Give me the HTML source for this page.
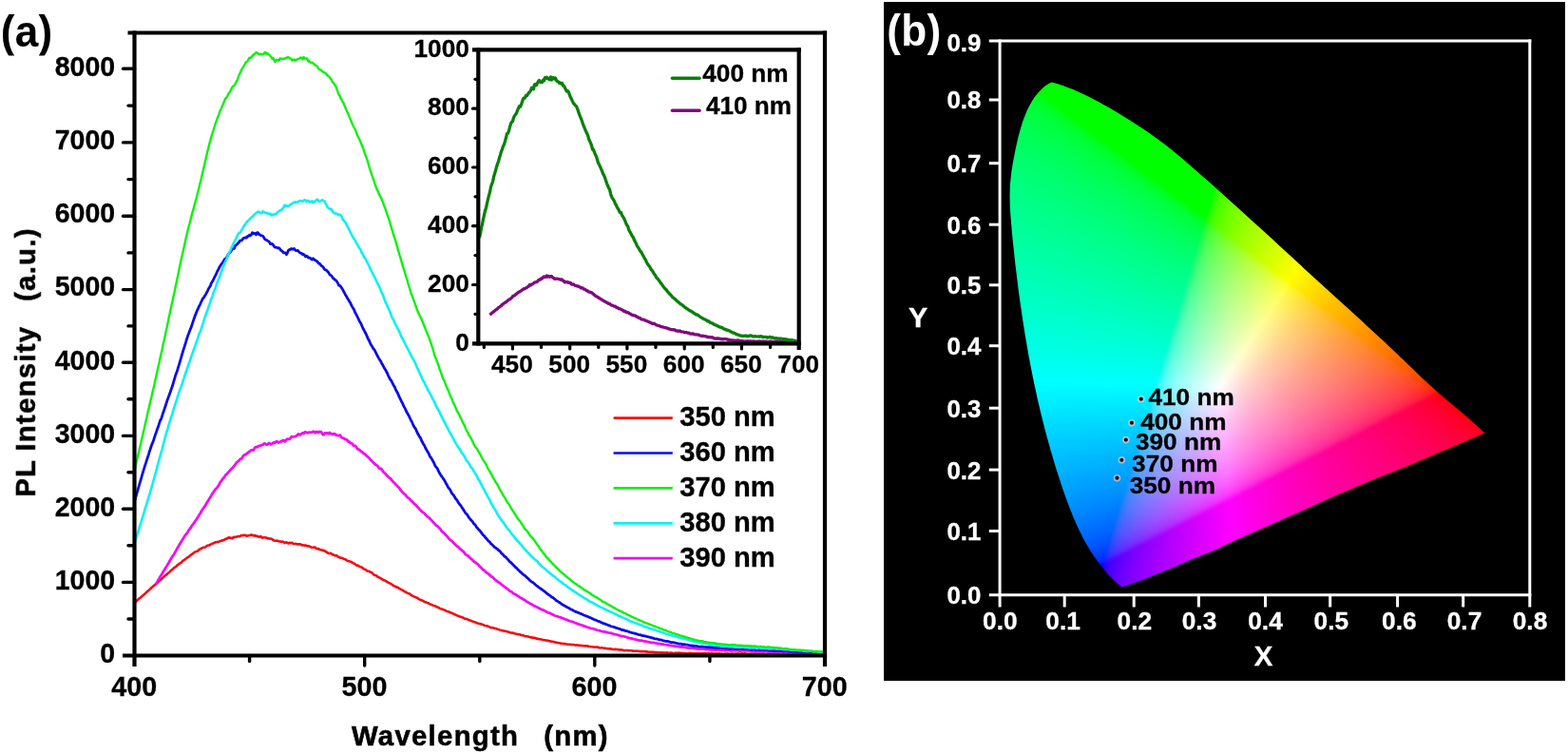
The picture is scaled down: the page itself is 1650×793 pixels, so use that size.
<!DOCTYPE html>
<html lang="en"><head><meta charset="utf-8"><title>PL spectra and CIE chromaticity</title>
<style>
html,body{margin:0;padding:0;background:#fff}
body{width:1650px;height:793px;position:relative;overflow:hidden;font-family:"Liberation Sans",Arial,Helvetica,sans-serif}
#panel{position:absolute;left:929.6px;top:1.5px;width:717.9px;height:714.7px;background:#000}
#gw{position:absolute;left:0;top:0;width:1650px;height:793px;filter:blur(0.6px)}
#gamut{position:absolute;left:1060px;top:84px;width:506px;height:536px;clip-path:polygon(120.8px 533.5px,117.5px 531px,114.4px 528.2px,111.4px 525.4px,108.5px 522.5px,105.7px 519.5px,103px 516.4px,100.4px 513.3px,97.9px 510.1px,95.4px 506.9px,93px 503.6px,90.7px 500.3px,88.5px 496.9px,86.4px 493.4px,84.3px 490px,82.3px 486.4px,80.3px 482.9px,78.4px 479.2px,76.6px 475.6px,74.8px 471.9px,73.1px 468.2px,71.5px 464.5px,69.8px 460.7px,68.3px 456.9px,66.7px 453.1px,65.2px 449.3px,63.8px 445.4px,62.3px 441.5px,60.9px 437.7px,59.6px 433.8px,58.2px 429.9px,56.9px 426px,55.6px 422.1px,54.3px 418.1px,53.1px 414.2px,51.8px 410.3px,50.6px 406.4px,49.4px 402.5px,48.2px 398.5px,47.1px 394.6px,45.9px 390.7px,44.8px 386.7px,43.7px 382.8px,42.6px 378.8px,41.5px 374.9px,40.5px 371px,39.4px 367px,38.4px 363px,37.4px 359.1px,36.4px 355.1px,35.4px 351.1px,34.5px 347.2px,33.6px 343.2px,32.6px 339.2px,31.7px 335.2px,30.8px 331.3px,30px 327.3px,29.1px 323.3px,28.2px 319.3px,27.4px 315.3px,26.6px 311.3px,25.8px 307.3px,25px 303.3px,24.2px 299.3px,23.5px 295.3px,22.7px 291.3px,22px 287.2px,21.3px 283.2px,20.6px 279.2px,19.9px 275.2px,19.2px 271.1px,18.5px 267.1px,17.9px 263.1px,17.2px 259px,16.6px 255px,16px 250.9px,15.4px 246.9px,14.8px 242.8px,14.2px 238.8px,13.6px 234.7px,13px 230.6px,12.5px 226.6px,11.9px 222.5px,11.4px 218.4px,10.9px 214.4px,10.4px 210.3px,9.9px 206.2px,9.4px 202.1px,8.9px 198.1px,8.4px 194px,8px 189.9px,7.5px 185.8px,7.1px 181.8px,6.7px 177.7px,6.2px 173.6px,5.8px 169.5px,5.4px 165.4px,5px 161.4px,4.6px 157.3px,4.3px 153.2px,3.9px 149.1px,3.6px 145.1px,3.3px 141px,3px 136.9px,2.8px 132.9px,2.7px 128.8px,2.6px 124.7px,2.6px 120.7px,2.7px 116.6px,2.8px 112.6px,3.1px 108.5px,3.5px 104.5px,3.9px 100.4px,4.4px 96.4px,5px 92.4px,5.7px 88.3px,6.4px 84.3px,7.2px 80.2px,8px 76.1px,8.8px 72.1px,9.7px 68px,10.6px 63.9px,11.5px 59.9px,12.6px 55.9px,13.7px 51.9px,14.9px 47.9px,16.1px 44px,17.5px 40.2px,19px 36.4px,20.6px 32.6px,22.3px 29px,24.2px 25.4px,26.2px 22px,28.4px 18.6px,30.8px 15.4px,33.4px 12.4px,36.3px 9.5px,39.3px 6.8px,42.7px 4.4px,46.5px 2.4px,52.3px 3.9px,58px 5.8px,63.6px 7.9px,69.1px 10.1px,74.6px 12.4px,80px 14.9px,85.3px 17.5px,90.6px 20.2px,95.9px 23px,101.1px 25.9px,106.2px 28.8px,111.4px 31.8px,116.5px 34.8px,121.6px 37.9px,126.6px 41.1px,131.7px 44.3px,136.7px 47.5px,141.7px 50.8px,146.6px 54.1px,151.5px 57.5px,156.4px 61px,161.2px 64.5px,166px 68.1px,170.6px 71.8px,175.3px 75.5px,179.9px 79.3px,184.4px 83.1px,189px 87px,193.5px 90.9px,197.9px 94.8px,202.4px 98.8px,206.9px 102.7px,211.4px 106.6px,215.8px 110.6px,220.3px 114.5px,224.7px 118.5px,229.2px 122.5px,233.6px 126.5px,238px 130.5px,242.5px 134.5px,246.9px 138.5px,251.3px 142.5px,255.7px 146.5px,260.1px 150.5px,264.6px 154.5px,269px 158.5px,273.4px 162.6px,277.8px 166.6px,282.2px 170.6px,286.6px 174.7px,291px 178.7px,295.4px 182.7px,299.8px 186.8px,304.1px 190.8px,308.5px 194.8px,312.9px 198.9px,317.3px 202.9px,321.7px 206.9px,326.1px 211px,330.5px 215px,334.9px 219px,339.3px 223px,343.7px 227.1px,348.1px 231.1px,352.5px 235.1px,357px 239.1px,361.4px 243.1px,365.8px 247.1px,370.2px 251.1px,374.6px 255.1px,379px 259.2px,383.4px 263.2px,387.7px 267.2px,392.1px 271.3px,396.5px 275.3px,400.8px 279.4px,405.2px 283.5px,409.5px 287.6px,413.8px 291.7px,418.1px 295.8px,422.4px 300px,426.7px 304.1px,431px 308.3px,435.3px 312.4px,439.7px 316.5px,444px 320.6px,448.5px 324.6px,452.9px 328.5px,457.5px 332.4px,462px 336.3px,466.6px 340.1px,471.2px 343.9px,475.7px 347.7px,480.3px 351.6px,484.8px 355.5px,489.3px 359.4px,493.8px 363.4px,498.1px 367.4px,502.4px 371.6px,462px 388.8px,421.7px 405.9px,381.4px 422.1px,341px 439.2px,310.8px 453px,240px 484.3px,217.3px 494.9px,193px 504.8px,171.8px 513.9px,141.5px 526.2px)}
#rows{position:absolute;left:0;top:0;width:100%;height:100%;filter:blur(1.8px)}
#gamut i{position:absolute;display:block;height:2.5px}
svg{position:absolute;left:0;top:0}
</style></head><body>
<div id="panel"></div>
<div id="gw"><div id="gamut"><div id="rows"><i style="left:35px;top:2px;width:27px;background:linear-gradient(90deg,#00ff00 0px,#00ff00 26px)"></i><i style="left:32px;top:4px;width:36px;background:linear-gradient(90deg,#00ff00 0px,#00ff00 35px)"></i><i style="left:29px;top:6px;width:44px;background:linear-gradient(90deg,#00ff00 0px,#00ff00 43px)"></i><i style="left:27px;top:8px;width:51px;background:linear-gradient(90deg,#00ff00 0px,#00ff00 50px)"></i><i style="left:25px;top:10px;width:58px;background:linear-gradient(90deg,#00ff16 0px,#00ff0d 2px,#00ff00 3px,#00ff00 57px)"></i><i style="left:24px;top:12px;width:63px;background:linear-gradient(90deg,#00ff20 0px,#00ff11 5px,#00ff00 7px,#00ff00 62px)"></i><i style="left:22px;top:14px;width:70px;background:linear-gradient(90deg,#00ff28 0px,#00ff14 9px,#00ff0f 10px,#00ff03 11px,#00ff00 17px,#00ff00 69px)"></i><i style="left:20px;top:16px;width:76px;background:linear-gradient(90deg,#00ff2e 0px,#00ff1c 11px,#00ff0d 15px,#00ff00 16px,#00ff00 75px)"></i><i style="left:19px;top:18px;width:81px;background:linear-gradient(90deg,#00ff33 0px,#00ff1e 14px,#00ff11 18px,#00ff00 20px,#00ff00 80px)"></i><i style="left:18px;top:20px;width:85px;background:linear-gradient(90deg,#00ff36 0px,#00ff21 16px,#00ff0f 22px,#00ff00 23px,#00ff00 83px,#00ff00 84px)"></i><i style="left:17px;top:22px;width:90px;background:linear-gradient(90deg,#00ff3a 0px,#00ff23 19px,#00ff12 25px,#00ff0c 26px,#00ff00 27px,#00ff00 87px,#00ff00 89px)"></i><i style="left:15px;top:24px;width:96px;background:linear-gradient(90deg,#00ff3e 0px,#00ff26 22px,#00ff11 30px,#00ff00 32px,#00ff00 92px,#00ff00 95px)"></i><i style="left:14px;top:26px;width:100px;background:linear-gradient(90deg,#00ff41 0px,#00ff2a 23px,#00ff14 33px,#00ff0f 34px,#00ff00 35px,#00ff00 95px,#00ff00 99px)"></i><i style="left:13px;top:28px;width:105px;background:linear-gradient(90deg,#00ff44 0px,#00ff2a 27px,#00ff16 36px,#00ff0c 38px,#00ff00 39px,#00ff00 99px,#00ff00 104px)"></i><i style="left:12px;top:30px;width:109px;background:linear-gradient(90deg,#00ff46 0px,#00ff2f 27px,#00ff19 39px,#00ff11 41px,#00ff00 43px,#00ff00 103px,#00ff00 108px)"></i><i style="left:12px;top:32px;width:113px;background:linear-gradient(90deg,#00ff48 0px,#00ff30 29px,#00ff1b 41px,#00ff0e 44px,#00ff00 45px,#00ff00 105px,#00ff00 112px)"></i><i style="left:11px;top:34px;width:117px;background:linear-gradient(90deg,#00ff4b 0px,#00ff32 31px,#00ff1f 43px,#00ff12 47px,#00ff0c 48px,#00ff00 49px,#00ff00 109px,#00ff00 116px)"></i><i style="left:10px;top:36px;width:121px;background:linear-gradient(90deg,#00ff4d 0px,#00ff33 34px,#00ff1c 48px,#00ff10 51px,#00ff00 53px,#00ff00 113px,#00ff00 120px)"></i><i style="left:9px;top:38px;width:125px;background:linear-gradient(90deg,#00ff50 0px,#00ff36 35px,#00ff20 50px,#00ff14 54px,#00ff0e 55px,#00ff00 56px,#00ff00 116px,#00ff00 124px)"></i><i style="left:8px;top:40px;width:130px;background:linear-gradient(90deg,#00ff52 0px,#00ff38 36px,#00ff23 52px,#00ff12 58px,#00ff0c 59px,#00ff00 60px,#00ff00 120px,#00ff00 129px)"></i><i style="left:8px;top:42px;width:133px;background:linear-gradient(90deg,#00ff53 0px,#00ff3b 36px,#00ff25 54px,#00ff15 60px,#00ff00 63px,#00ff00 123px,#00ff00 132px)"></i><i style="left:7px;top:44px;width:137px;background:linear-gradient(90deg,#00ff55 0px,#00ff3b 40px,#00ff24 58px,#00ff14 64px,#00ff0e 65px,#00ff00 66px,#00ff00 126px,#00ff00 136px)"></i><i style="left:6px;top:46px;width:141px;background:linear-gradient(90deg,#00ff58 0px,#00ff3a 45px,#00ff24 62px,#00ff12 68px,#00ff00 70px,#00ff00 130px,#00ff00 140px)"></i><i style="left:6px;top:48px;width:144px;background:linear-gradient(90deg,#00ff59 0px,#00ff3c 46px,#00ff23 65px,#00ff15 70px,#00ff00 73px,#00ff00 133px,#00ff00 143px)"></i><i style="left:5px;top:50px;width:148px;background:linear-gradient(90deg,#00ff5b 0px,#00ff3f 46px,#00ff28 66px,#00ff14 74px,#00ff0e 75px,#00ff00 76px,#00ff00 136px,#00ff00 147px)"></i><i style="left:5px;top:52px;width:151px;background:linear-gradient(90deg,#00ff5d 0px,#00ff3f 49px,#00ff26 70px,#00ff12 77px,#00ff00 79px,#00ff00 139px,#00ff00 150px)"></i><i style="left:4px;top:54px;width:155px;background:linear-gradient(90deg,#00ff5e 0px,#00ff43 48px,#00ff29 72px,#00ff15 80px,#00ff00 83px,#00ff00 143px,#00ff00 154px)"></i><i style="left:4px;top:56px;width:158px;background:linear-gradient(90deg,#00ff60 0px,#00ff43 51px,#00ff2a 74px,#00ff18 82px,#00ff0e 84px,#00ff00 85px,#00ff00 145px,#00ff00 157px)"></i><i style="left:3px;top:58px;width:161px;background:linear-gradient(90deg,#00ff62 0px,#00ff45 52px,#00ff2d 76px,#00ff17 86px,#00ff0b 88px,#00ff00 89px,#00ff00 149px,#00ff00 160px)"></i><i style="left:3px;top:60px;width:164px;background:linear-gradient(90deg,#00ff63 0px,#00ff46 54px,#00ff2e 78px,#00ff19 88px,#00ff10 90px,#00ff05 91px,#00ff00 93px,#00ff00 153px,#00ff00 163px)"></i><i style="left:2px;top:62px;width:168px;background:linear-gradient(90deg,#00ff65 0px,#00ff48 55px,#00ff2c 83px,#00ff18 92px,#00ff0e 94px,#00ff00 95px,#00ff00 155px,#00ff00 167px)"></i><i style="left:2px;top:64px;width:171px;background:linear-gradient(90deg,#00ff66 0px,#00ff49 57px,#00ff2d 85px,#00ff17 95px,#00ff0a 97px,#00ff00 98px,#00ff00 158px,#00ff00 170px)"></i><i style="left:1px;top:66px;width:174px;background:linear-gradient(90deg,#00ff68 0px,#00ff4a 59px,#00ff31 86px,#00ff1c 97px,#00ff10 100px,#00ff03 101px,#00ff00 107px,#00ff00 167px,#00ff00 173px)"></i><i style="left:1px;top:68px;width:177px;background:linear-gradient(90deg,#00ff69 0px,#00ff4b 60px,#00ff32 88px,#00ff1e 99px,#00ff0e 103px,#00ff00 104px,#00ff00 164px,#00ff00 176px)"></i><i style="left:0px;top:70px;width:180px;background:linear-gradient(90deg,#00ff6b 0px,#00ff4e 60px,#00ff34 90px,#00ff20 102px,#00ff12 106px,#00ff00 108px,#00ff00 168px,#00ff00 179px)"></i><i style="left:0px;top:72px;width:183px;background:linear-gradient(90deg,#00ff6c 0px,#00ff50 60px,#00ff35 92px,#00ff22 104px,#00ff10 109px,#00ff00 110px,#00ff00 170px,#00ff00 182px)"></i><i style="left:-1px;top:74px;width:186px;background:linear-gradient(90deg,#00ff6e 0px,#00ff52 60px,#00ff3a 91px,#00ff25 106px,#00ff14 112px,#00ff0d 113px,#00ff00 114px,#00ff00 174px,#00ff00 185px)"></i><i style="left:-1px;top:76px;width:189px;background:linear-gradient(90deg,#00ff6f 0px,#00ff54 60px,#00ff3b 93px,#00ff25 109px,#00ff12 115px,#00ff00 117px,#00ff00 177px,#00ff00 188px)"></i><i style="left:-1px;top:78px;width:191px;background:linear-gradient(90deg,#00ff70 0px,#00ff56 60px,#00ff3b 96px,#00ff24 112px,#00ff15 117px,#00ff10 118px,#00ff00 119px,#00ff00 179px,#00ff00 190px)"></i><i style="left:-2px;top:80px;width:195px;background:linear-gradient(90deg,#00ff72 0px,#00ff58 60px,#00ff3e 97px,#00ff26 115px,#00ff14 121px,#00ff0d 122px,#00ff00 123px,#00ff00 183px,#00ff00 194px)"></i><i style="left:-2px;top:82px;width:197px;background:linear-gradient(90deg,#00ff73 0px,#00ff5a 60px,#00ff3e 100px,#00ff27 117px,#00ff17 123px,#00ff09 125px,#00ff00 126px,#00ff00 186px,#00ff00 196px)"></i><i style="left:-2px;top:84px;width:199px;background:linear-gradient(90deg,#00ff74 0px,#00ff5c 60px,#00ff3f 102px,#00ff27 120px,#00ff15 126px,#00ff10 127px,#00ff00 128px,#00ff00 188px,#00ff00 198px)"></i><i style="left:-3px;top:86px;width:203px;background:linear-gradient(90deg,#00ff76 0px,#00ff5e 60px,#00ff40 105px,#00ff26 124px,#00ff14 130px,#00ff0d 131px,#00ff00 132px,#00ff00 192px,#00ff00 202px)"></i><i style="left:-3px;top:88px;width:205px;background:linear-gradient(90deg,#00ff77 0px,#00ff60 60px,#00ff42 105px,#00ff2b 124px,#00ff17 132px,#00ff09 134px,#00ff00 135px,#00ff00 195px,#00ff00 204px)"></i><i style="left:-3px;top:90px;width:207px;background:linear-gradient(90deg,#00ff78 0px,#00ff61 60px,#00ff45 105px,#00ff2b 127px,#00ff1a 134px,#00ff10 136px,#00ff00 137px,#00ff00 197px,#00ff00 206px)"></i><i style="left:-4px;top:92px;width:210px;background:linear-gradient(90deg,#00ff7a 0px,#00ff63 60px,#00ff46 108px,#00ff2c 130px,#00ff18 138px,#00ff0d 140px,#00ff00 141px,#00ff00 201px,#00ff00 209px)"></i><i style="left:-4px;top:94px;width:213px;background:linear-gradient(90deg,#00ff7b 0px,#00ff65 60px,#00ff46 111px,#00ff2c 133px,#00ff17 141px,#00ff08 143px,#00ff00 144px,#00ff00 204px,#00ff00 212px)"></i><i style="left:-4px;top:96px;width:215px;background:linear-gradient(90deg,#00ff7c 0px,#00ff66 60px,#00ff4a 109px,#00ff30 133px,#00ff1a 143px,#00ff0f 145px,#00ff00 146px,#00ff00 206px,#00ff00 214px)"></i><i style="left:-5px;top:98px;width:218px;background:linear-gradient(90deg,#00ff7d 0px,#00ff68 60px,#00ff4c 110px,#00ff33 135px,#00ff1f 145px,#00ff14 148px,#00ff00 150px,#00ff00 210px,#00ff00 217px)"></i><i style="left:-5px;top:100px;width:221px;background:linear-gradient(90deg,#00ff7f 0px,#00ff6a 60px,#00ff4c 113px,#00ff34 137px,#00ff1e 148px,#00ff12 151px,#00ff00 153px,#00ff00 213px,#00ff00 220px)"></i><i style="left:-5px;top:102px;width:223px;background:linear-gradient(90deg,#00ff80 0px,#00ff6b 60px,#00ff4f 112px,#00ff35 139px,#00ff20 150px,#00ff16 153px,#00ff0f 154px,#00ff00 155px,#00ff00 215px,#00ff00 222px)"></i><i style="left:-5px;top:104px;width:225px;background:linear-gradient(90deg,#00ff81 0px,#00ff6d 60px,#00ff4f 115px,#00ff32 144px,#00ff1c 154px,#00ff14 156px,#00ff00 158px,#00ff00 218px,#00ff00 224px)"></i><i style="left:-5px;top:106px;width:227px;background:linear-gradient(90deg,#00ff82 0px,#00ff6e 60px,#00ff50 117px,#00ff33 146px,#00ff1b 157px,#00ff12 159px,#00ff06 160px,#00ff00 161px,#00ff00 221px,#00ff00 226px)"></i><i style="left:-6px;top:108px;width:231px;background:linear-gradient(90deg,#00ff83 0px,#00ff70 60px,#00ff52 118px,#00ff37 147px,#00ff21 159px,#00ff0f 163px,#00ff00 164px,#00ff00 224px,#00ff00 227px,#1bff00 228px,#2dff00 230px)"></i><i style="left:-6px;top:110px;width:233px;background:linear-gradient(90deg,#00ff84 0px,#00ff71 60px,#00ff53 120px,#00ff37 150px,#00ff1d 163px,#00ff0c 166px,#00ff00 167px,#00ff00 226px,#14ff00 227px,#22ff00 228px,#3bff00 232px)"></i><i style="left:-6px;top:112px;width:235px;background:linear-gradient(90deg,#00ff86 0px,#00ff73 60px,#00ff55 120px,#00ff38 152px,#00ff22 164px,#00ff12 168px,#00ff05 169px,#00ff00 171px,#00ff00 225px,#04ff00 226px,#1dff00 227px,#35ff00 230px,#46ff00 234px)"></i><i style="left:-6px;top:114px;width:237px;background:linear-gradient(90deg,#00ff87 0px,#00ff74 60px,#00ff57 120px,#00ff3e 150px,#00ff24 166px,#00ff16 170px,#00ff0f 171px,#00ff00 172px,#00ff00 225px,#18ff00 226px,#2cff00 228px,#49ff00 234px,#4fff00 236px)"></i><i style="left:-6px;top:116px;width:240px;background:linear-gradient(90deg,#00ff88 0px,#00ff75 60px,#00ff59 120px,#00ff3f 152px,#00ff28 167px,#00ff14 173px,#00ff00 175px,#00ff00 224px,#20ff00 226px,#3bff00 230px,#5aff00 239px)"></i><i style="left:-6px;top:118px;width:242px;background:linear-gradient(90deg,#00ff89 0px,#00ff77 60px,#00ff5b 120px,#00ff41 153px,#00ff27 170px,#00ff17 175px,#00ff12 176px,#00ff03 177px,#00ff00 183px,#00ff00 224px,#1bff00 225px,#2eff00 227px,#4aff00 233px,#61ff00 241px)"></i><i style="left:-6px;top:120px;width:244px;background:linear-gradient(90deg,#00ff8a 0px,#00ff78 60px,#00ff5d 120px,#00ff42 155px,#00ff29 172px,#00ff16 178px,#00ff0f 179px,#00ff00 180px,#00ff00 223px,#14ff00 224px,#2bff00 226px,#48ff00 232px,#67ff00 243px)"></i><i style="left:-6px;top:122px;width:246px;background:linear-gradient(90deg,#00ff8b 0px,#00ff79 60px,#00ff5f 120px,#00ff44 156px,#00ff2a 174px,#00ff19 180px,#00ff0b 182px,#00ff00 183px,#00ff00 222px,#03ff00 223px,#1eff00 224px,#35ff00 227px,#51ff00 234px,#6dff00 245px)"></i><i style="left:-6px;top:124px;width:249px;background:linear-gradient(90deg,#00ff8c 0px,#00ff7b 60px,#00ff61 120px,#00ff45 157px,#00ff2e 175px,#00ff17 183px,#00ff11 184px,#00ff00 185px,#00ff00 222px,#18ff00 223px,#2cff00 225px,#46ff00 230px,#6dff00 244px,#75ff00 248px)"></i><i style="left:-6px;top:126px;width:251px;background:linear-gradient(90deg,#00ff8d 0px,#00ff7c 60px,#00ff62 120px,#00ff48 157px,#00ff2f 177px,#00ff1a 185px,#00ff0f 187px,#00ff00 188px,#00ff00 221px,#20ff00 223px,#31ff00 225px,#4fff00 232px,#72ff00 246px,#7aff00 250px)"></i><i style="left:-6px;top:128px;width:253px;background:linear-gradient(90deg,#00ff8e 0px,#00ff7d 60px,#00ff64 120px,#00ff4a 158px,#00ff32 178px,#00ff1d 187px,#00ff14 189px,#00ff00 191px,#00ff00 221px,#1bff00 222px,#2eff00 224px,#47ff00 229px,#6eff00 243px,#7fff00 252px)"></i><i style="left:-6px;top:130px;width:255px;background:linear-gradient(90deg,#00ff90 0px,#00ff7f 60px,#00ff66 120px,#00ff4a 161px,#00ff32 181px,#00ff1c 190px,#00ff11 192px,#00ff00 193px,#00ff00 220px,#15ff00 221px,#23ff00 222px,#3dff00 226px,#5fff00 236px,#84ff00 254px)"></i><i style="left:-6px;top:132px;width:257px;background:linear-gradient(90deg,#00ff91 0px,#00ff80 60px,#00ff68 120px,#00ff4a 164px,#00ff30 185px,#00ff1b 193px,#00ff0e 195px,#00ff00 196px,#00ff00 219px,#03ff00 220px,#1eff00 221px,#36ff00 224px,#55ff00 232px,#7bff00 248px,#89ff00 256px)"></i><i style="left:-6px;top:134px;width:260px;background:linear-gradient(90deg,#00ff92 0px,#00ff81 60px,#00ff6a 120px,#00ff4c 165px,#00ff31 187px,#00ff1d 195px,#00ff14 197px,#00ff00 199px,#00ff00 219px,#18ff00 220px,#2dff00 222px,#4aff00 228px,#6cff00 240px,#8fff00 259px)"></i><i style="left:-6px;top:136px;width:262px;background:linear-gradient(90deg,#00ff93 0px,#00ff83 60px,#00ff6b 120px,#00ff4e 166px,#00ff31 190px,#00ff1c 198px,#00ff11 200px,#00ff00 201px,#00ff00 218px,#21ff00 220px,#3cff00 224px,#5fff00 234px,#87ff00 253px,#94ff00 261px)"></i><i style="left:-5px;top:138px;width:263px;background:linear-gradient(90deg,#00ff94 0px,#00ff84 60px,#00ff6c 120px,#00ff51 164px,#00ff37 188px,#00ff1f 199px,#00ff0e 202px,#00ff00 203px,#00ff00 217px,#1cff00 218px,#2fff00 220px,#4fff00 227px,#73ff00 241px,#98ff00 262px)"></i><i style="left:-5px;top:140px;width:265px;background:linear-gradient(90deg,#00ff95 0px,#00ff85 60px,#00ff6e 120px,#00ff52 166px,#00ff37 191px,#00ff21 201px,#00ff14 204px,#00ff00 206px,#00ff00 216px,#15ff00 217px,#2cff00 219px,#4aff00 225px,#6cff00 237px,#98ff00 261px,#9cff00 264px)"></i><i style="left:-5px;top:142px;width:268px;background:linear-gradient(90deg,#00ff96 0px,#00ff86 60px,#00ff70 120px,#00ff53 168px,#00ff38 193px,#00ff20 204px,#00ff11 207px,#00ff00 208px,#02ff00 216px,#1eff00 217px,#30ff00 219px,#49ff00 224px,#70ff00 238px,#a1ff00 266px,#a2ff00 267px)"></i><i style="left:-5px;top:144px;width:270px;background:linear-gradient(90deg,#00ff97 0px,#00ff88 60px,#00ff71 120px,#00ff55 169px,#00ff38 196px,#00ff22 206px,#00ff16 209px,#00ff0e 210px,#00ff00 211px,#00ff00 215px,#19ff00 216px,#2dff00 218px,#43ff00 222px,#66ff00 233px,#93ff00 256px,#a6ff00 269px)"></i><i style="left:-5px;top:146px;width:272px;background:linear-gradient(90deg,#00ff98 0px,#00ff89 60px,#00ff73 120px,#00ff57 169px,#00ff3c 196px,#00ff25 208px,#00ff14 212px,#00ff00 214px,#21ff00 216px,#38ff00 219px,#57ff00 227px,#7dff00 243px,#aaff00 271px)"></i><i style="left:-5px;top:148px;width:274px;background:linear-gradient(90deg,#00ff99 0px,#00ff8a 60px,#00ff75 120px,#00ff56 174px,#00ff39 201px,#00ff24 211px,#00ff18 214px,#1cff11 215px,#27ff00 216px,#40ff00 220px,#62ff00 230px,#8aff00 249px,#aeff00 273px)"></i><i style="left:-5px;top:150px;width:276px;background:linear-gradient(90deg,#00ff9a 0px,#00ff8b 60px,#00ff76 120px,#00ff5b 170px,#00ff41 198px,#00ff28 212px,#00ff26 213px,#15ff23 214px,#2cff1b 216px,#39ff0e 218px,#3eff00 219px,#61ff00 229px,#8dff00 250px,#b2ff00 275px)"></i><i style="left:-4px;top:152px;width:277px;background:linear-gradient(90deg,#00ff9b 0px,#00ff8c 60px,#00ff78 120px,#00ff57 178px,#00ff3a 205px,#00ff2d 212px,#1fff2a 213px,#37ff22 216px,#45ff14 219px,#4dff00 221px,#6fff00 233px,#9dff00 258px,#b6ff00 276px)"></i><i style="left:-4px;top:154px;width:280px;background:linear-gradient(90deg,#00ff9c 0px,#00ff8e 60px,#00ff79 120px,#00ff5c 174px,#00ff42 202px,#00ff34 211px,#19ff32 212px,#2eff2e 214px,#4cff1d 220px,#53ff11 222px,#56ff00 223px,#7dff00 239px,#aeff00 269px,#bbff00 279px)"></i><i style="left:-4px;top:156px;width:282px;background:linear-gradient(90deg,#00ff9d 0px,#00ff8f 60px,#00ff7b 120px,#00ff5d 176px,#00ff42 205px,#00ff3b 210px,#21ff37 212px,#38ff32 215px,#52ff23 221px,#5bff16 224px,#61ff00 226px,#8cff00 246px,#bfff00 281px)"></i><i style="left:-4px;top:158px;width:284px;background:linear-gradient(90deg,#00ff9e 0px,#00ff90 60px,#00ff7c 120px,#00ff60 175px,#00ff43 207px,#00ff3f 210px,#1cff3d 211px,#30ff3a 213px,#4dff2f 219px,#63ff1a 226px,#65ff14 227px,#68ff07 228px,#6aff00 229px,#94ff00 250px,#c3ff00 283px)"></i><i style="left:-4px;top:160px;width:286px;background:linear-gradient(90deg,#00ffa0 0px,#00ff91 60px,#00ff7e 120px,#00ff5f 180px,#00ff44 209px,#15ff43 210px,#24ff41 211px,#3fff3c 215px,#62ff27 225px,#6cff18 229px,#6fff11 230px,#71ff00 231px,#9fff00 256px,#c7ff00 285px)"></i><i style="left:-3px;top:162px;width:287px;background:linear-gradient(90deg,#00ffa0 0px,#00ff92 60px,#00ff7f 120px,#00ff61 179px,#00ff47 208px,#1fff46 209px,#31ff44 211px,#4eff3b 217px,#6bff27 227px,#75ff16 231px,#79ff00 233px,#a8ff00 260px,#cbff00 286px)"></i><i style="left:-3px;top:164px;width:290px;background:linear-gradient(90deg,#00ffa2 0px,#00ff94 60px,#00ff81 120px,#00ff63 179px,#00ff4c 207px,#19ff4b 208px,#2eff48 210px,#49ff42 215px,#70ff2b 228px,#7bff1a 233px,#7dff14 234px,#7fff06 235px,#81ff00 236px,#b3ff00 267px,#d0ff00 289px)"></i><i style="left:-3px;top:166px;width:292px;background:linear-gradient(90deg,#00ffa3 0px,#00ff95 60px,#00ff82 120px,#00ff65 180px,#00ff50 206px,#22ff4e 208px,#39ff4b 211px,#59ff41 219px,#7aff28 232px,#82ff18 236px,#84ff11 237px,#86ff00 238px,#b9ff00 270px,#d4ff00 291px)"></i><i style="left:-3px;top:168px;width:294px;background:linear-gradient(90deg,#00ffa4 0px,#00ff96 60px,#00ff84 120px,#00ff67 180px,#00ff53 206px,#1cff52 207px,#30ff50 209px,#4eff4a 215px,#73ff37 228px,#84ff24 236px,#89ff16 239px,#8dff00 241px,#c6ff00 279px,#d8ff00 293px)"></i><i style="left:-3px;top:170px;width:296px;background:linear-gradient(90deg,#00ffa5 0px,#00ff98 60px,#00ff85 120px,#00ff69 180px,#00ff57 205px,#15ff56 206px,#24ff55 207px,#40ff51 211px,#63ff46 221px,#83ff2e 235px,#8eff1a 241px,#90ff14 242px,#92ff04 243px,#95ff00 245px,#caff00 281px,#dbff00 295px)"></i><i style="left:-2px;top:172px;width:297px;background:linear-gradient(90deg,#00ffa6 0px,#00ff99 60px,#00ff86 120px,#00ff6b 180px,#00ff59 204px,#1fff59 205px,#32ff57 207px,#4fff51 213px,#74ff42 226px,#8eff28 239px,#95ff18 243px,#97ff11 244px,#99ff00 245px,#d8ff00 290px,#dfff00 296px)"></i><i style="left:-2px;top:174px;width:300px;background:linear-gradient(90deg,#00ffa7 0px,#00ff9a 60px,#00ff88 120px,#00ff6d 180px,#00ff5d 203px,#19ff5c 204px,#2fff5a 206px,#4aff56 211px,#6fff49 223px,#90ff30 239px,#9aff1c 245px,#9dff0c 247px,#9fff00 248px,#e1ff00 296px,#e4ff00 299px)"></i><i style="left:-2px;top:176px;width:302px;background:linear-gradient(90deg,#00ffa8 0px,#00ff9b 60px,#00ff8a 120px,#00ff6f 180px,#00ff60 202px,#22ff5f 204px,#3aff5c 207px,#5eff54 216px,#8aff3d 235px,#9bff27 245px,#a2ff14 249px,#a4ff00 250px,#e8ff00 301px)"></i><i style="left:-2px;top:178px;width:304px;background:linear-gradient(90deg,#00ffa9 0px,#00ff9c 60px,#00ff8b 120px,#00ff71 180px,#00ff63 202px,#1dff62 203px,#31ff60 205px,#4fff5c 211px,#72ff50 223px,#96ff37 241px,#a3ff22 249px,#a8ff11 252px,#aaff00 253px,#ecff00 303px)"></i><i style="left:-2px;top:180px;width:306px;background:linear-gradient(90deg,#00ffaa 0px,#00ff9e 60px,#00ff8d 120px,#00ff73 180px,#00ff66 201px,#16ff65 202px,#25ff64 203px,#40ff61 207px,#5fff5b 215px,#89ff48 233px,#a2ff30 247px,#abff1c 253px,#aeff0c 255px,#afff00 256px,#f0ff00 305px)"></i><i style="left:-1px;top:182px;width:307px;background:linear-gradient(90deg,#00ffab 0px,#00ff9f 60px,#00ff8e 120px,#00ff74 180px,#00ff68 200px,#20ff67 201px,#32ff66 203px,#50ff62 209px,#73ff57 221px,#9cff3e 242px,#acff27 252px,#b2ff14 256px,#b4ff00 257px,#f4ff00 306px)"></i><i style="left:-1px;top:184px;width:309px;background:linear-gradient(90deg,#00ffac 0px,#00ffa0 60px,#00ff8f 120px,#00ff76 180px,#00ff6b 199px,#1aff6a 200px,#30ff69 202px,#4fff65 208px,#70ff5c 219px,#9eff42 242px,#b1ff2a 254px,#b7ff19 258px,#b8ff10 259px,#baff00 260px,#f7ff00 308px)"></i><i style="left:-1px;top:186px;width:312px;background:linear-gradient(90deg,#00ffad 0px,#00ffa1 60px,#00ff91 120px,#00ff78 180px,#00ff6e 198px,#22ff6d 200px,#3aff6b 203px,#5cff65 211px,#86ff57 228px,#acff3a 250px,#b8ff25 258px,#bcff16 261px,#bfff00 263px,#fdff00 311px)"></i><i style="left:-1px;top:188px;width:314px;background:linear-gradient(90deg,#00ffae 0px,#00ffa2 60px,#00ff92 120px,#00ff7a 180px,#00ff70 198px,#1dff70 199px,#31ff6e 201px,#4cff6b 206px,#6fff63 217px,#a1ff4a 242px,#b7ff33 256px,#bfff20 262px,#c2ff14 264px,#c4ff00 265px,#fffe00 313px)"></i><i style="left:-1px;top:190px;width:316px;background:linear-gradient(90deg,#00ffb0 0px,#00ffa4 60px,#00ff94 120px,#00ff7c 180px,#00ff73 197px,#16ff72 198px,#25ff72 199px,#3cff70 202px,#5dff6b 210px,#87ff5e 227px,#b1ff42 251px,#c1ff2a 262px,#c6ff19 266px,#c8ff10 267px,#c9ff00 268px,#fffd00 312px,#fffa00 315px)"></i><i style="left:0px;top:192px;width:317px;background:linear-gradient(90deg,#00ffb1 0px,#00ffa5 60px,#00ff95 120px,#00ff7e 180px,#00ff75 196px,#20ff75 197px,#3aff73 200px,#5cff6e 208px,#84ff62 224px,#b2ff46 250px,#c5ff2c 263px,#cbff1d 267px,#ccff17 268px,#cfff00 270px,#fffe00 309px,#fff600 316px)"></i><i style="left:0px;top:194px;width:319px;background:linear-gradient(90deg,#00ffb2 0px,#00ffa6 60px,#00ff96 120px,#00ff80 180px,#00ff78 195px,#1aff77 196px,#30ff76 198px,#4cff73 203px,#72ff6b 215px,#a2ff57 239px,#bfff3e 258px,#cdff25 268px,#d1ff14 271px,#d3ff00 272px,#fffe00 308px,#fff200 318px)"></i><i style="left:0px;top:196px;width:321px;background:linear-gradient(90deg,#00ffb3 0px,#00ffa7 60px,#00ff98 120px,#00ff81 180px,#00ff7a 194px,#23ff79 196px,#3bff78 199px,#5dff73 207px,#8aff67 225px,#bbff49 254px,#cfff2e 268px,#d4ff1f 272px,#d7ff10 274px,#d8ff00 275px,#fffd00 307px,#ffef00 320px)"></i><i style="left:0px;top:198px;width:324px;background:linear-gradient(90deg,#00ffb4 0px,#00ffa9 60px,#00ff99 120px,#00ff83 180px,#00ff7d 194px,#1dff7c 195px,#32ff7b 197px,#4dff78 202px,#73ff71 214px,#a5ff5e 239px,#c8ff41 262px,#d6ff2a 272px,#dbff17 276px,#deff00 278px,#fffd00 306px,#ffea00 323px)"></i><i style="left:1px;top:200px;width:325px;background:linear-gradient(90deg,#00ffb5 0px,#00ffaa 60px,#00ff9b 120px,#00ff85 180px,#00ff7f 192px,#16ff7f 193px,#2fff7e 195px,#4cff7b 200px,#75ff73 213px,#a5ff61 237px,#c9ff46 261px,#daff2c 273px,#dfff1b 277px,#e1ff14 278px,#e2ff00 279px,#fffe00 303px,#ffe700 324px)"></i><i style="left:1px;top:202px;width:327px;background:linear-gradient(90deg,#00ffb6 0px,#00ffab 60px,#00ff9c 120px,#00ff87 180px,#00ff81 192px,#21ff81 193px,#34ff80 195px,#52ff7c 201px,#79ff75 214px,#adff61 241px,#d0ff44 265px,#deff2f 275px,#e5ff19 280px,#e6ff10 281px,#e7ff00 282px,#fffd00 302px,#ffe300 326px)"></i><i style="left:1px;top:204px;width:329px;background:linear-gradient(90deg,#00ffb7 0px,#00ffac 60px,#00ff9e 120px,#00ff89 180px,#00ff84 191px,#1aff83 192px,#31ff82 194px,#51ff7f 200px,#7bff77 214px,#b0ff63 242px,#d5ff46 267px,#e5ff2b 279px,#eaff17 283px,#edff00 285px,#fffd00 301px,#ffe000 328px)"></i><i style="left:1px;top:206px;width:331px;background:linear-gradient(90deg,#00ffb8 0px,#00ffae 60px,#00ff9f 120px,#00ff8a 180px,#00ff86 190px,#23ff85 192px,#35ff84 194px,#50ff82 199px,#7aff7a 213px,#abff69 238px,#d8ff49 268px,#e9ff2d 281px,#eeff1c 285px,#f0ff14 286px,#f1ff00 287px,#fffd00 300px,#ffdd00 330px)"></i><i style="left:2px;top:208px;width:333px;background:linear-gradient(90deg,#00ffb9 0px,#00ffaf 60px,#00ffa0 120px,#00ff8c 180px,#00ff88 189px,#1eff88 190px,#33ff87 192px,#4eff84 197px,#72ff7f 208px,#a4ff70 232px,#d5ff51 264px,#e8ff3a 278px,#f3ff20 286px,#f5ff10 288px,#f6ff00 289px,#fffc00 298px,#ffd900 332px)"></i><i style="left:2px;top:210px;width:335px;background:linear-gradient(90deg,#00ffba 0px,#00ffb0 60px,#00ffa2 120px,#00ff8e 180px,#00ff8a 188px,#16ff8a 189px,#26ff8a 190px,#3dff88 193px,#58ff85 199px,#7bff7f 211px,#a9ff71 234px,#d9ff53 266px,#efff37 282px,#f7ff23 288px,#f9ff17 290px,#fbff08 291px,#fcff00 292px,#fff300 304px,#ffd600 334px)"></i><i style="left:2px;top:212px;width:337px;background:linear-gradient(90deg,#00ffbc 0px,#00ffb1 60px,#00ffa3 120px,#00ff90 180px,#00ff8c 188px,#21ff8c 189px,#3bff8b 192px,#5bff87 199px,#82ff80 213px,#b6ff6e 241px,#e3ff4f 272px,#f7ff31 287px,#feff1c 292px,#ffff14 293px,#fffe00 294px,#ffd200 336px)"></i><i style="left:2px;top:214px;width:339px;background:linear-gradient(90deg,#00ffbd 0px,#00ffb3 60px,#00ffa5 120px,#00ff92 180px,#00ff8f 187px,#1bff8e 188px,#32ff8d 190px,#52ff8b 196px,#75ff85 207px,#a7ff78 231px,#deff59 267px,#f5ff3f 284px,#ffff29 292px,#fffb19 295px,#fff800 297px,#ffcf00 338px)"></i><i style="left:3px;top:216px;width:340px;background:linear-gradient(90deg,#00ffbe 0px,#00ffb4 60px,#00ffa6 120px,#00ff93 180px,#00ff91 185px,#24ff90 187px,#43ff8e 191px,#66ff8a 200px,#92ff81 218px,#cdff69 253px,#f1ff4c 279px,#fffd32 291px,#fff71d 296px,#fff616 297px,#fff407 298px,#fff300 299px,#ffcc00 339px)"></i><i style="left:3px;top:218px;width:343px;background:linear-gradient(90deg,#00ffbf 0px,#00ffb5 60px,#00ffa8 120px,#00ff95 180px,#00ff93 185px,#1eff93 186px,#33ff92 188px,#4fff90 193px,#71ff8b 203px,#9fff80 224px,#daff65 261px,#f8ff4a 283px,#fffd3c 290px,#fff321 298px,#fff013 300px,#ffef00 301px,#ffc900 342px)"></i><i style="left:3px;top:220px;width:345px;background:linear-gradient(90deg,#00ffc0 0px,#00ffb6 60px,#00ffa9 120px,#00ff97 180px,#00ff95 184px,#17ff95 185px,#30ff94 187px,#4eff92 192px,#73ff8d 203px,#a3ff82 225px,#dfff66 263px,#fdff4c 285px,#fff22f 297px,#ffed18 302px,#ffea00 304px,#ffc600 344px)"></i><i style="left:3px;top:222px;width:347px;background:linear-gradient(90deg,#00ffc1 0px,#00ffb8 60px,#00ffab 120px,#00ff99 180px,#00ff97 184px,#21ff97 185px,#35ff96 187px,#55ff94 193px,#7fff8d 207px,#afff81 231px,#ebff62 271px,#fffd4d 287px,#ffec2a 301px,#ffe815 305px,#ffe704 306px,#ffe500 308px,#ffc300 346px)"></i><i style="left:4px;top:224px;width:348px;background:linear-gradient(90deg,#00ffc2 0px,#00ffb9 60px,#00ffac 120px,#00ff9a 180px,#00ff99 182px,#1bff99 183px,#32ff98 185px,#4fff96 190px,#71ff92 200px,#9aff8a 218px,#d5ff74 253px,#ffff56 283px,#ffeb32 300px,#ffe41a 306px,#ffe312 307px,#ffe200 308px,#ffc000 347px)"></i><i style="left:4px;top:226px;width:350px;background:linear-gradient(90deg,#00ffc4 0px,#00ffba 60px,#00ffae 120px,#00ff9c 180px,#00ff9c 181px,#24ff9b 183px,#3eff9a 186px,#61ff97 194px,#8cff90 210px,#c6ff7e 242px,#f6ff64 275px,#fffc58 284px,#ffe630 303px,#ffe11d 308px,#ffde0d 310px,#ffde00 311px,#ffbd00 349px)"></i><i style="left:4px;top:228px;width:352px;background:linear-gradient(90deg,#00ffc5 0px,#00ffbc 60px,#00ffaf 120px,#00ff9e 180px,#00ff9d 181px,#1fff9d 182px,#34ff9c 184px,#55ff9a 190px,#78ff96 201px,#a3ff8d 221px,#deff77 257px,#fffd5f 282px,#ffe334 304px,#ffdc1b 311px,#ffdb14 312px,#ffda00 313px,#ffbb00 351px)"></i><i style="left:4px;top:230px;width:355px;background:linear-gradient(90deg,#00ffc6 0px,#00ffbd 60px,#00ffb1 120px,#00ffa0 180px,#17ff9f 181px,#27ff9f 182px,#3fff9e 185px,#5fff9b 192px,#8bff95 208px,#c6ff85 240px,#fcff68 277px,#fff256 289px,#ffdd30 308px,#ffd819 314px,#ffd711 315px,#ffd600 316px,#ffb700 354px)"></i><i style="left:5px;top:232px;width:356px;background:linear-gradient(90deg,#00ffc7 0px,#00ffbe 60px,#00ffb2 120px,#00ffa2 179px,#22ffa1 180px,#3dffa0 183px,#5eff9e 190px,#88ff98 205px,#beff8b 233px,#ffff6b 277px,#ffde3b 305px,#ffd521 314px,#ffd316 316px,#ffd200 318px,#ffb400 355px)"></i><i style="left:5px;top:234px;width:358px;background:linear-gradient(90deg,#00ffc8 0px,#00ffbf 60px,#00ffb4 120px,#00ffa4 178px,#1bffa3 179px,#2affa3 180px,#46ffa2 184px,#64ff9f 191px,#93ff98 209px,#ceff88 242px,#ffff6f 276px,#ffdb3e 306px,#ffd223 316px,#ffcf13 319px,#ffce00 320px,#ffb200 357px)"></i><i style="left:5px;top:236px;width:360px;background:linear-gradient(90deg,#00ffc9 0px,#00ffc1 60px,#00ffb5 120px,#00ffa6 177px,#25ffa5 179px,#3fffa4 182px,#5fffa2 189px,#8cff9c 205px,#c3ff8f 234px,#fffe73 275px,#ffd83e 308px,#ffce22 319px,#ffcb10 322px,#ffca00 323px,#ffaf00 359px)"></i><i style="left:6px;top:238px;width:361px;background:linear-gradient(90deg,#00ffca 0px,#00ffc2 60px,#00ffb7 120px,#00ffa8 176px,#1fffa8 177px,#35ffa7 179px,#56ffa5 185px,#82ffa0 199px,#beff93 229px,#ffff78 272px,#ffd541 308px,#ffcb24 320px,#ffc815 323px,#ffc600 325px,#ffac00 360px)"></i><i style="left:6px;top:240px;width:364px;background:linear-gradient(90deg,#00ffcc 0px,#00ffc3 60px,#00ffb8 120px,#00ffaa 175px,#17ffaa 176px,#28ffa9 177px,#40ffa8 180px,#64ffa6 188px,#8fffa0 204px,#c8ff93 234px,#fffd7a 272px,#ffd241 310px,#ffc726 322px,#ffc412 326px,#ffc300 327px,#ffa900 363px)"></i><i style="left:6px;top:242px;width:366px;background:linear-gradient(90deg,#00ffcd 0px,#00ffc5 60px,#00ffba 120px,#00ffac 175px,#22ffac 176px,#37ffab 178px,#57ffa9 184px,#7effa5 196px,#adff9d 218px,#edff89 257px,#fffd7e 271px,#ffd147 309px,#ffc427 324px,#ffc117 328px,#ffc00f 329px,#ffbf00 330px,#ffa700 365px)"></i><i style="left:6px;top:244px;width:368px;background:linear-gradient(90deg,#00ffce 0px,#00ffc6 60px,#00ffbb 120px,#00ffae 174px,#1cffae 175px,#34ffad 177px,#4dffac 181px,#72ffa9 191px,#a2ffa2 211px,#e6ff8f 251px,#fffe83 269px,#ffd755 302px,#ffc431 323px,#ffbe1a 330px,#ffbc0a 332px,#ffbc00 333px,#ffa400 367px)"></i><i style="left:7px;top:246px;width:369px;background:linear-gradient(90deg,#00ffcf 0px,#00ffc7 60px,#00ffbd 120px,#00ffb0 172px,#25ffb0 174px,#40ffaf 177px,#64ffac 185px,#8effa7 200px,#c8ff9b 230px,#fffd86 267px,#ffcf4f 307px,#ffc132 324px,#ffbb1d 331px,#ffb912 333px,#ffb900 334px,#ffa100 368px)"></i><i style="left:7px;top:248px;width:371px;background:linear-gradient(90deg,#00ffd1 0px,#00ffc9 60px,#00ffbe 120px,#00ffb2 172px,#20ffb2 173px,#36ffb1 175px,#57ffaf 181px,#7cffac 192px,#adffa4 214px,#f4ff90 257px,#fffd89 266px,#ffd75f 298px,#ffbe33 326px,#ffb71b 334px,#ffb60e 336px,#ffb500 337px,#ff9f00 370px)"></i><i style="left:7px;top:250px;width:374px;background:linear-gradient(90deg,#00ffd2 0px,#00ffca 60px,#00ffc0 120px,#00ffb4 171px,#17ffb4 172px,#28ffb4 173px,#41ffb3 176px,#62ffb1 183px,#8dffac 198px,#c3ffa2 225px,#fffe8e 264px,#ffd561 298px,#ffbb34 328px,#ffb41e 336px,#ffb314 338px,#ffb200 340px,#ff9c00 373px)"></i><i style="left:8px;top:252px;width:375px;background:linear-gradient(90deg,#00ffd3 0px,#00ffcb 60px,#00ffc1 120px,#00ffb6 170px,#23ffb6 171px,#38ffb5 173px,#59ffb4 179px,#83ffb0 192px,#b6ffa8 216px,#feff93 260px,#ffd060 300px,#ffb836 328px,#ffb220 337px,#ffaf11 340px,#ffaf00 341px,#ff9900 374px)"></i><i style="left:8px;top:254px;width:377px;background:linear-gradient(90deg,#00ffd4 0px,#00ffcd 60px,#00ffc3 120px,#00ffb8 169px,#1cffb8 170px,#35ffb7 172px,#53ffb6 177px,#7dffb3 189px,#aeffac 211px,#efff9c 249px,#fffd94 261px,#ffd468 295px,#ffb639 329px,#ffae1f 340px,#ffac0d 343px,#ffab00 344px,#ff9700 376px)"></i><i style="left:8px;top:256px;width:379px;background:linear-gradient(90deg,#00ffd5 0px,#00ffce 60px,#00ffc5 120px,#00ffba 168px,#26ffba 170px,#41ffb9 173px,#66ffb7 181px,#93ffb2 197px,#d1ffa7 229px,#fffe99 259px,#ffd46d 293px,#ffb33a 331px,#ffab21 342px,#ffa913 345px,#ffa800 347px,#ff9400 378px)"></i><i style="left:9px;top:258px;width:380px;background:linear-gradient(90deg,#00ffd7 0px,#00ffd0 60px,#00ffc6 120px,#00ffbc 167px,#20ffbc 168px,#37ffbb 170px,#54ffba 175px,#75ffb8 184px,#a2ffb3 202px,#e5ffa5 239px,#fffd9b 257px,#ffd470 291px,#ffb039 333px,#ffa822 343px,#ffa610 347px,#ffa500 348px,#ff9200 379px)"></i><i style="left:9px;top:260px;width:383px;background:linear-gradient(90deg,#00ffd8 0px,#00ffd1 60px,#00ffc8 120px,#00ffbe 166px,#18ffbe 167px,#29ffbe 168px,#48ffbd 172px,#6bffbb 180px,#99ffb6 197px,#d3ffac 227px,#fffea0 255px,#ffd272 291px,#ffad3b 334px,#ffa521 346px,#ffa315 349px,#ffa200 351px,#ff8e00 382px)"></i><i style="left:9px;top:262px;width:385px;background:linear-gradient(90deg,#00ffd9 0px,#00ffd3 60px,#00ffca 120px,#00ffc0 166px,#23ffc0 167px,#39ffc0 169px,#5affbe 175px,#7dffbc 185px,#b0ffb5 207px,#faffa5 250px,#fffba0 256px,#ffcf72 292px,#ffac3f 334px,#ffa223 348px,#ffa012 352px,#ff9e00 354px,#ff8c00 384px)"></i><i style="left:10px;top:264px;width:386px;background:linear-gradient(90deg,#00ffda 0px,#00ffd4 60px,#00ffcb 120px,#00ffc2 164px,#1dffc2 165px,#35ffc2 167px,#4fffc1 171px,#73ffbf 180px,#9fffba 197px,#daffb0 228px,#fffda5 252px,#ffd279 287px,#ffa83e 336px,#ff9f22 350px,#ff9c0f 354px,#ff9c00 355px,#ff8900 385px)"></i><i style="left:10px;top:266px;width:388px;background:linear-gradient(90deg,#00ffdc 0px,#00ffd5 60px,#00ffcd 120px,#00ffc5 163px,#27ffc4 165px,#42ffc3 168px,#64ffc2 175px,#91ffbe 190px,#c7ffb7 216px,#ffffaa 250px,#ffd580 282px,#ffa844 334px,#ff9d26 351px,#ff9a14 356px,#ff9800 358px,#ff8700 387px)"></i><i style="left:10px;top:268px;width:390px;background:linear-gradient(90deg,#00ffdd 0px,#00ffd7 60px,#00ffce 120px,#00ffc6 163px,#21ffc6 164px,#38ffc6 166px,#56ffc5 171px,#7affc2 181px,#a7ffbe 199px,#e8ffb3 234px,#fffeac 249px,#ffd583 281px,#ffab4e 328px,#ff9c2e 350px,#ff9717 358px,#ff9612 359px,#ff9605 360px,#ff9400 362px,#ff8400 389px)"></i><i style="left:11px;top:270px;width:391px;background:linear-gradient(90deg,#00ffde 0px,#00ffd8 60px,#00ffd0 120px,#00ffc9 161px,#18ffc8 162px,#2affc8 163px,#4affc7 167px,#70ffc5 176px,#9cffc2 192px,#e0ffb7 227px,#fffeaf 247px,#ffd587 278px,#ffa84e 329px,#ff992f 351px,#ff941a 359px,#ff930f 361px,#ff9200 362px,#ff8200 390px)"></i><i style="left:11px;top:272px;width:394px;background:linear-gradient(90deg,#00ffe0 0px,#00ffda 60px,#00ffd2 120px,#00ffcb 161px,#24ffca 162px,#3affca 164px,#5cffc9 170px,#85ffc6 182px,#bbffc0 206px,#ffffb3 245px,#ffd98e 273px,#ffae5c 319px,#ff9835 350px,#ff9220 360px,#ff9013 363px,#ff8f00 365px,#ff7f00 393px)"></i><i style="left:11px;top:274px;width:396px;background:linear-gradient(90deg,#00ffe1 0px,#00ffdb 60px,#00ffd3 120px,#00ffcd 160px,#1dffcd 161px,#36ffcc 163px,#56ffcb 168px,#7effc9 179px,#afffc4 199px,#f8ffb8 239px,#fffbb3 246px,#ffd28a 278px,#ffa553 329px,#ff932f 356px,#ff8e17 365px,#ff8d11 366px,#ff8c03 367px,#ff8900 373px,#ff7c00 395px)"></i><i style="left:12px;top:276px;width:397px;background:linear-gradient(90deg,#00ffe2 0px,#00ffdd 60px,#00ffd5 120px,#00ffcf 158px,#27ffce 160px,#3cffce 162px,#5dffcd 168px,#80ffcb 178px,#b1ffc6 198px,#faffbb 238px,#fffab5 244px,#ffcd88 280px,#ffa050 333px,#ff902e 358px,#ff8b19 366px,#ff8a0e 368px,#ff8900 369px,#ff7a00 396px)"></i><i style="left:12px;top:278px;width:399px;background:linear-gradient(90deg,#00ffe4 0px,#00ffde 60px,#00ffd7 120px,#00ffd1 158px,#21ffd1 159px,#39ffd0 161px,#5cffcf 167px,#83ffcd 178px,#b7ffc8 200px,#feffbd 239px,#ffce8d 277px,#ffa054 331px,#ff8e32 358px,#ff881c 368px,#ff8713 370px,#ff8600 372px,#ff7700 398px)"></i><i style="left:12px;top:280px;width:401px;background:linear-gradient(90deg,#00ffe5 0px,#00ffe0 60px,#00ffd9 120px,#00ffd3 157px,#18ffd3 158px,#2affd3 159px,#45ffd2 162px,#67ffd1 169px,#90ffce 182px,#c9ffc8 208px,#fffebf 239px,#ffd395 271px,#ffa864 318px,#ff8e39 356px,#ff861e 370px,#ff8410 373px,#ff8300 374px,#ff7400 400px)"></i><i style="left:13px;top:282px;width:402px;background:linear-gradient(90deg,#00ffe6 0px,#00ffe1 60px,#00ffda 120px,#00ffd5 156px,#25ffd5 157px,#3bffd4 159px,#5effd3 165px,#87ffd1 177px,#bbffcd 199px,#ffffc3 236px,#ffd196 270px,#ffa260 323px,#ff8934 361px,#ff821c 372px,#ff810e 375px,#ff8000 376px,#ff7200 401px)"></i><i style="left:13px;top:284px;width:404px;background:linear-gradient(90deg,#00ffe8 0px,#00ffe3 60px,#00ffdc 120px,#00ffd7 155px,#1dffd7 156px,#2dffd7 157px,#47ffd6 160px,#69ffd5 167px,#94ffd3 181px,#cdffcd 207px,#fffdc4 236px,#ffd39b 267px,#ffa86b 313px,#ff8839 360px,#ff801e 374px,#ff7e12 377px,#ff7d00 379px,#ff6f00 403px)"></i><i style="left:13px;top:286px;width:406px;background:linear-gradient(90deg,#00ffe9 0px,#00ffe4 60px,#00ffde 120px,#00ffd9 154px,#28ffd9 156px,#3dffd9 158px,#5bffd8 163px,#86ffd6 175px,#bbffd2 197px,#fffec8 234px,#ffd29d 266px,#ffa46a 316px,#ff873c 360px,#ff7d20 376px,#ff7b10 380px,#ff7a00 381px,#ff6c00 405px)"></i><i style="left:14px;top:288px;width:408px;background:linear-gradient(90deg,#00ffea 0px,#00ffe6 60px,#00ffe0 120px,#00ffdb 153px,#22ffdb 154px,#3affdb 156px,#5effda 162px,#88ffd8 174px,#bdffd4 196px,#ffffcc 231px,#ffd09e 265px,#ffa16a 317px,#ff833a 363px,#ff7a1f 378px,#ff770d 382px,#ff7700 383px,#ff6900 407px)"></i><i style="left:14px;top:290px;width:410px;background:linear-gradient(90deg,#00ffec 0px,#00ffe7 60px,#00ffe2 120px,#00ffde 152px,#19ffdd 153px,#2bffdd 154px,#46ffdd 157px,#69ffdc 164px,#93ffda 177px,#cbffd5 202px,#ffffcf 230px,#ffd4a5 260px,#ffa876 306px,#ff813d 363px,#ff7723 379px,#ff7412 384px,#ff7300 386px,#ff6600 409px)"></i><i style="left:14px;top:292px;width:412px;background:linear-gradient(90deg,#00ffed 0px,#00ffe9 60px,#00ffe3 120px,#00ffe0 152px,#25ffdf 153px,#3cffdf 155px,#5bffde 160px,#84ffdd 171px,#bbffd9 193px,#fffed1 229px,#ffd1a5 261px,#ffa474 309px,#ff7d3b 367px,#ff7422 382px,#ff710f 387px,#ff7100 388px,#ff6300 411px)"></i><i style="left:15px;top:294px;width:413px;background:linear-gradient(90deg,#00ffef 0px,#00ffeb 60px,#00ffe5 120px,#00ffe2 150px,#1effe2 151px,#2effe2 152px,#48ffe1 155px,#6fffe0 163px,#9fffde 179px,#dbffd9 207px,#fffed4 227px,#ffd4ab 256px,#ffa77b 302px,#ff7e42 362px,#ff7225 382px,#ff6e13 388px,#ff6d00 390px,#ff6000 412px)"></i><i style="left:15px;top:296px;width:415px;background:linear-gradient(90deg,#00fff0 0px,#00ffec 60px,#00ffe7 120px,#00ffe4 149px,#29ffe4 151px,#3effe4 153px,#61ffe3 159px,#8cffe1 171px,#c6ffdd 195px,#fffdd6 226px,#ffd2ac 256px,#ffa67c 302px,#ff7c45 362px,#ff7028 383px,#ff6b16 390px,#ff6a00 393px,#ff5d00 414px)"></i><i style="left:15px;top:298px;width:417px;background:linear-gradient(90deg,#00fff2 0px,#00ffee 60px,#00ffe9 120px,#00ffe6 149px,#22ffe6 150px,#3bffe6 152px,#5bffe5 157px,#85ffe4 168px,#bbffe1 189px,#ffffda 224px,#ffd5b2 252px,#ffa781 298px,#ff7d4b 358px,#ff6d2b 384px,#ff6918 392px,#ff670f 394px,#ff6700 395px,#ff5a00 416px)"></i><i style="left:16px;top:300px;width:418px;background:linear-gradient(90deg,#00fff3 0px,#00fff0 60px,#00ffeb 120px,#00ffe8 147px,#19ffe8 148px,#2cffe8 149px,#47ffe8 152px,#67ffe7 158px,#90ffe6 170px,#c6ffe3 192px,#fffedd 222px,#ffd3b2 251px,#ffa784 295px,#ff7d4f 355px,#ff6c2f 383px,#ff6517 394px,#ff640c 396px,#ff6300 397px,#ff5700 417px)"></i><i style="left:16px;top:302px;width:420px;background:linear-gradient(90deg,#00fff5 0px,#00fff1 60px,#00ffed 120px,#00ffea 147px,#26ffea 148px,#3dffea 150px,#57ffea 154px,#7dffe9 163px,#adffe7 180px,#ffffe1 220px,#ffd5b7 248px,#ffad8e 286px,#ff8159 346px,#ff6c37 380px,#ff631f 394px,#ff6111 398px,#ff6000 400px,#ff5400 419px)"></i><i style="left:17px;top:304px;width:421px;background:linear-gradient(90deg,#00fff6 0px,#00fff3 60px,#00ffef 120px,#00ffed 145px,#1fffed 146px,#3affec 148px,#5bffec 153px,#83ffeb 163px,#bbffe9 184px,#ffffe3 218px,#ffd5bb 245px,#ffa88b 289px,#ff7d58 349px,#ff6632 385px,#ff5f1b 397px,#ff5d0e 400px,#ff5c00 401px,#ff5000 420px)"></i><i style="left:17px;top:306px;width:423px;background:linear-gradient(90deg,#00fff7 0px,#00fff5 60px,#00fff1 120px,#00ffef 144px,#12ffef 145px,#2affef 146px,#47ffef 149px,#6cffee 156px,#97ffed 169px,#d1ffea 193px,#fffee6 217px,#ffceb6 249px,#ff9e84 299px,#ff7550 359px,#ff6230 389px,#ff5b1a 400px,#ff590b 403px,#ff5900 404px,#ff4d00 422px)"></i><i style="left:17px;top:308px;width:425px;background:linear-gradient(90deg,#00fff9 0px,#00fff6 60px,#00fff3 120px,#00fff1 144px,#23fff1 145px,#3cfff1 147px,#5dfff1 152px,#85fff0 162px,#bdffee 183px,#fffde8 216px,#ffd0bb 246px,#ffa18a 293px,#ff7758 353px,#ff5f32 390px,#ff581c 402px,#ff5610 405px,#ff5500 407px,#ff4900 424px)"></i><i style="left:18px;top:310px;width:426px;background:linear-gradient(90deg,#00fffb 0px,#00fff8 60px,#00fff5 120px,#00fff3 142px,#1afff3 143px,#2dfff3 144px,#50fff3 148px,#76fff2 156px,#acfff1 174px,#f4ffed 207px,#fffdeb 214px,#ffd3c1 241px,#ffa692 284px,#ff7a60 344px,#ff5d34 390px,#ff541b 404px,#ff520e 407px,#ff5100 408px,#ff4500 425px)"></i><i style="left:18px;top:312px;width:429px;background:linear-gradient(90deg,#00fffc 0px,#00fffa 60px,#00fff7 120px,#00fff6 142px,#27fff6 143px,#3efff6 145px,#59fff5 149px,#80fff5 158px,#b6fff3 177px,#fefff0 211px,#ffd0c0 242px,#ffa695 282px,#ff7a63 342px,#ff5b37 390px,#ff511f 405px,#ff4e12 409px,#ff4d00 411px,#ff4000 428px)"></i><i style="left:19px;top:314px;width:430px;background:linear-gradient(90deg,#00fffe 0px,#00fffc 60px,#00fff9 120px,#00fff8 140px,#1ffff8 141px,#30fff8 142px,#4bfff8 145px,#6bfff7 151px,#95fff7 163px,#cbfff5 184px,#fffef1 210px,#ffd7ca 234px,#ffaea0 271px,#ff7f6d 330px,#ff593a 389px,#ff4d20 406px,#ff4a10 411px,#ff4800 413px,#ff3c00 429px)"></i><i style="left:19px;top:316px;width:432px;background:linear-gradient(90deg,#00ffff 0px,#00fffe 60px,#00fffb 120px,#00fffa 139px,#2afffa 141px,#40fffa 143px,#60fffa 148px,#8cfff9 159px,#c4fff8 180px,#fffff6 208px,#ffd6cc 233px,#ffaa9f 273px,#ff7c6c 333px,#ff553a 391px,#ff491f 409px,#ff4613 413px,#ff450d 414px,#ff4400 415px,#ff3700 431px)"></i><i style="left:19px;top:318px;width:434px;background:linear-gradient(90deg,#00fdff 0px,#00ffff 60px,#00fffd 120px,#00fffd 139px,#24fffd 140px,#3dfffd 142px,#5ffffc 147px,#8bfffc 158px,#bffffb 177px,#fffef8 207px,#ffd1ca 235px,#ff9f96 283px,#ff7366 343px,#ff5037 396px,#ff4520 411px,#ff4111 416px,#ff3f00 418px,#ff3100 433px)"></i><i style="left:20px;top:320px;width:435px;background:linear-gradient(90deg,#00fcff 0px,#00fdff 60px,#00feff 120px,#00ffff 137px,#1affff 138px,#2effff 139px,#43ffff 141px,#67ffff 147px,#94fffe 159px,#cdfffd 181px,#fffefb 205px,#ffd6d2 229px,#ffada8 265px,#ff7d74 325px,#ff5444 385px,#ff4327 409px,#ff3c14 417px,#ff3b0f 418px,#ff3a04 419px,#ff3800 421px,#ff2a00 434px)"></i><i style="left:20px;top:322px;width:437px;background:linear-gradient(90deg,#00faff 0px,#00fbff 60px,#00fcff 120px,#00fdff 137px,#27fdff 138px,#3ffdff 140px,#60fdff 145px,#8cfdff 156px,#c3feff 176px,#ffffff 203px,#ffd5d4 228px,#ffa8a5 268px,#ff7973 328px,#ff5043 388px,#ff3e28 411px,#ff3716 419px,#ff350d 421px,#ff3400 422px,#ff2200 436px)"></i><i style="left:21px;top:324px;width:439px;background:linear-gradient(90deg,#00f9ff 0px,#00f9ff 60px,#00faff 120px,#00faff 135px,#1ffaff 136px,#30faff 137px,#4bfaff 140px,#70fbff 147px,#9ffbff 161px,#dffcff 187px,#fffafd 203px,#ffcfd0 230px,#ffa4a4 269px,#ff7673 329px,#ff4c43 389px,#ff3929 412px,#ff3015 421px,#ff2d0a 423px,#ff2c00 424px,#ff1800 436px,#ff1100 438px)"></i><i style="left:21px;top:326px;width:441px;background:linear-gradient(90deg,#00f7ff 0px,#00f7ff 60px,#00f8ff 120px,#00f8ff 134px,#12f8ff 135px,#2af8ff 136px,#40f8ff 138px,#60f8ff 143px,#88f8ff 153px,#bff9ff 173px,#fff8fe 203px,#ffd1d5 227px,#ffa4a7 267px,#ff7575 327px,#ff4b47 387px,#ff332a 414px,#ff2714 424px,#ff260f 425px,#ff2403 426px,#ff1800 432px,#ff0d00 435px,#ff0000 436px,#ff0000 440px)"></i><i style="left:22px;top:328px;width:442px;background:linear-gradient(90deg,#00f5ff 0px,#00f6ff 60px,#00f6ff 120px,#00f6ff 133px,#23f6ff 134px,#3cf6ff 136px,#58f6ff 140px,#7ff6ff 149px,#b1f6ff 166px,#fef6ff 201px,#ffc9d0 230px,#ff9ca1 273px,#ff6e71 333px,#ff4343 393px,#ff2926 418px,#ff1b12 426px,#ff190c 427px,#ff1600 428px,#ff0e00 430px,#ff0000 431px,#ff0000 441px)"></i><i style="left:22px;top:330px;width:444px;background:linear-gradient(90deg,#00f4ff 0px,#00f4ff 60px,#00f4ff 120px,#00f3ff 132px,#1af3ff 133px,#2df3ff 134px,#49f3ff 137px,#6ef3ff 144px,#9cf3ff 158px,#dbf3ff 184px,#fff2fe 202px,#ffc7d1 230px,#ff9ba3 272px,#ff6d73 332px,#ff4046 392px,#ff252b 417px,#ff131d 425px,#ff0015 428px,#ff0000 431px,#ff0000 443px)"></i><i style="left:22px;top:332px;width:447px;background:linear-gradient(90deg,#00f2ff 0px,#00f2ff 60px,#00f1ff 120px,#00f1ff 132px,#26f1ff 133px,#3df1ff 135px,#5ef1ff 140px,#8cf1ff 152px,#c7f1ff 175px,#ffeefd 203px,#ffc8d4 228px,#ffa0ac 264px,#ff717a 324px,#ff444e 384px,#ff2a37 410px,#ff172b 420px,#ff0f28 422px,#ff0024 424px,#ff0013 431px,#ff000e 432px,#ff0000 433px,#ff0000 446px)"></i><i style="left:23px;top:334px;width:448px;background:linear-gradient(90deg,#00f1ff 0px,#00f0ff 60px,#00efff 120px,#00efff 130px,#1eefff 131px,#2fefff 132px,#49efff 135px,#69efff 141px,#96efff 154px,#d0eeff 178px,#ffebfd 202px,#ffc3d2 229px,#ff97a5 271px,#ff6976 331px,#ff3a49 391px,#ff2238 410px,#ff1432 416px,#ff002e 419px,#ff0019 431px,#ff000c 434px,#ff0000 435px,#ff0000 447px)"></i><i style="left:23px;top:336px;width:451px;background:linear-gradient(90deg,#00efff 0px,#00eeff 60px,#00edff 120px,#00edff 129px,#29edff 131px,#3fedff 133px,#5eedff 138px,#8becff 150px,#c1ecff 171px,#ffe9fd 202px,#ffbed0 231px,#ff8f9f 278px,#ff6272 338px,#ff354a 392px,#ff1f3d 408px,#ff1038 413px,#ff0036 415px,#ff001d 432px,#ff0010 436px,#ff0000 438px,#ff0000 450px)"></i><i style="left:24px;top:338px;width:452px;background:linear-gradient(90deg,#00eeff 0px,#00ecff 60px,#00ebff 120px,#00ebff 128px,#22ebff 129px,#3bebff 131px,#5beaff 136px,#83eaff 146px,#bbe9ff 167px,#ffe6fe 201px,#ffbed3 228px,#ff8da0 277px,#ff5f73 337px,#ff364f 387px,#ff1d41 404px,#ff103e 408px,#ff003c 410px,#ff0022 431px,#ff0013 437px,#ff000e 438px,#ff0000 439px,#ff0000 451px)"></i><i style="left:24px;top:340px;width:454px;background:linear-gradient(90deg,#00ecff 0px,#00ebff 60px,#00e9ff 120px,#00e8ff 127px,#19e8ff 128px,#2ce8ff 129px,#47e8ff 132px,#67e8ff 138px,#96e7ff 152px,#d5e6ff 179px,#ffe4fe 201px,#ffbcd4 228px,#ff90a5 272px,#ff6177 332px,#ff3452 385px,#ff1b46 401px,#ff1143 404px,#ff0042 406px,#ff0025 432px,#ff0011 440px,#ff0000 442px,#ff0000 453px)"></i><i style="left:25px;top:342px;width:456px;background:linear-gradient(90deg,#00eaff 0px,#00e9ff 60px,#00e7ff 120px,#00e6ff 126px,#25e6ff 127px,#3ce6ff 129px,#56e6ff 133px,#7ce6ff 142px,#b0e4ff 161px,#fee2ff 199px,#ffb4ce 232px,#ff879f 279px,#ff5873 339px,#ff3356 381px,#ff1b4b 396px,#ff0b48 400px,#ff0047 401px,#ff0029 431px,#ff0014 441px,#ff0000 444px,#ff0000 455px)"></i><i style="left:25px;top:344px;width:458px;background:linear-gradient(90deg,#00e9ff 0px,#00e7ff 60px,#00e4ff 120px,#00e4ff 125px,#1ee4ff 126px,#2ee4ff 127px,#48e4ff 130px,#6fe3ff 138px,#9ae3ff 152px,#d3e1ff 177px,#ffdefe 200px,#ffb3d0 231px,#ff849f 280px,#ff5573 340px,#ff3058 380px,#ff194f 393px,#ff0c4d 396px,#ff004c 397px,#ff002b 432px,#ff0016 443px,#ff000d 445px,#ff0000 446px,#ff0000 457px)"></i><i style="left:26px;top:346px;width:460px;background:linear-gradient(90deg,#00e7ff 0px,#00e5ff 60px,#00e2ff 120px,#00e2ff 123px,#11e2ff 124px,#28e2ff 125px,#45e2ff 128px,#65e1ff 134px,#8ee1ff 146px,#c9dfff 171px,#ffdcff 199px,#ffb2d2 229px,#ff819f 280px,#ff5274 340px,#ff2b59 379px,#ff1652 389px,#ff0d51 391px,#ff0050 392px,#ff002f 430px,#ff0018 444px,#ff000b 447px,#ff0000 448px,#ff0000 459px)"></i><i style="left:26px;top:348px;width:462px;background:linear-gradient(90deg,#00e6ff 0px,#00e3ff 60px,#00e0ff 120px,#00e0ff 123px,#22e0ff 124px,#3ae0ff 126px,#54dfff 130px,#76dfff 138px,#a6deff 155px,#f0daff 191px,#ffd8fd 200px,#ffb0d2 229px,#ff82a3 276px,#ff5277 336px,#ff3261 370px,#ff1a57 384px,#ff0d55 387px,#ff0055 388px,#ff0030 432px,#ff0019 446px,#ff000f 449px,#ff0000 451px,#ff0000 461px)"></i><i style="left:27px;top:350px;width:463px;background:linear-gradient(90deg,#00e4ff 0px,#00e2ff 60px,#00deff 120px,#00deff 121px,#2bdeff 123px,#46deff 126px,#6dddff 134px,#9ddcff 150px,#dbd9ff 179px,#ffd5fd 199px,#ffa9ce 232px,#ff7b9f 281px,#ff4a74 341px,#ff2a61 371px,#ff175b 380px,#ff0e59 382px,#ff0059 383px,#ff0033 430px,#ff001d 446px,#ff000d 451px,#ff0000 452px,#ff0000 462px)"></i><i style="left:27px;top:352px;width:466px;background:linear-gradient(90deg,#00e3ff 0px,#00e0ff 60px,#00dcff 120px,#00dcff 121px,#25dcff 122px,#43dbff 125px,#63dbff 131px,#91daff 145px,#d0d7ff 173px,#ffd2fe 199px,#ffaad2 229px,#ff779e 283px,#ff4674 343px,#ff2763 369px,#ff145e 377px,#ff0f5d 378px,#ff005d 379px,#ff0034 432px,#ff001e 448px,#ff0010 453px,#ff0000 455px,#ff0000 465px)"></i><i style="left:28px;top:354px;width:467px;background:linear-gradient(90deg,#00e1ff 0px,#00deff 60px,#00daff 119px,#1ddaff 120px,#2ddaff 121px,#4dd9ff 125px,#74d8ff 134px,#a6d7ff 152px,#f2d2ff 190px,#ffcefc 199px,#ffa4ce 232px,#ff749e 283px,#ff4175 343px,#ff2666 365px,#ff1462 372px,#ff0060 375px,#ff0036 431px,#ff001f 449px,#ff000f 455px,#ff0000 457px,#ff0000 466px)"></i><i style="left:28px;top:356px;width:469px;background:linear-gradient(90deg,#00e0ff 0px,#00dcff 60px,#00d8ff 118px,#27d8ff 120px,#3cd7ff 122px,#5ad7ff 127px,#85d6ff 139px,#bad3ff 161px,#ffcdfe 198px,#ffa3d1 230px,#ff75a2 279px,#ff4278 339px,#ff266a 361px,#ff1466 368px,#ff0764 370px,#ff0064 371px,#ff0039 431px,#ff001f 452px,#ff000d 458px,#ff0000 459px,#ff0000 468px)"></i><i style="left:29px;top:358px;width:471px;background:linear-gradient(90deg,#00deff 0px,#00daff 60px,#00d6ff 117px,#21d6ff 118px,#38d5ff 120px,#52d5ff 124px,#73d4ff 132px,#a0d2ff 148px,#dcceff 177px,#ffc9fd 198px,#ffa0d0 230px,#ff6e9e 284px,#ff3976 343px,#ff1e6b 360px,#ff1069 364px,#ff0067 366px,#ff003e 426px,#ff0023 451px,#ff0014 458px,#ff000a 460px,#ff0000 461px,#ff0000 470px)"></i><i style="left:29px;top:360px;width:473px;background:linear-gradient(90deg,#00ddff 0px,#00d9ff 60px,#00d4ff 116px,#18d4ff 117px,#2ad3ff 118px,#44d3ff 121px,#67d2ff 128px,#97d0ff 144px,#d1cdff 171px,#ffc6fd 198px,#ff9ed1 230px,#ff6fa2 280px,#ff3879 340px,#ff216f 355px,#ff116c 360px,#ff006b 362px,#ff0043 422px,#ff0027 451px,#ff0013 461px,#ff0000 464px,#ff0000 472px)"></i><i style="left:30px;top:362px;width:474px;background:linear-gradient(90deg,#00dbff 0px,#00d7ff 60px,#00d2ff 115px,#24d1ff 116px,#3ad1ff 118px,#58d1ff 123px,#83cfff 135px,#b7ccff 157px,#ffc5ff 196px,#ff9fd5 226px,#ff6fa5 276px,#ff3b7d 333px,#ff2173 350px,#ff1170 355px,#ff006e 357px,#ff0048 417px,#ff0028 452px,#ff0015 462px,#ff000c 464px,#ff0000 465px,#ff0000 473px)"></i><i style="left:30px;top:364px;width:476px;background:linear-gradient(90deg,#00d9ff 0px,#00d5ff 60px,#00d0ff 114px,#1cd0ff 115px,#2ccfff 116px,#4bcfff 120px,#6eceff 128px,#9bccff 144px,#d5c7ff 172px,#ffc1fe 197px,#ff9bd4 227px,#ff6ca5 277px,#ff3980 331px,#ff1d75 348px,#ff0b73 352px,#ff0072 353px,#ff004c 413px,#ff002d 450px,#ff0019 463px,#ff000a 467px,#ff0000 468px,#ff0000 475px)"></i><i style="left:31px;top:366px;width:477px;background:linear-gradient(90deg,#00d8ff 0px,#00d3ff 60px,#00ceff 112px,#27cdff 114px,#42cdff 117px,#65ccff 124px,#95caff 140px,#d5c5ff 171px,#ffbffe 196px,#ff96d1 229px,#ff64a1 282px,#ff3380 331px,#ff1d78 343px,#ff0c76 347px,#ff0075 348px,#ff0050 408px,#ff002f 450px,#ff0018 465px,#ff000e 468px,#ff0000 470px,#ff0000 476px)"></i><i style="left:31px;top:368px;width:479px;background:linear-gradient(90deg,#00d6ff 0px,#00d1ff 60px,#00ccff 112px,#20cbff 113px,#37cbff 115px,#51cbff 119px,#74c9ff 128px,#a1c7ff 145px,#e5c0ff 180px,#ffbbfd 197px,#ff94d3 228px,#ff64a4 279px,#ff3584 326px,#ff1b7b 340px,#ff0d79 343px,#ff0079 344px,#ff0054 404px,#ff0032 449px,#ff001c 466px,#ff000c 471px,#ff0000 472px,#ff0000 478px)"></i><i style="left:32px;top:370px;width:479px;background:linear-gradient(90deg,#00d5ff 0px,#00d0ff 60px,#00caff 110px,#29c9ff 112px,#43c9ff 115px,#65c8ff 122px,#8fc6ff 136px,#c3c2ff 160px,#ffb9ff 195px,#ff95d7 224px,#ff69ab 270px,#ff3889 319px,#ff1e7f 334px,#ff0e7d 338px,#ff007c 339px,#ff0058 399px,#ff0032 451px,#ff001b 468px,#ff000f 472px,#ff0000 474px,#ff0000 478px)"></i><i style="left:32px;top:372px;width:479px;background:linear-gradient(90deg,#00d3ff 0px,#00ceff 60px,#00c8ff 110px,#23c7ff 111px,#39c7ff 113px,#5ac6ff 119px,#83c4ff 131px,#b9c0ff 155px,#ffb7ff 195px,#ff91d5 226px,#ff60a7 276px,#ff3389 319px,#ff1b82 331px,#ff0e80 334px,#ff007f 335px,#ff005c 395px,#ff0034 451px,#ff001e 469px,#ff000e 475px,#ff0004 476px,#ff0000 478px)"></i><i style="left:33px;top:374px;width:473px;background:linear-gradient(90deg,#00d2ff 0px,#00ccff 60px,#00c6ff 108px,#1cc6ff 109px,#35c5ff 111px,#4fc5ff 115px,#6fc3ff 123px,#9ac1ff 139px,#d9baff 171px,#ffb3fd 195px,#ff89d0 230px,#ff55a1 284px,#ff2f8b 317px,#ff1985 327px,#ff0f83 329px,#ff0083 330px,#ff005f 390px,#ff0037 449px,#ff0021 469px,#ff001b 472px)"></i><i style="left:33px;top:376px;width:469px;background:linear-gradient(90deg,#00d0ff 0px,#00caff 60px,#00c4ff 107px,#10c4ff 108px,#26c4ff 109px,#41c3ff 112px,#63c2ff 119px,#8dbfff 133px,#cbb9ff 163px,#ffb0fe 195px,#ff8ad5 226px,#ff58a6 278px,#ff318f 312px,#ff1988 323px,#ff1087 325px,#ff0086 326px,#ff0063 386px,#ff003c 446px,#ff0026 468px)"></i><i style="left:34px;top:378px;width:463px;background:linear-gradient(90deg,#00cfff 0px,#00c8ff 60px,#00c2ff 106px,#20c2ff 107px,#36c1ff 109px,#59c0ff 115px,#81beff 127px,#b7b9ff 151px,#feaeff 193px,#ff84d1 229px,#ff4fa3 282px,#ff2e91 309px,#ff198b 318px,#ff108a 320px,#ff0089 322px,#ff0065 382px,#ff0040 442px,#ff002f 462px)"></i><i style="left:34px;top:380px;width:458px;background:linear-gradient(90deg,#00cdff 0px,#00c6ff 60px,#00c0ff 105px,#17c0ff 106px,#28c0ff 107px,#42bfff 110px,#63beff 117px,#8fbbff 132px,#cfb4ff 164px,#ffaafe 194px,#ff82d3 228px,#ff52a8 276px,#ff2d94 306px,#ff168e 315px,#ff008c 318px,#ff0069 378px,#ff0044 438px,#ff0036 457px)"></i><i style="left:35px;top:382px;width:452px;background:linear-gradient(90deg,#00cbff 0px,#00c5ff 60px,#00beff 104px,#23beff 105px,#38bdff 107px,#59bcff 113px,#80baff 125px,#b4b5ff 148px,#ffa8fe 193px,#ff7dd1 229px,#ff45a2 284px,#ff2795 304px,#ff1791 310px,#ff0990 312px,#ff008f 313px,#ff006c 373px,#ff0049 433px,#ff003c 451px)"></i><i style="left:36px;top:384px;width:447px;background:linear-gradient(90deg,#00caff 0px,#00c3ff 60px,#00bcff 102px,#1bbcff 103px,#34bbff 105px,#57baff 111px,#7fb8ff 123px,#b4b3ff 147px,#ffa5ff 192px,#ff7fd6 224px,#ff4caa 273px,#ff2c9a 297px,#ff1794 305px,#ff0a93 307px,#ff0092 308px,#ff006f 368px,#ff004c 428px,#ff0040 446px)"></i><i style="left:36px;top:386px;width:442px;background:linear-gradient(90deg,#00c8ff 0px,#00c1ff 60px,#00baff 101px,#25baff 103px,#40b9ff 106px,#61b8ff 113px,#8ab5ff 127px,#beafff 152px,#ffa1fd 193px,#ff77d1 229px,#ff39a2 285px,#ff1f99 299px,#ff1397 302px,#ff0096 304px,#ff0072 364px,#ff0050 424px,#ff0045 441px)"></i><i style="left:37px;top:388px;width:436px;background:linear-gradient(90deg,#00c7ff 0px,#00bfff 60px,#00b8ff 100px,#1fb8ff 101px,#35b8ff 103px,#53b7ff 108px,#7cb4ff 120px,#adafff 142px,#f6a2ff 185px,#ff9dfc 193px,#ff71ce 231px,#ff3aa6 280px,#ff1f9c 294px,#ff149a 297px,#ff0099 299px,#ff0075 359px,#ff0054 419px,#ff004a 435px)"></i><i style="left:37px;top:390px;width:432px;background:linear-gradient(90deg,#00c5ff 0px,#00bdff 60px,#00b6ff 99px,#27b6ff 101px,#3ab6ff 103px,#59b4ff 109px,#85b1ff 123px,#bbabff 149px,#ff9bfe 192px,#ff73d4 226px,#ff3aa9 276px,#ff22a0 289px,#ff149e 293px,#ff0d9d 294px,#ff009c 295px,#ff0078 355px,#ff0057 415px,#ff004e 431px)"></i><i style="left:38px;top:392px;width:426px;background:linear-gradient(90deg,#00c3ff 0px,#00bbff 60px,#00b4ff 98px,#22b4ff 99px,#37b4ff 101px,#57b2ff 107px,#7eb0ff 119px,#b2aaff 143px,#fd9aff 189px,#ff6ace 231px,#ff38ab 273px,#ff20a3 285px,#ff0ea0 289px,#ff00a0 290px,#ff007b 350px,#ff005b 410px,#ff0052 425px)"></i><i style="left:38px;top:394px;width:421px;background:linear-gradient(90deg,#00c2ff 0px,#00b9ff 60px,#00b2ff 97px,#1bb2ff 98px,#33b2ff 100px,#51b1ff 105px,#7aaeff 117px,#afa8ff 141px,#fd97ff 189px,#ff62cb 235px,#ff34ad 272px,#ff1da6 282px,#ff0fa4 285px,#ff00a3 286px,#ff007f 346px,#ff005e 406px,#ff0056 420px)"></i><i style="left:39px;top:396px;width:416px;background:linear-gradient(90deg,#00c0ff 0px,#00b7ff 60px,#00b1ff 95px,#0fb0ff 96px,#24b0ff 97px,#3fb0ff 100px,#63aeff 108px,#8faaff 124px,#cda0ff 157px,#ff91fd 191px,#ff63cf 230px,#ff36b1 266px,#ff1ea9 277px,#ff10a7 280px,#ff00a6 281px,#ff0082 341px,#ff0061 401px,#ff005a 415px)"></i><i style="left:40px;top:398px;width:410px;background:linear-gradient(90deg,#00bfff 0px,#00b5ff 60px,#00afff 94px,#1eaeff 95px,#34aeff 97px,#4dadff 101px,#77aaff 113px,#a8a4ff 135px,#ec95ff 176px,#ff8efd 190px,#ff62d2 227px,#ff35b4 262px,#ff1eac 272px,#ff11aa 275px,#ff00aa 276px,#ff0085 336px,#ff0064 396px,#ff005d 409px)"></i><i style="left:40px;top:400px;width:405px;background:linear-gradient(90deg,#00bdff 0px,#00b4ff 60px,#00adff 93px,#27acff 95px,#3facff 98px,#5caaff 104px,#87a6ff 119px,#bb9eff 145px,#ff8bfe 190px,#ff60d3 226px,#ff32b6 260px,#ff1baf 269px,#ff11ae 271px,#ff03ad 272px,#ff00a9 278px,#ff0084 338px,#ff0064 398px,#ff0061 404px)"></i><i style="left:41px;top:402px;width:399px;background:linear-gradient(90deg,#00bbff 0px,#00b2ff 60px,#00abff 92px,#21abff 93px,#36aaff 95px,#56a9ff 101px,#7ca5ff 113px,#b69dff 141px,#ff89ff 188px,#ff5dd5 224px,#ff34ba 254px,#ff1cb3 264px,#ff12b1 266px,#ff00b0 268px,#ff008a 328px,#ff006a 388px,#ff0065 398px)"></i><i style="left:41px;top:404px;width:395px;background:linear-gradient(90deg,#00baff 0px,#00b0ff 60px,#00a9ff 91px,#1aa9ff 92px,#29a8ff 93px,#46a7ff 97px,#66a5ff 105px,#92a1ff 122px,#cf95ff 156px,#ff84fe 189px,#ff56d2 227px,#ff2fbc 253px,#ff18b5 261px,#ff09b4 263px,#ff00b3 264px,#ff008d 324px,#ff006d 384px,#ff0068 394px)"></i><i style="left:42px;top:406px;width:389px;background:linear-gradient(90deg,#00b8ff 0px,#00aeff 60px,#00a7ff 89px,#0fa7ff 90px,#24a7ff 91px,#37a6ff 93px,#56a5ff 99px,#79a2ff 110px,#a89bff 132px,#ef88ff 176px,#ff80fd 189px,#ff55d5 223px,#ff30bf 248px,#ff19b9 256px,#ff00b7 259px,#ff0090 319px,#ff0070 379px,#ff006b 388px)"></i><i style="left:43px;top:408px;width:383px;background:linear-gradient(90deg,#00b6ff 0px,#00acff 60px,#00a5ff 88px,#1ea5ff 89px,#34a4ff 91px,#54a3ff 97px,#7d9fff 110px,#b995ff 140px,#ff7efe 187px,#ff47cf 229px,#ff2cc1 245px,#ff19bd 251px,#ff0cbb 253px,#ff00ba 254px,#ff0093 314px,#ff0073 374px,#ff006e 382px)"></i><i style="left:43px;top:410px;width:378px;background:linear-gradient(90deg,#00b5ff 0px,#00aaff 60px,#00a3ff 87px,#16a3ff 88px,#26a3ff 89px,#3ea2ff 92px,#5ea0ff 99px,#879cff 114px,#bb92ff 141px,#ff7aff 187px,#ff48d3 225px,#ff2ac4 242px,#ff15c0 248px,#ff00be 250px,#ff0096 310px,#ff0075 370px,#ff0072 377px)"></i><i style="left:44px;top:412px;width:372px;background:linear-gradient(90deg,#00b3ff 0px,#00a8ff 60px,#00a1ff 86px,#21a1ff 87px,#3ca0ff 90px,#5c9eff 97px,#869aff 112px,#bd8fff 141px,#ff77ff 186px,#ff46d6 222px,#ff28c7 238px,#ff16c3 243px,#ff0ec2 244px,#ff00c2 245px,#ff0099 305px,#ff0078 365px,#ff0075 371px)"></i><i style="left:45px;top:414px;width:366px;background:linear-gradient(90deg,#00b1ff 0px,#00a5ff 60px,#009fff 84px,#1a9fff 85px,#319fff 87px,#4a9dff 91px,#6d9aff 101px,#9395ff 117px,#cd88ff 150px,#ff72fe 186px,#ff3ad2 225px,#ff23ca 235px,#ff0fc6 239px,#ff00c5 240px,#ff009c 300px,#ff007b 360px,#ff0078 365px)"></i><i style="left:45px;top:416px;width:361px;background:linear-gradient(90deg,#00b0ff 0px,#00a4ff 60px,#009eff 83px,#239dff 85px,#3d9cff 88px,#5c9aff 95px,#8396ff 109px,#b78bff 136px,#fd70ff 184px,#ff3bd7 221px,#ff20cd 232px,#ff10ca 235px,#ff00c9 236px,#ff009f 296px,#ff007e 356px,#ff007c 360px)"></i><i style="left:46px;top:418px;width:355px;background:linear-gradient(90deg,#00aeff 0px,#00a1ff 60px,#009cff 82px,#1d9bff 83px,#339bff 85px,#5399ff 91px,#7d94ff 105px,#af8bff 130px,#fc6dff 182px,#ff55ec 200px,#ff2fd5 222px,#ff18cf 229px,#ff11ce 230px,#ff00cd 231px,#ff00a2 291px,#ff0081 351px,#ff007f 354px)"></i><i style="left:46px;top:420px;width:350px;background:linear-gradient(90deg,#00acff 0px,#009fff 60px,#009aff 81px,#2599ff 83px,#3d98ff 86px,#5996ff 92px,#8391ff 107px,#bb85ff 137px,#fd68ff 183px,#ff3cdf 212px,#ff25d5 222px,#ff12d2 226px,#ff00d1 227px,#ff00a5 286px,#ff0084 346px,#ff0082 349px)"></i><i style="left:47px;top:422px;width:344px;background:linear-gradient(90deg,#00abff 0px,#009dff 60px,#0098ff 80px,#2097ff 81px,#3497ff 83px,#4f95ff 88px,#7891ff 101px,#ae86ff 128px,#f569ff 176px,#ff5ffc 186px,#ff33df 212px,#ff19d7 220px,#ff13d6 221px,#ff00d5 222px,#ff00a8 282px,#ff0086 342px,#ff0085 343px)"></i><i style="left:48px;top:424px;width:338px;background:linear-gradient(90deg,#00a9ff 0px,#009bff 60px,#0096ff 78px,#1995ff 79px,#3195ff 81px,#4d93ff 86px,#6e90ff 96px,#9b88ff 116px,#dc72ff 157px,#ff5bfe 184px,#ff36e4 206px,#ff1fdc 214px,#ff13da 216px,#ff05d9 217px,#ff00d7 219px,#ff00aa 279px,#ff0089 337px)"></i><i style="left:48px;top:426px;width:334px;background:linear-gradient(90deg,#00a7ff 0px,#0099ff 60px,#0094ff 77px,#0e94ff 78px,#2393ff 79px,#3c92ff 82px,#5e90ff 90px,#8a89ff 107px,#c579ff 141px,#f75eff 177px,#ff55fc 185px,#ff32e6 204px,#ff1fe0 210px,#ff14de 212px,#ff00dc 214px,#ff00ad 274px,#ff008b 333px)"></i><i style="left:49px;top:428px;width:328px;background:linear-gradient(90deg,#00a5ff 0px,#0097ff 60px,#0092ff 76px,#1d92ff 77px,#3291ff 79px,#4d8fff 84px,#6e8cff 94px,#9684ff 112px,#d171ff 148px,#fc55ff 180px,#ff41f3 192px,#ff24e6 204px,#ff15e3 207px,#ff00e1 209px,#ff00b7 259px,#ff0093 319px,#ff008f 327px)"></i><i style="left:50px;top:430px;width:322px;background:linear-gradient(90deg,#00a3ff 0px,#0094ff 60px,#0090ff 74px,#258fff 76px,#3c8eff 79px,#5b8cff 86px,#8386ff 101px,#b977ff 131px,#ec5dff 167px,#ff4afd 183px,#ff2bec 197px,#ff1ce8 201px,#ff0ce6 203px,#ff00e5 204px,#ff00b8 257px,#ff0094 317px,#ff0092 321px)"></i><i style="left:50px;top:432px;width:318px;background:linear-gradient(90deg,#00a2ff 0px,#0092ff 60px,#008eff 74px,#208dff 75px,#3a8cff 78px,#598aff 85px,#7f84ff 99px,#b078ff 125px,#ec59ff 167px,#ff43fd 183px,#ff29f0 194px,#ff17ec 198px,#ff00e9 200px,#ff00ba 255px,#ff0096 315px,#ff0095 317px)"></i><i style="left:51px;top:434px;width:312px;background:linear-gradient(90deg,#00a0ff 0px,#0090ff 60px,#008cff 72px,#198cff 73px,#308bff 75px,#4c89ff 80px,#7284ff 92px,#9e7bff 113px,#e05dff 157px,#fd42ff 179px,#ff26f4 190px,#ff18f0 193px,#ff0fef 194px,#ff00ee 195px,#ff00c1 245px,#ff009b 305px,#ff0098 311px)"></i><i style="left:52px;top:436px;width:306px;background:linear-gradient(90deg,#009eff 0px,#008eff 60px,#008aff 70px,#0e8aff 71px,#2289ff 72px,#3b88ff 75px,#5d85ff 83px,#8a7dff 101px,#c669ff 137px,#f248ff 170px,#ff30fc 182px,#ff19f5 188px,#ff10f4 189px,#ff00f3 190px,#ff00c9 234px,#ff00a1 294px,#ff009b 305px)"></i><i style="left:53px;top:438px;width:300px;background:linear-gradient(90deg,#009cff 0px,#008bff 60px,#0088ff 69px,#1c88ff 70px,#3187ff 72px,#4c85ff 77px,#7280ff 89px,#a673ff 115px,#df55ff 154px,#f938ff 174px,#ff24fc 181px,#ff11f9 184px,#ff00f8 185px,#ff00cf 226px,#ff00a6 286px,#ff009f 299px)"></i><i style="left:53px;top:440px;width:296px;background:linear-gradient(90deg,#009aff 0px,#0089ff 60px,#0086ff 68px,#2485ff 70px,#3c84ff 73px,#6080ff 82px,#8b78ff 100px,#c264ff 133px,#e946ff 162px,#f92eff 174px,#ff1aff 179px,#ff12fe 180px,#ff00fd 181px,#ff00d6 219px,#ff00ab 278px,#ff00a1 295px)"></i><i style="left:54px;top:442px;width:290px;background:linear-gradient(90deg,#0098ff 0px,#0086ff 60px,#0084ff 67px,#1f83ff 68px,#3982ff 71px,#587fff 78px,#7d79ff 92px,#af69ff 119px,#d851ff 148px,#ee37ff 165px,#f724ff 172px,#fb13ff 175px,#fc00ff 176px,#ff00f3 188px,#ff00c5 239px,#ff00a5 289px)"></i><i style="left:55px;top:444px;width:285px;background:linear-gradient(90deg,#0096ff 0px,#0084ff 60px,#0082ff 65px,#1982ff 66px,#2f81ff 68px,#4b7fff 73px,#6e7aff 84px,#986fff 104px,#cd54ff 139px,#e73bff 158px,#f224ff 167px,#f614ff 170px,#f700ff 171px,#ff00fb 181px,#ff00d1 223px,#ff00a8 283px,#ff00a8 284px)"></i><i style="left:55px;top:446px;width:281px;background:linear-gradient(90deg,#0095ff 0px,#0082ff 60px,#0080ff 64px,#0e80ff 65px,#227fff 66px,#3a7eff 69px,#587bff 76px,#7f73ff 91px,#b162ff 119px,#d846ff 147px,#e92eff 160px,#ef1bff 165px,#f114ff 166px,#f200ff 167px,#ff00fc 180px,#ff00cf 226px,#ff00aa 280px)"></i><i style="left:56px;top:448px;width:275px;background:linear-gradient(90deg,#0093ff 0px,#007fff 60px,#007eff 63px,#1c7dff 64px,#307cff 66px,#4b7aff 71px,#6e75ff 82px,#a066ff 107px,#ce4bff 138px,#e132ff 153px,#e920ff 159px,#ec15ff 161px,#ed06ff 162px,#ee00ff 163px,#ff00fd 178px,#ff00cd 228px,#ff00ae 274px)"></i><i style="left:57px;top:450px;width:270px;background:linear-gradient(90deg,#0091ff 0px,#007cff 60px,#007cff 61px,#247bff 63px,#3b7aff 66px,#5b76ff 74px,#836dff 90px,#b658ff 120px,#d63cff 143px,#e128ff 152px,#e715ff 156px,#e900ff 158px,#ff00fe 177px,#ff00d3 220px,#ff00b1 269px)"></i><i style="left:58px;top:452px;width:264px;background:linear-gradient(90deg,#008fff 0px,#0079ff 60px,#1f79ff 61px,#3278ff 63px,#4f75ff 69px,#706fff 80px,#9c62ff 102px,#c945ff 132px,#db2bff 146px,#e01cff 150px,#e30bff 152px,#e400ff 153px,#ff00fd 177px,#ff00d5 217px,#ff00b4 263px)"></i><i style="left:59px;top:454px;width:259px;background:linear-gradient(90deg,#008cff 0px,#0077ff 58px,#1877ff 59px,#2f76ff 61px,#4e73ff 67px,#716dff 79px,#a05dff 103px,#c93fff 131px,#d925ff 143px,#dc16ff 146px,#df00ff 148px,#ff00fd 176px,#ff00cf 224px,#ff00b7 258px)"></i><i style="left:59px;top:456px;width:255px;background:linear-gradient(90deg,#008bff 0px,#0075ff 57px,#2174ff 59px,#3973ff 62px,#576fff 69px,#7f66ff 85px,#b050ff 113px,#ca36ff 132px,#d521ff 140px,#d717ff 142px,#da00ff 144px,#ff00fd 176px,#ff00d0 223px,#ff00ba 254px)"></i><i style="left:60px;top:458px;width:249px;background:linear-gradient(90deg,#0088ff 0px,#0073ff 56px,#1c72ff 57px,#3071ff 59px,#4e6eff 65px,#7167ff 77px,#a155ff 102px,#c13bff 124px,#ce25ff 134px,#d217ff 137px,#d40fff 138px,#d500ff 139px,#ff00fd 175px,#ff00ce 225px,#ff00be 248px)"></i><i style="left:61px;top:460px;width:243px;background:linear-gradient(90deg,#0086ff 0px,#0071ff 54px,#2370ff 56px,#3a6eff 59px,#5a6aff 67px,#8160ff 83px,#b245ff 112px,#c72bff 127px,#cd18ff 132px,#cf10ff 133px,#d000ff 134px,#ff00fd 174px,#ff00d0 222px,#ff00c2 242px)"></i><i style="left:62px;top:462px;width:238px;background:linear-gradient(90deg,#0084ff 0px,#006eff 53px,#1e6eff 54px,#316dff 56px,#4e69ff 62px,#7162ff 74px,#a24dff 100px,#bd32ff 119px,#c71dff 126px,#c910ff 128px,#cb00ff 129px,#ff00fe 173px,#ff00d2 219px,#ff00c5 237px)"></i><i style="left:63px;top:464px;width:232px;background:linear-gradient(90deg,#0082ff 0px,#006cff 51px,#186cff 52px,#2e6aff 54px,#4968ff 59px,#705fff 72px,#9f4aff 97px,#b92fff 115px,#c21dff 121px,#c411ff 123px,#c600ff 124px,#ff00fe 172px,#ff00d3 217px,#ff00c9 231px)"></i><i style="left:64px;top:466px;width:227px;background:linear-gradient(90deg,#007fff 0px,#006aff 49px,#0d69ff 50px,#2169ff 51px,#3867ff 54px,#5663ff 61px,#8057ff 78px,#aa3cff 103px,#ba25ff 114px,#bf12ff 118px,#c100ff 119px,#ff00fe 171px,#ff00d1 219px,#ff00cc 226px)"></i><i style="left:65px;top:468px;width:221px;background:linear-gradient(90deg,#007dff 0px,#0067ff 48px,#1b67ff 49px,#2f65ff 51px,#4d62ff 57px,#7259ff 70px,#a040ff 95px,#b328ff 108px,#b919ff 112px,#ba12ff 113px,#bb00ff 114px,#ff00fe 170px,#ff00d3 216px,#ff00d0 220px)"></i><i style="left:65px;top:470px;width:217px;background:linear-gradient(90deg,#007bff 0px,#0065ff 47px,#2364ff 49px,#3e61ff 53px,#5f5bff 62px,#8b4aff 82px,#a831ff 100px,#b21eff 107px,#b513ff 109px,#b600ff 110px,#ff00ff 169px,#ff00d4 216px)"></i><i style="left:66px;top:472px;width:211px;background:linear-gradient(90deg,#0078ff 0px,#0062ff 46px,#1e62ff 47px,#3060ff 49px,#4d5cff 55px,#7252ff 68px,#9b3aff 90px,#ab22ff 101px,#b013ff 104px,#b200ff 106px,#fa00ff 164px,#ff00fb 172px,#ff00d8 210px)"></i><i style="left:67px;top:474px;width:206px;background:linear-gradient(90deg,#0076ff 0px,#0060ff 44px,#185fff 45px,#2d5eff 47px,#485aff 52px,#6c51ff 64px,#9638ff 86px,#a622ff 96px,#aa14ff 99px,#ad00ff 101px,#f400ff 158px,#ff00fc 170px,#ff00db 205px)"></i><i style="left:68px;top:476px;width:200px;background:linear-gradient(90deg,#0073ff 0px,#005dff 42px,#0d5dff 43px,#205cff 44px,#385aff 47px,#5854ff 55px,#8243ff 73px,#9c2aff 88px,#a31aff 93px,#a60bff 95px,#a800ff 96px,#f300ff 156px,#ff00fd 169px,#ff00e0 199px)"></i><i style="left:69px;top:478px;width:195px;background:linear-gradient(90deg,#0071ff 0px,#005aff 41px,#1b5aff 42px,#2f58ff 44px,#4c54ff 50px,#6e49ff 62px,#922fff 81px,#9e1aff 88px,#a10cff 90px,#a200ff 91px,#e300ff 141px,#ff00fd 168px,#ff00e4 194px)"></i><i style="left:70px;top:480px;width:189px;background:linear-gradient(90deg,#006eff 0px,#0058ff 39px,#2256ff 41px,#3d53ff 45px,#5e4cff 54px,#8932ff 74px,#961fff 82px,#9b0dff 85px,#9d00ff 86px,#e300ff 140px,#ff00fd 167px,#ff00e8 188px)"></i><i style="left:71px;top:482px;width:184px;background:linear-gradient(90deg,#006bff 0px,#0054ff 38px,#1d54ff 39px,#3052ff 41px,#4c4dff 47px,#6e41ff 59px,#8b28ff 74px,#9416ff 79px,#950eff 80px,#9700ff 81px,#d500ff 127px,#ff00fd 166px,#ff00ec 183px)"></i><i style="left:72px;top:484px;width:178px;background:linear-gradient(90deg,#0068ff 0px,#0052ff 36px,#1751ff 37px,#2d4fff 39px,#4b4aff 45px,#6f3bff 58px,#8725ff 70px,#8e16ff 74px,#8f0fff 75px,#9100ff 76px,#ce00ff 120px,#ff00fd 165px,#ff00f1 177px)"></i><i style="left:74px;top:486px;width:172px;background:linear-gradient(90deg,#0065ff 0px,#004fff 33px,#0d4eff 34px,#204dff 35px,#374bff 38px,#5344ff 45px,#7630ff 59px,#861bff 67px,#890fff 69px,#8b00ff 70px,#c400ff 110px,#ff00fe 163px,#ff00f5 171px)"></i><i style="left:75px;top:488px;width:167px;background:linear-gradient(90deg,#0062ff 0px,#004bff 32px,#1a4aff 33px,#2e48ff 35px,#4b42ff 41px,#6f30ff 54px,#7f1bff 62px,#8310ff 64px,#8500ff 65px,#be00ff 104px,#ff00fe 162px,#ff00fa 166px)"></i><i style="left:76px;top:490px;width:161px;background:linear-gradient(90deg,#005eff 0px,#0048ff 30px,#2246ff 32px,#3d42ff 36px,#5c37ff 45px,#761fff 56px,#7c11ff 59px,#7e00ff 60px,#b400ff 95px,#fa00ff 155px,#ff00ff 160px)"></i><i style="left:77px;top:492px;width:156px;background:linear-gradient(90deg,#005bff 0px,#0044ff 29px,#1d43ff 30px,#2f41ff 32px,#483bff 37px,#6a25ff 49px,#7317ff 53px,#7511ff 54px,#7700ff 55px,#a800ff 85px,#f000ff 145px,#fb00ff 155px)"></i><i style="left:78px;top:494px;width:151px;background:linear-gradient(90deg,#0057ff 0px,#0040ff 27px,#173fff 28px,#2c3dff 30px,#4a35ff 36px,#6720ff 46px,#6d12ff 49px,#7004ff 50px,#7400ff 52px,#a600ff 82px,#ee00ff 142px,#f600ff 150px)"></i><i style="left:79px;top:496px;width:145px;background:linear-gradient(90deg,#0054ff 0px,#003dff 25px,#0c3cff 26px,#1f3aff 27px,#3636ff 30px,#522aff 37px,#6318ff 43px,#6a00ff 46px,#9600ff 70px,#d300ff 117px,#f100ff 144px)"></i><i style="left:81px;top:498px;width:138px;background:linear-gradient(90deg,#004fff 0px,#0037ff 23px,#1a36ff 24px,#3431ff 27px,#5420ff 35px,#5d13ff 38px,#6200ff 40px,#8a00ff 60px,#c300ff 101px,#eb00ff 137px)"></i><i style="left:82px;top:500px;width:132px;background:linear-gradient(90deg,#004aff 0px,#0033ff 21px,#2130ff 23px,#3c28ff 27px,#4f19ff 32px,#5800ff 35px,#7c00ff 51px,#ab00ff 81px,#e600ff 131px)"></i><i style="left:83px;top:502px;width:126px;background:linear-gradient(90deg,#0046ff 0px,#002cff 20px,#1d2aff 21px,#3523ff 24px,#4714ff 28px,#4e00ff 30px,#7600ff 46px,#a700ff 77px,#e000ff 125px)"></i><i style="left:85px;top:504px;width:119px;background:linear-gradient(90deg,#003fff 0px,#0028ff 16px,#0025ff 17px,#1723ff 18px,#2c1dff 20px,#3d0cff 23px,#4100ff 24px,#6100ff 34px,#8f00ff 58px,#ce00ff 106px,#db00ff 118px)"></i><i style="left:86px;top:506px;width:114px;background:linear-gradient(90deg,#0039ff 0px,#0026ff 12px,#001dff 15px,#0c19ff 16px,#1f15ff 17px,#3000ff 19px,#4e00ff 26px,#7100ff 40px,#9d00ff 66px,#d700ff 113px)"></i><i style="left:88px;top:508px;width:107px;background:linear-gradient(90deg,#0031ff 0px,#001dff 9px,#000eff 12px,#0000ff 13px,#1a00ff 14px,#2d00ff 16px,#4900ff 22px,#6a00ff 34px,#9600ff 59px,#cf00ff 104px,#d100ff 106px)"></i><i style="left:89px;top:510px;width:101px;background:linear-gradient(90deg,#0028ff 0px,#0015ff 6px,#000fff 7px,#0000ff 8px,#0000ff 11px,#2100ff 13px,#3600ff 16px,#5500ff 24px,#7d00ff 42px,#b200ff 78px,#cc00ff 100px)"></i><i style="left:91px;top:512px;width:95px;background:linear-gradient(90deg,#0016ff 0px,#000fff 1px,#0000ff 2px,#0000ff 9px,#1c00ff 10px,#2e00ff 12px,#4a00ff 18px,#6c00ff 31px,#9700ff 56px,#c700ff 94px)"></i><i style="left:92px;top:514px;width:89px;background:linear-gradient(90deg,#0000ff 0px,#0000ff 7px,#1600ff 8px,#2b00ff 10px,#4800ff 16px,#6900ff 28px,#9800ff 55px,#c200ff 88px)"></i><i style="left:94px;top:516px;width:82px;background:linear-gradient(90deg,#0000ff 0px,#0000ff 4px,#0c00ff 5px,#1f00ff 6px,#3a00ff 10px,#5c00ff 20px,#8600ff 41px,#bc00ff 81px)"></i><i style="left:96px;top:518px;width:75px;background:linear-gradient(90deg,#0000ff 0px,#0000ff 2px,#1900ff 3px,#2c00ff 5px,#4500ff 10px,#6900ff 23px,#9600ff 49px,#b600ff 74px)"></i><i style="left:98px;top:520px;width:68px;background:linear-gradient(90deg,#1200ff 0px,#2100ff 1px,#3b00ff 5px,#5c00ff 15px,#8400ff 35px,#b100ff 67px)"></i><i style="left:100px;top:522px;width:61px;background:linear-gradient(90deg,#2d00ff 0px,#4500ff 5px,#6900ff 18px,#9700ff 45px,#ab00ff 60px)"></i><i style="left:102px;top:524px;width:54px;background:linear-gradient(90deg,#3b00ff 0px,#5700ff 8px,#7d00ff 26px,#a500ff 53px)"></i><i style="left:104px;top:526px;width:47px;background:linear-gradient(90deg,#4600ff 0px,#6b00ff 14px,#9c00ff 44px,#9e00ff 46px)"></i><i style="left:106px;top:528px;width:40px;background:linear-gradient(90deg,#4e00ff 0px,#7200ff 15px,#9800ff 39px)"></i><i style="left:108px;top:530px;width:32px;background:linear-gradient(90deg,#5500ff 0px,#7a00ff 17px,#9000ff 31px)"></i><i style="left:110px;top:532px;width:25px;background:linear-gradient(90deg,#5c00ff 0px,#8300ff 20px,#8900ff 24px)"></i><i style="left:35px;top:0px;width:27px;background:linear-gradient(90deg,#00ff00 0px,#00ff00 26px)"></i><i style="left:110px;top:534px;width:25px;background:linear-gradient(90deg,#5d00ff 0px,#8400ff 20px,#8a00ff 24px)"></i><i style="left:35px;top:-2px;width:27px;background:linear-gradient(90deg,#00ff00 0px,#00ff00 26px)"></i><i style="left:110px;top:536px;width:25px;background:linear-gradient(90deg,#5e00ff 0px,#8600ff 21px,#8a00ff 24px)"></i><i style="left:35px;top:-4px;width:27px;background:linear-gradient(90deg,#00ff00 0px,#00ff00 26px)"></i><i style="left:110px;top:538px;width:25px;background:linear-gradient(90deg,#6000ff 0px,#8b00ff 24px)"></i><i style="left:35px;top:-6px;width:27px;background:linear-gradient(90deg,#00ff00 0px,#00ff00 26px)"></i><i style="left:110px;top:540px;width:25px;background:linear-gradient(90deg,#6100ff 0px,#8a00ff 23px,#8b00ff 24px)"></i><i style="left:35px;top:-8px;width:27px;background:linear-gradient(90deg,#00ff00 0px,#00ff00 26px)"></i><i style="left:110px;top:542px;width:25px;background:linear-gradient(90deg,#6200ff 0px,#8c00ff 24px)"></i></div></div></div>
<svg width="1650" height="793" viewBox="0 0 1650 793">
<defs><filter id="soft" filterUnits="userSpaceOnUse" x="-10" y="-10" width="1670" height="813" color-interpolation-filters="sRGB"><feGaussianBlur stdDeviation="0.55"/></filter></defs>
<g filter="url(#soft)">
<path d="M141.5,634 142.5,633.2 143.5,632.2 144.5,631.3 145.5,630.4 146.5,629.5 147.5,628.8 148.5,628.1 149.5,627 150.5,626.1 151.5,625.4 152.5,624.5 153.5,623.6 154.5,622.6 155.5,621.8 156.5,621 157.5,619.9 158.5,619 159.5,618 160.5,617.1 161.5,616.2 162.5,615.6 163.5,614.6 164.5,614 165.5,613.1 166.5,612.1 167.5,610.8 168.5,610.2 169.5,609.5 170.5,608.5 171.5,607.4 172.5,606.6 173.5,605.6 174.5,604.8 175.5,604.2 176.5,603 177.5,602.2 178.5,601.5 179.5,600.4 180.5,599.6 181.5,598.8 182.5,597.9 183.5,596.8 184.5,596.3 185.5,595.7 186.5,594.4 187.5,594 188.5,593.1 189.5,592.2 190.5,591.9 191.5,590.9 192.5,589.6 193.5,589.1 194.5,588.5 195.5,587.6 196.5,587 197.5,586.1 198.5,585.6 199.5,585 200.5,583.8 201.5,583.2 202.5,582.4 203.5,581.8 204.5,580.9 205.5,580.4 206.5,580 207.5,579.8 208.5,579.2 209.5,578 210.5,577.5 211.5,577.3 212.5,576.2 213.5,576 214.5,575.8 215.5,575.8 216.5,575.1 217.5,574.3 218.5,573.7 219.5,573.5 220.5,573.5 221.5,572.6 222.5,572.1 223.5,571.9 224.5,571.4 225.5,570.9 226.5,570.3 227.5,570.2 228.5,569.9 229.5,570.1 230.5,569.7 231.5,569.1 232.5,568.9 233.5,568.4 234.5,568.4 235.5,567.9 236.5,567.5 237.5,566.7 238.5,566.7 239.5,565.8 240.5,565.3 241.5,565.7 242.5,565.5 243.5,565.9 244.5,566.3 245.5,565.1 246.5,564.7 247.5,564.9 248.5,564.8 249.5,564.3 250.5,564.1 251.5,564.3 252.5,564 253.5,563.2 254.5,563.3 255.5,563.2 256.5,562.8 257.5,563.1 258.5,562.9 259.5,563.6 260.5,563.5 261.5,563.3 262.5,563 263.5,563 264.5,562.4 265.5,562.8 266.5,563.4 267.5,562.9 268.5,563.8 269.5,563.4 270.5,564.2 271.5,564 272.5,564.7 273.5,564.5 274.5,564.1 275.5,565.3 276.5,565.7 277.5,565.2 278.5,565.2 279.5,565.4 280.5,565.5 281.5,566.4 282.5,566.2 283.5,566.5 284.5,566.5 285.5,566.8 286.5,567.1 287.5,568.2 288.5,568.3 289.5,568.8 290.5,568.7 291.5,568.6 292.5,568.9 293.5,569.2 294.5,569.5 295.5,569.6 296.5,569.7 297.5,569.5 298.5,570.1 299.5,571.1 300.5,570.5 301.5,570.4 302.5,571.1 303.5,571.6 304.5,570.8 305.5,571.1 306.5,571 307.5,570.9 308.5,571.9 309.5,572 310.5,572 311.5,571.9 312.5,572.4 313.5,572.3 314.5,572.4 315.5,572.2 316.5,572.4 317.5,573.5 318.5,573.2 319.5,573.5 320.5,573.6 321.5,573.6 322.5,573.8 323.5,574.4 324.5,574.3 325.5,574.6 326.5,575 327.5,575.6 328.5,575.7 329.5,575.7 330.5,575.5 331.5,575.6 332.5,576.7 333.5,577.1 334.5,577 335.5,577.5 336.5,578 337.5,578.3 338.5,578.6 339.5,578.6 340.5,579.3 341.5,579.1 342.5,580 343.5,580.5 344.5,581.1 345.5,581.9 346.5,582.1 347.5,581.7 348.5,582 349.5,583.1 350.5,583.2 351.5,583.9 352.5,584.4 353.5,584.1 354.5,584.4 355.5,585.5 356.5,586 357.5,586.3 358.5,586.7 359.5,586.8 360.5,587 361.5,587.7 362.5,588 363.5,588.3 364.5,589.2 365.5,589.7 366.5,590.1 367.5,590.2 368.5,590.6 369.5,591 370.5,591.5 371.5,592.2 372.5,592.6 373.5,593.3 374.5,594 375.5,594.7 376.5,594.6 377.5,595.4 378.5,595.8 379.5,596.3 380.5,596.5 381.5,597.3 382.5,598.2 383.5,598.6 384.5,599.1 385.5,599.7 386.5,600.6 387.5,600.8 388.5,600.9 389.5,601.6 390.5,601.9 391.5,602.3 392.5,603.5 393.5,604.6 394.5,604.9 395.5,605.1 396.5,605.8 397.5,606.8 398.5,607.2 399.5,607.7 400.5,608.2 401.5,608.8 402.5,609.5 403.5,610 404.5,610.4 405.5,610.8 406.5,611.5 407.5,612 408.5,612.8 409.5,613 410.5,613.6 411.5,614.2 412.5,614.7 413.5,615.7 414.5,616.3 415.5,616.5 416.5,617.2 417.5,617.6 418.5,617.6 419.5,618.6 420.5,619.2 421.5,619.7 422.5,620 423.5,620.7 424.5,621.3 425.5,622.1 426.5,622.5 427.5,623 428.5,623.7 429.5,624 430.5,624.4 431.5,624.8 432.5,625.8 433.5,626.4 434.5,626.9 435.5,627.3 436.5,627.8 437.5,628.2 438.5,628.7 439.5,629.2 440.5,629.8 441.5,630.5 442.5,630.9 443.5,631.2 444.5,631.5 445.5,632.1 446.5,632.9 447.5,633.2 448.5,633.5 449.5,633.9 450.5,634.2 451.5,634.8 452.5,635.4 453.5,635.7 454.5,636.1 455.5,636.6 456.5,637 457.5,637.2 458.5,637.7 459.5,638.2 460.5,638.8 461.5,639.1 462.5,639.7 463.5,640.2 464.5,640.4 465.5,640.7 466.5,641.2 467.5,641.6 468.5,641.9 469.5,642.5 470.5,643.1 471.5,643.3 472.5,643.6 473.5,644 474.5,644.5 475.5,644.7 476.5,645.2 477.5,645.9 478.5,646.1 479.5,646.7 480.5,647.2 481.5,647.5 482.5,647.9 483.5,648.5 484.5,648.6 485.5,648.9 486.5,649.2 487.5,649.8 488.5,650.4 489.5,650.7 490.5,650.8 491.5,651.2 492.5,651.6 493.5,652.1 494.5,652.4 495.5,652.8 496.5,653.2 497.5,653.5 498.5,653.9 499.5,654.2 500.5,654.6 501.5,655 502.5,655.5 503.5,655.7 504.5,655.9 505.5,656.1 506.5,656.6 507.5,656.7 508.5,657.1 509.5,657.7 510.5,658 511.5,658.2 512.5,658.3 513.5,658.7 514.5,659.1 515.5,659.6 516.5,660.1 517.5,660.1 518.5,660.2 519.5,660.5 520.5,660.9 521.5,661.1 522.5,661.3 523.5,661.7 524.5,661.9 525.5,662.4 526.5,662.8 527.5,663 528.5,663.1 529.5,663.4 530.5,663.6 531.5,663.8 532.5,664 533.5,664.2 534.5,664.4 535.5,664.9 536.5,665.1 537.5,665.4 538.5,665.7 539.5,665.6 540.5,665.9 541.5,666.3 542.5,666.6 543.5,666.8 544.5,667.1 545.5,667.2 546.5,667.3 547.5,667.5 548.5,668 549.5,668.2 550.5,668.2 551.5,668.7 552.5,669 553.5,669.2 554.5,669.3 555.5,669.4 556.5,669.7 557.5,670.2 558.5,670.3 559.5,670.6 560.5,670.6 561.5,670.8 562.5,670.8 563.5,671.2 564.5,671.6 565.5,671.6 566.5,672 567.5,672.2 568.5,672.2 569.5,672.4 570.5,672.7 571.5,672.9 572.5,673.1 573.5,673.2 574.5,673.5 575.5,673.6 576.5,673.8 577.5,674.1 578.5,674.4 579.5,674.4 580.5,674.7 581.5,674.8 582.5,675 583.5,675.4 584.5,675.6 585.5,675.9 586.5,675.9 587.5,676.1 588.5,676.2 589.5,676.4 590.5,676.7 591.5,676.8 592.5,677 593.5,677.1 594.5,677.1 595.5,677.4 596.5,677.6 597.5,677.8 598.5,677.7 599.5,677.8 600.5,677.8 601.5,678.1 602.5,678 603.5,678 604.5,678.4 605.5,678.6 606.5,678.4 607.5,678.5 608.5,678.6 609.5,678.7 610.5,679 611.5,678.9 612.5,679.1 613.5,679.3 614.5,679.3 615.5,679.4 616.5,679.4 617.5,679.4 618.5,679.5 619.5,680 620.5,680 621.5,680.1 622.5,680.2 623.5,680.3 624.5,680.5 625.5,680.7 626.5,680.5 627.5,680.5 628.5,680.6 629.5,680.8 630.5,681.2 631.5,681.4 632.5,681.2 633.5,681.3 634.5,681.6 635.5,681.8 636.5,681.6 637.5,682 638.5,682 639.5,682.3 640.5,682.2 641.5,682.4 642.5,682.3 643.5,682.6 644.5,683 645.5,683 646.5,682.9 647.5,682.9 648.5,682.9 649.5,683.1 650.5,683.3 651.5,683.4 652.5,683.5 653.5,683.4 654.5,683.6 655.5,683.8 656.5,684.1 657.5,684.2 658.5,684 659.5,684 660.5,684.1 661.5,684.1 662.5,684.2 663.5,684.3 664.5,684.3 665.5,684.6 666.5,684.6 667.5,684.7 668.5,684.7 669.5,684.6 670.5,684.7 671.5,684.8 672.5,684.9 673.5,685.1 674.5,685.1 675.5,685 676.5,685.2 677.5,685.1 678.5,685.3 679.5,685.4 680.5,685.3 681.5,685.6 682.5,685.7 683.5,685.7 684.5,685.8 685.5,685.8 686.5,685.8 687.5,685.9 688.5,686 689.5,686.1 690.5,686 691.5,686.2 692.5,686.3 693.5,686.3 694.5,686.3 695.5,686.4 696.5,686.2 697.5,686.4 698.5,686.5 699.5,686.5 700.5,686.5 701.5,686.4 702.5,686.5 703.5,686.7 704.5,686.7 705.5,686.6 706.5,686.5 707.5,686.8 708.5,687 709.5,687 710.5,686.8 711.5,686.6 712.5,686.9 713.5,686.8 714.5,686.5 715.5,686.8 716.5,686.7 717.5,686.7 718.5,686.9 719.5,687.1 720.5,687 721.5,687.1 722.5,687.4 723.5,687.4 724.5,687.1 725.5,687 726.5,686.9 727.5,687 728.5,687.2 729.5,687.2 730.5,687.2 731.5,687.3 732.5,687.1 733.5,687.2 734.5,687.4 735.5,687.4 736.5,687.4 737.5,687.3 738.5,687.2 739.5,687.3 740.5,687.1 741.5,687 742.5,687.3 743.5,687.3 744.5,687.3 745.5,687.1 746.5,687.2 747.5,687.2 748.5,687.1 749.5,687 750.5,687.3 751.5,687.5 752.5,687.4 753.5,687.3 754.5,687.4 755.5,687.4 756.5,687 757.5,687.3 758.5,687.5 759.5,687.6 760.5,687.7 761.5,687.7 762.5,687.5 763.5,687.5 764.5,687.6 765.5,687.4 766.5,687.5 767.5,687.7 768.5,687.8 769.5,687.5 770.5,687.5 771.5,687.6 772.5,687.7 773.5,687.6 774.5,687.7 775.5,687.4 776.5,687.5 777.5,687.5 778.5,687.7 779.5,687.7 780.5,687.3 781.5,687.4 782.5,687.6 783.5,687.4 784.5,687.4 785.5,687.7 786.5,687.7 787.5,687.7 788.5,687.6 789.5,687.7 790.5,687.6 791.5,687.7 792.5,687.5 793.5,687.5 794.5,687.6 795.5,687.6 796.5,687.7 797.5,687.7 798.5,687.5 799.5,687.6 800.5,687.6 801.5,687.8 802.5,687.6 803.5,687.6 804.5,687.9 805.5,688.1 806.5,688.1 807.5,687.8 808.5,687.8 809.5,687.9 810.5,687.7 811.5,687.5 812.5,687.7 813.5,687.7 814.5,687.5 815.5,687.4 816.5,687.5 817.5,687.7 818.5,687.6 819.5,687.7 820.5,687.8 821.5,687.8 822.5,687.7 823.5,687.8 824.5,687.6 825.5,687.6 826.5,687.6 827.5,687.9 828.5,687.8 829.5,687.6 830.5,687.7 831.5,687.7 832.5,687.8 833.5,687.5 834.5,687.5 835.5,687.8 836.5,688.2 837.5,688 838.5,687.8 839.5,688 840.5,688.1 841.5,687.8 842.5,687.8 843.5,688 844.5,687.9 845.5,687.9 846.5,687.8 847.5,688.1 848.5,688.1 849.5,688 850.5,687.8 851.5,687.5 852.5,687.8 853.5,687.8 854.5,687.9 855.5,687.9 856.5,687.7 857.5,687.5 858.5,687.8 859.5,687.7 860.5,687.7 861.5,687.7 862.5,687.6 863.5,687.5 864.5,687.9 865.5,687.9" fill="none" stroke="#f20c14" stroke-width="2.6" stroke-linejoin="round"/>
<path d="M163.9,614.7 164.9,613.1 165.9,611.2 166.9,609.3 167.9,607.7 168.9,606 169.9,604.5 170.9,602.8 171.9,601 172.9,599.5 173.9,597.8 174.9,596.3 175.9,594.6 176.9,592.9 177.9,591.3 178.9,589.5 179.9,587.8 180.9,586 181.9,584.6 182.9,583.2 183.9,581.6 184.9,579.8 185.9,577.9 186.9,576 187.9,574.6 188.9,572.8 189.9,571 190.9,569.4 191.9,567.8 192.9,566.2 193.9,564.6 194.9,563 195.9,561.7 196.9,560.7 197.9,558.9 198.9,557.3 199.9,556.1 200.9,554.6 201.9,552.9 202.9,551.6 203.9,550.5 204.9,548.9 205.9,547.5 206.9,546.2 207.9,544.3 208.9,542.8 209.9,541.2 210.9,539.9 211.9,537.7 212.9,536.2 213.9,534.7 214.9,533.4 215.9,531.9 216.9,530.3 217.9,528.1 218.9,526.9 219.9,525.1 220.9,523.5 221.9,522.1 222.9,520.2 223.9,518.4 224.9,517.3 225.9,515.7 226.9,514.4 227.9,513.4 228.9,512.1 229.9,510.9 230.9,508.9 231.9,507 232.9,505.8 233.9,504.4 234.9,503 235.9,502.1 236.9,500.5 237.9,498.9 238.9,498.4 239.9,497.1 240.9,496 241.9,494.9 242.9,493.8 243.9,492.7 244.9,491.9 245.9,490.6 246.9,489.4 247.9,488.2 248.9,486.5 249.9,485.8 250.9,484.9 251.9,484 252.9,482.7 253.9,482.7 254.9,481.3 255.9,479.6 256.9,478.6 257.9,478.3 258.9,477.7 259.9,476.8 260.9,476.2 261.9,475.3 262.9,474.9 263.9,473.7 264.9,473.3 265.9,473.5 266.9,473.4 267.9,471.2 268.9,470.4 269.9,470 270.9,470.3 271.9,469.1 272.9,468.9 273.9,468.9 274.9,468.1 275.9,467.8 276.9,467.6 277.9,466.4 278.9,466.6 279.9,467.3 280.9,467.6 281.9,467 282.9,465.9 283.9,466.5 284.9,467.3 285.9,467 286.9,466.2 287.9,465.5 288.9,465.9 289.9,465 290.9,464.2 291.9,464.5 292.9,465.5 293.9,465 294.9,464.8 295.9,463.9 296.9,464 297.9,463 298.9,463.2 299.9,464.4 300.9,463.2 301.9,461.8 302.9,461.6 303.9,461.8 304.9,461.8 305.9,460.3 306.9,459.1 307.9,459.4 308.9,459.3 309.9,459.1 310.9,459.1 311.9,458.3 312.9,457.7 313.9,456.4 314.9,457.1 315.9,457.5 316.9,456.5 317.9,455.6 318.9,455.5 319.9,456 320.9,454.3 321.9,454.5 322.9,455.2 323.9,455.3 324.9,454.6 325.9,454.8 326.9,454.6 327.9,454.7 328.9,454.4 329.9,453.7 330.9,454.6 331.9,455.2 332.9,454 333.9,454.4 334.9,455 335.9,454 336.9,454.4 337.9,454.1 338.9,455.9 339.9,457.3 340.9,456.9 341.9,455.3 342.9,455.6 343.9,455.4 344.9,455.6 345.9,456.3 346.9,454.9 347.9,456.1 348.9,456.1 349.9,456.9 350.9,456.4 351.9,456.1 352.9,457 353.9,457.7 354.9,457.7 355.9,458.2 356.9,457.8 357.9,457.6 358.9,459.6 359.9,460.3 360.9,460.5 361.9,461.1 362.9,462.1 363.9,462 364.9,462.5 365.9,463.6 366.9,464.8 367.9,464.7 368.9,466.2 369.9,466.3 370.9,466.9 371.9,468.6 372.9,468.8 373.9,468.9 374.9,470.2 375.9,471.7 376.9,472.6 377.9,472.8 378.9,473.9 379.9,474.8 380.9,475.1 381.9,476.3 382.9,477 383.9,477.6 384.9,478.5 385.9,479.6 386.9,480.5 387.9,481.1 388.9,482.2 389.9,483.6 390.9,484.4 391.9,485.5 392.9,486.6 393.9,487.4 394.9,488.7 395.9,488.7 396.9,489.8 397.9,490.7 398.9,492.4 399.9,493.2 400.9,492.8 401.9,493.9 402.9,495.7 403.9,496.8 404.9,497.8 405.9,498.5 406.9,499.7 407.9,500.8 408.9,501.7 409.9,502.8 410.9,503 411.9,504.7 412.9,505.6 413.9,507.2 414.9,507.9 415.9,508.8 416.9,510.2 417.9,510.9 418.9,511.9 419.9,512.9 420.9,514.4 421.9,515.9 422.9,517.1 423.9,517.9 424.9,519.1 425.9,519.9 426.9,520.8 427.9,522.1 428.9,523.2 429.9,523.8 430.9,524.7 431.9,525.8 432.9,526.7 433.9,527.6 434.9,529 435.9,529.7 436.9,530.8 437.9,531.5 438.9,532.7 439.9,533.7 440.9,534.7 441.9,536.2 442.9,536.9 443.9,538.2 444.9,538.9 445.9,539.3 446.9,540.3 447.9,541.5 448.9,542.5 449.9,543.4 450.9,544.2 451.9,544.8 452.9,546.1 453.9,546.8 454.9,548.3 455.9,549.2 456.9,550.2 457.9,551.4 458.9,552.5 459.9,553 460.9,553.9 461.9,555 462.9,555.9 463.9,557.3 464.9,558.9 465.9,559.5 466.9,560.7 467.9,561.4 468.9,562.6 469.9,563.6 470.9,564.6 471.9,565.9 472.9,567.1 473.9,567.8 474.9,568.6 475.9,569.3 476.9,570.6 477.9,571.5 478.9,572.6 479.9,573.5 480.9,574.6 481.9,574.8 482.9,576 483.9,577.2 484.9,577.9 485.9,578.7 486.9,579.6 487.9,580.4 488.9,581.7 489.9,583.1 490.9,583.7 491.9,584.1 492.9,584.9 493.9,586 494.9,587.1 495.9,587.7 496.9,588.6 497.9,589.8 498.9,590.7 499.9,591.3 500.9,592 501.9,592.8 502.9,593.7 503.9,594.5 504.9,595.8 505.9,596.6 506.9,597.7 507.9,598.9 508.9,599.6 509.9,600.1 510.9,601.3 511.9,602.2 512.9,602.7 513.9,603.5 514.9,604.4 515.9,605.2 516.9,606.3 517.9,606.6 518.9,607.6 519.9,608.6 520.9,609.5 521.9,610.3 522.9,611.1 523.9,611.9 524.9,612.7 525.9,613.1 526.9,614 527.9,614.8 528.9,615.7 529.9,616.4 530.9,617 531.9,617.8 532.9,618.7 533.9,619.4 534.9,620 535.9,621.1 536.9,621.8 537.9,622 538.9,622.9 539.9,623.9 540.9,624.4 541.9,624.9 542.9,625.5 543.9,626.1 544.9,626.8 545.9,627.4 546.9,628.2 547.9,628.7 548.9,629.2 549.9,629.8 550.9,630.5 551.9,631 552.9,631.7 553.9,632.5 554.9,633.1 555.9,633.6 556.9,634.2 557.9,634.7 558.9,635.2 559.9,635.8 560.9,636.4 561.9,636.9 562.9,637.6 563.9,638 564.9,638.4 565.9,639 566.9,639.5 567.9,640.1 568.9,640.5 569.9,641.2 570.9,641.4 571.9,641.7 572.9,642.3 573.9,642.7 574.9,643.4 575.9,644 576.9,644.3 577.9,644.5 578.9,645 579.9,645.7 580.9,646 581.9,646.4 582.9,646.9 583.9,647.5 584.9,647.8 585.9,648 586.9,648.4 587.9,648.8 588.9,649 589.9,649.3 590.9,649.8 591.9,650.1 592.9,650.5 593.9,651 594.9,651.5 595.9,651.7 596.9,652 597.9,652.4 598.9,652.9 599.9,653.3 600.9,653.5 601.9,653.8 602.9,654.1 603.9,654.6 604.9,655.1 605.9,655.4 606.9,655.7 607.9,656.1 608.9,656.5 609.9,656.9 610.9,657.2 611.9,657.5 612.9,657.7 613.9,658.1 614.9,658.7 615.9,658.7 616.9,659.2 617.9,659.6 618.9,659.9 619.9,660.1 620.9,660.5 621.9,660.8 622.9,661 623.9,661.2 624.9,661.5 625.9,661.8 626.9,662.1 627.9,662.5 628.9,662.8 629.9,663 630.9,663.2 631.9,663.6 632.9,663.9 633.9,664.1 634.9,664.3 635.9,664.4 636.9,664.6 637.9,664.9 638.9,665 639.9,665.3 640.9,665.5 641.9,665.7 642.9,665.8 643.9,666.2 644.9,666.5 645.9,666.9 646.9,667.2 647.9,667.3 648.9,667.5 649.9,667.7 650.9,668.1 651.9,668.3 652.9,668.7 653.9,669.1 654.9,669.1 655.9,669.2 656.9,669.5 657.9,669.7 658.9,670 659.9,670.5 660.9,670.7 661.9,670.8 662.9,671.2 663.9,671.5 664.9,671.6 665.9,671.8 666.9,672 667.9,672.4 668.9,672.6 669.9,672.9 670.9,673.2 671.9,673.4 672.9,673.6 673.9,673.6 674.9,673.6 675.9,673.9 676.9,674.2 677.9,674.3 678.9,674.6 679.9,674.7 680.9,674.8 681.9,675.2 682.9,675.4 683.9,675.5 684.9,675.8 685.9,675.9 686.9,676 687.9,675.8 688.9,676.1 689.9,676.3 690.9,676.5 691.9,676.8 692.9,677.1 693.9,677 694.9,677.2 695.9,677.6 696.9,677.5 697.9,677.6 698.9,677.9 699.9,678.1 700.9,678.1 701.9,678.4 702.9,678.4 703.9,678.5 704.9,678.8 705.9,679 706.9,679 707.9,679.2 708.9,679.4 709.9,679.8 710.9,679.6 711.9,679.9 712.9,679.9 713.9,680 714.9,680.2 715.9,680.4 716.9,680.5 717.9,680.5 718.9,680.5 719.9,680.6 720.9,680.9 721.9,681.1 722.9,681.3 723.9,681.3 724.9,681.5 725.9,681.6 726.9,681.5 727.9,681.4 728.9,681.5 729.9,681.7 730.9,682.1 731.9,682 732.9,682.3 733.9,682.4 734.9,682.6 735.9,682.6 736.9,682.5 737.9,682.6 738.9,682.7 739.9,682.7 740.9,682.7 741.9,682.9 742.9,683.1 743.9,682.8 744.9,683 745.9,683 746.9,683.2 747.9,683.3 748.9,683.3 749.9,683.4 750.9,683.2 751.9,683.5 752.9,683.4 753.9,683.6 754.9,683.5 755.9,683.2 756.9,683.4 757.9,683.7 758.9,683.9 759.9,683.8 760.9,683.8 761.9,683.7 762.9,684.1 763.9,684.2 764.9,684 765.9,683.9 766.9,683.8 767.9,684.2 768.9,684.5 769.9,684.3 770.9,684.3 771.9,684.2 772.9,684.1 773.9,684.3 774.9,684.1 775.9,684.2 776.9,684.4 777.9,684.5 778.9,684.5 779.9,684.5 780.9,684.3 781.9,684.3 782.9,684.5 783.9,684.4 784.9,684.4 785.9,684.4 786.9,684.5 787.9,684.4 788.9,684.4 789.9,684.5 790.9,684.8 791.9,685 792.9,685.1 793.9,684.8 794.9,684.8 795.9,685.1 796.9,685 797.9,685.1 798.9,685.3 799.9,685.1 800.9,685 801.9,685 802.9,685.2 803.9,685.3 804.9,685.1 805.9,685.2 806.9,685.4 807.9,685.5 808.9,685.4 809.9,685.6 810.9,685.5 811.9,685.3 812.9,685.5 813.9,685.6 814.9,685.5 815.9,685.4 816.9,685.6 817.9,685.9 818.9,685.9 819.9,685.7 820.9,686.1 821.9,685.9 822.9,686.1 823.9,686.2 824.9,686.2 825.9,686 826.9,685.9 827.9,686.1 828.9,686 829.9,685.9 830.9,686.5 831.9,686.5 832.9,686.5 833.9,686.3 834.9,686.5 835.9,686.7 836.9,686.6 837.9,686.4 838.9,686.3 839.9,686.4 840.9,686.2 841.9,686.3 842.9,686.5 843.9,686.5 844.9,686.6 845.9,686.7 846.9,687 847.9,687 848.9,686.9 849.9,686.9 850.9,686.8 851.9,686.8 852.9,687 853.9,686.8 854.9,686.8 855.9,686.8 856.9,687.1 857.9,687.2 858.9,687 859.9,687.1 860.9,687 861.9,687 862.9,687.1 863.9,687.5 864.9,687.6 865.9,687.5" fill="none" stroke="#f40cf0" stroke-width="2.8" stroke-linejoin="round"/>
<path d="M141.5,527.4 142.5,524 143.5,520.5 144.5,517.1 145.5,513.7 146.5,510.2 147.5,506.9 148.5,503.3 149.5,499.9 150.5,496.4 151.5,493.2 152.5,489.9 153.5,486.9 154.5,483.6 155.5,480.7 156.5,477.6 157.5,474.2 158.5,471.2 159.5,468.3 160.5,465.9 161.5,463.3 162.5,460.2 163.5,457.1 164.5,454.5 165.5,451.2 166.5,448.9 167.5,445.6 168.5,442.4 169.5,440.9 170.5,438 171.5,434.4 172.5,431.7 173.5,428.7 174.5,425.8 175.5,422.5 176.5,419.7 177.5,417.1 178.5,414.3 179.5,411.5 180.5,408.4 181.5,405.8 182.5,402.1 183.5,399 184.5,395.4 185.5,392.5 186.5,390 187.5,386.4 188.5,383.4 189.5,379.9 190.5,376.3 191.5,373 192.5,369.6 193.5,366.4 194.5,363.4 195.5,360.2 196.5,356.7 197.5,353.6 198.5,351 199.5,348.2 200.5,345.8 201.5,343.4 202.5,340.2 203.5,337.1 204.5,334.3 205.5,331.5 206.5,328.9 207.5,326.5 208.5,324.3 209.5,322.2 210.5,320.3 211.5,318 212.5,315.9 213.5,313.9 214.5,313 215.5,311.1 216.5,309.7 217.5,307.7 218.5,305.9 219.5,303.5 220.5,302 221.5,300.5 222.5,297.5 223.5,296.1 224.5,294.3 225.5,292 226.5,290.1 227.5,288.2 228.5,285.7 229.5,284 230.5,281.8 231.5,280 232.5,278.5 233.5,277.2 234.5,275.8 235.5,274.3 236.5,272.4 237.5,272.2 238.5,270.8 239.5,269 240.5,267.1 241.5,265.9 242.5,265 243.5,263.5 244.5,261.6 245.5,261.6 246.5,261.3 247.5,258.3 248.5,257.9 249.5,256.8 250.5,255.6 251.5,255 252.5,253 253.5,252.8 254.5,252.8 255.5,251.3 256.5,250.4 257.5,250.1 258.5,249.7 259.5,250.1 260.5,248.5 261.5,248.5 262.5,247.2 263.5,247.7 264.5,246.6 265.5,244.6 266.5,245.7 267.5,245.2 268.5,245.6 269.5,246.8 270.5,244.7 271.5,244.7 272.5,246.7 273.5,246.7 274.5,247.7 275.5,247.8 276.5,248 277.5,249.5 278.5,251.3 279.5,252.2 280.5,252.4 281.5,253.1 282.5,253.7 283.5,254.6 284.5,256.6 285.5,256.5 286.5,256.5 287.5,257.7 288.5,259.3 289.5,260 290.5,260.1 291.5,260.3 292.5,261 293.5,260.7 294.5,261.6 295.5,263.4 296.5,263.6 297.5,264.7 298.5,265.8 299.5,265.8 300.5,265.9 301.5,267.7 302.5,265.8 303.5,263.3 304.5,262.5 305.5,262.4 306.5,261.5 307.5,262.2 308.5,262.1 309.5,261.4 310.5,262.8 311.5,263.5 312.5,263.6 313.5,263.5 314.5,264.8 315.5,265.8 316.5,266.3 317.5,266.3 318.5,267.6 319.5,267.3 320.5,268.5 321.5,269.9 322.5,269.2 323.5,269.8 324.5,271.2 325.5,271 326.5,271.4 327.5,272.4 328.5,273.1 329.5,271.8 330.5,272.8 331.5,273.5 332.5,274.1 333.5,274.9 334.5,275.8 335.5,277.1 336.5,277.4 337.5,278.7 338.5,279.7 339.5,280.2 340.5,281.6 341.5,283.4 342.5,283.8 343.5,284.3 344.5,285.4 345.5,286.3 346.5,288 347.5,289.3 348.5,289.7 349.5,291 350.5,292.7 351.5,293.2 352.5,294.3 353.5,294.9 354.5,296.1 355.5,297.8 356.5,300.1 357.5,300.4 358.5,301.3 359.5,302.7 360.5,304.4 361.5,306.3 362.5,308 363.5,310.2 364.5,311.5 365.5,313.5 366.5,315 367.5,316.8 368.5,318.1 369.5,320.3 370.5,322.4 371.5,324.1 372.5,325.5 373.5,328.3 374.5,330.1 375.5,331.9 376.5,334 377.5,336.1 378.5,338.2 379.5,339.7 380.5,341.9 381.5,344.3 382.5,346.3 383.5,348.1 384.5,350 385.5,352 386.5,354.4 387.5,356.7 388.5,358.3 389.5,360.9 390.5,362.7 391.5,364.2 392.5,366.2 393.5,367.3 394.5,368.8 395.5,370.8 396.5,372.9 397.5,374.8 398.5,376.6 399.5,378.3 400.5,379.6 401.5,382 402.5,383.4 403.5,385.4 404.5,387.3 405.5,388.8 406.5,390.5 407.5,392.5 408.5,394.9 409.5,397 410.5,398.8 411.5,400 412.5,401.8 413.5,403.8 414.5,405.9 415.5,407.3 416.5,410.1 417.5,411.7 418.5,413.5 419.5,415.9 420.5,418.2 421.5,420.1 422.5,422.2 423.5,424 424.5,426.4 425.5,428.4 426.5,430.1 427.5,432.5 428.5,434.2 429.5,436 430.5,437.7 431.5,440 432.5,442.3 433.5,443.8 434.5,446.3 435.5,448.3 436.5,449.9 437.5,451.2 438.5,453.7 439.5,455.9 440.5,457.4 441.5,459.3 442.5,460.6 443.5,463.2 444.5,465 445.5,467 446.5,468.3 447.5,470.7 448.5,472.5 449.5,474.4 450.5,475.8 451.5,477.8 452.5,480.3 453.5,481.3 454.5,482.9 455.5,484.8 456.5,486.5 457.5,488.9 458.5,490.8 459.5,491.7 460.5,493.2 461.5,495.7 462.5,497.6 463.5,499.2 464.5,500.8 465.5,501.9 466.5,503.6 467.5,504.9 468.5,506.6 469.5,508.8 470.5,510.3 471.5,512.5 472.5,513.6 473.5,514.9 474.5,516.9 475.5,518.8 476.5,519.9 477.5,520.9 478.5,522.8 479.5,524.6 480.5,525.6 481.5,527 482.5,528.9 483.5,530.2 484.5,531.3 485.5,532.8 486.5,534.3 487.5,535.9 488.5,537.4 489.5,539.1 490.5,540.2 491.5,541.1 492.5,542.8 493.5,544.4 494.5,545.6 495.5,546.9 496.5,547.8 497.5,549 498.5,550.7 499.5,551.5 500.5,552.6 501.5,554.5 502.5,555.5 503.5,556.7 504.5,557.6 505.5,558.8 506.5,560.1 507.5,561.6 508.5,562.8 509.5,563.5 510.5,565.1 511.5,566 512.5,567.1 513.5,568.5 514.5,569.4 515.5,570.2 516.5,571.8 517.5,572.4 518.5,573.4 519.5,574.4 520.5,575.4 521.5,575.9 522.5,576.9 523.5,577.5 524.5,578.7 525.5,579.3 526.5,580.3 527.5,581.8 528.5,582.5 529.5,583.5 530.5,584.8 531.5,585.5 532.5,586.2 533.5,587.5 534.5,588.3 535.5,589.7 536.5,590.8 537.5,591.5 538.5,592.5 539.5,593.6 540.5,594.6 541.5,595.5 542.5,596.7 543.5,597.3 544.5,598.5 545.5,599.5 546.5,600.5 547.5,601.5 548.5,602.2 549.5,603.3 550.5,604.1 551.5,604.8 552.5,605.5 553.5,606.5 554.5,607.5 555.5,608.2 556.5,609.2 557.5,610.3 558.5,611.2 559.5,612 560.5,612.4 561.5,613.1 562.5,614.2 563.5,615 564.5,615.8 565.5,616.5 566.5,617.4 567.5,618.1 568.5,618.8 569.5,619.5 570.5,620.2 571.5,621 572.5,621.7 573.5,622.5 574.5,623.2 575.5,624.2 576.5,624.8 577.5,625.6 578.5,626.2 579.5,627 580.5,628 581.5,628.4 582.5,629 583.5,629.8 584.5,630.7 585.5,631.7 586.5,632.2 587.5,632.9 588.5,633.4 589.5,634.2 590.5,635 591.5,635.7 592.5,636.1 593.5,636.8 594.5,637.4 595.5,637.8 596.5,638.5 597.5,639 598.5,639.3 599.5,640.1 600.5,640.7 601.5,641.1 602.5,641.5 603.5,642.3 604.5,642.7 605.5,643.2 606.5,643.7 607.5,643.9 608.5,644.4 609.5,644.8 610.5,645.2 611.5,645.6 612.5,646.1 613.5,646.6 614.5,647 615.5,647.3 616.5,647.7 617.5,648.2 618.5,648.5 619.5,648.9 620.5,649.4 621.5,649.8 622.5,650.2 623.5,650.7 624.5,651.3 625.5,651.7 626.5,652 627.5,652.4 628.5,653 629.5,653.3 630.5,653.6 631.5,654.1 632.5,654.5 633.5,655 634.5,655.4 635.5,655.9 636.5,656 637.5,656.5 638.5,656.8 639.5,657.4 640.5,657.6 641.5,658 642.5,658.5 643.5,658.8 644.5,659 645.5,659.3 646.5,659.6 647.5,660.1 648.5,660.4 649.5,660.7 650.5,661 651.5,661.3 652.5,661.6 653.5,662.1 654.5,662.5 655.5,662.4 656.5,662.9 657.5,663.2 658.5,663.6 659.5,663.7 660.5,664 661.5,664.3 662.5,664.8 663.5,665 664.5,665.3 665.5,665.6 666.5,665.8 667.5,665.9 668.5,666.4 669.5,666.7 670.5,666.9 671.5,667.3 672.5,667.6 673.5,667.6 674.5,667.9 675.5,668.4 676.5,668.7 677.5,668.7 678.5,668.8 679.5,669.1 680.5,669.4 681.5,669.6 682.5,669.9 683.5,670.1 684.5,670.4 685.5,670.8 686.5,670.9 687.5,671.2 688.5,671.6 689.5,671.8 690.5,671.9 691.5,672.1 692.5,672.3 693.5,672.8 694.5,672.9 695.5,672.9 696.5,673.3 697.5,673.6 698.5,673.9 699.5,674.2 700.5,674.4 701.5,674.4 702.5,674.5 703.5,674.7 704.5,675 705.5,675.4 706.5,675.8 707.5,675.7 708.5,675.6 709.5,675.9 710.5,676.2 711.5,676.3 712.5,676.5 713.5,676.8 714.5,677 715.5,677.1 716.5,677.2 717.5,677.5 718.5,677.6 719.5,677.7 720.5,677.7 721.5,678 722.5,678.2 723.5,678.2 724.5,678.5 725.5,678.7 726.5,678.8 727.5,678.9 728.5,679 729.5,679.4 730.5,679.5 731.5,679.4 732.5,679.3 733.5,679.5 734.5,679.9 735.5,680.1 736.5,680.1 737.5,680.2 738.5,680.1 739.5,680.2 740.5,680.4 741.5,680.4 742.5,680.3 743.5,680.7 744.5,680.8 745.5,680.6 746.5,680.6 747.5,680.8 748.5,680.8 749.5,680.7 750.5,681.1 751.5,681.1 752.5,681.2 753.5,681.5 754.5,681.3 755.5,681.2 756.5,681.3 757.5,681.2 758.5,681.3 759.5,681.5 760.5,681.5 761.5,681.6 762.5,681.9 763.5,681.9 764.5,681.9 765.5,681.9 766.5,682 767.5,682.1 768.5,682 769.5,682.2 770.5,681.9 771.5,681.9 772.5,681.9 773.5,682 774.5,682.3 775.5,682.4 776.5,682.2 777.5,682.3 778.5,682.3 779.5,682.2 780.5,682.2 781.5,682.4 782.5,682.3 783.5,682.5 784.5,682.6 785.5,682.5 786.5,682.5 787.5,682.6 788.5,682.9 789.5,682.8 790.5,683.1 791.5,683.1 792.5,682.9 793.5,682.9 794.5,683.2 795.5,683.4 796.5,683.1 797.5,683.2 798.5,683.4 799.5,683.5 800.5,683.7 801.5,683.4 802.5,683.5 803.5,683.5 804.5,683.8 805.5,683.5 806.5,683.4 807.5,683.6 808.5,683.8 809.5,684.1 810.5,683.9 811.5,684 812.5,684.1 813.5,684.3 814.5,684.2 815.5,684.3 816.5,684.3 817.5,684.2 818.5,684.3 819.5,684.3 820.5,684.3 821.5,684.6 822.5,684.4 823.5,684.7 824.5,684.8 825.5,684.7 826.5,684.6 827.5,684.7 828.5,684.9 829.5,685 830.5,685 831.5,685.1 832.5,685 833.5,685 834.5,685 835.5,685.2 836.5,685.3 837.5,685.3 838.5,685.5 839.5,685.4 840.5,685.1 841.5,685.4 842.5,685.4 843.5,685.8 844.5,686 845.5,685.7 846.5,685.8 847.5,685.8 848.5,685.9 849.5,686.1 850.5,686.1 851.5,686 852.5,686.2 853.5,686.1 854.5,686.2 855.5,686.4 856.5,686.4 857.5,686.2 858.5,686.3 859.5,686.4 860.5,686.5 861.5,686.7 862.5,686.5 863.5,686.7 864.5,686.8 865.5,686.9" fill="none" stroke="#0c0ce6" stroke-width="2.8" stroke-linejoin="round"/>
<path d="M141.5,571.1 142.5,568.2 143.5,565 144.5,561.9 145.5,558.8 146.5,555.6 147.5,552.1 148.5,549.2 149.5,545.8 150.5,542.5 151.5,539.1 152.5,535.7 153.5,532.6 154.5,529.4 155.5,526.1 156.5,522.6 157.5,519.6 158.5,516.1 159.5,512.6 160.5,509 161.5,505.4 162.5,501.8 163.5,498.3 164.5,494.7 165.5,490.9 166.5,487 167.5,483.4 168.5,479.7 169.5,476.2 170.5,472.8 171.5,468.9 172.5,464.9 173.5,461 174.5,457.3 175.5,453.8 176.5,450.8 177.5,447.2 178.5,443.9 179.5,440.6 180.5,437.6 181.5,434.6 182.5,431 183.5,427.8 184.5,424.7 185.5,421.9 186.5,418.5 187.5,415.3 188.5,412.2 189.5,409.3 190.5,407 191.5,404.5 192.5,400.8 193.5,398.1 194.5,395 195.5,391.7 196.5,388.9 197.5,386 198.5,383.1 199.5,380.7 200.5,377.1 201.5,374.5 202.5,371.8 203.5,368.7 204.5,366 205.5,363.4 206.5,360.4 207.5,357.6 208.5,354.7 209.5,351.3 210.5,349.3 211.5,346.8 212.5,343.6 213.5,340.5 214.5,337 215.5,334.2 216.5,331.2 217.5,328.5 218.5,325.9 219.5,322.7 220.5,319.8 221.5,316.6 222.5,314.1 223.5,311.4 224.5,308.4 225.5,305.8 226.5,303.6 227.5,300.1 228.5,297.3 229.5,294.8 230.5,292.7 231.5,290.2 232.5,287 233.5,284 234.5,281.4 235.5,279.2 236.5,276.4 237.5,274.5 238.5,272.3 239.5,269.6 240.5,267.4 241.5,265.4 242.5,263.3 243.5,260.5 244.5,258.9 245.5,256.4 246.5,254.2 247.5,252.6 248.5,250.6 249.5,248.4 250.5,246.4 251.5,245.2 252.5,244.7 253.5,243.5 254.5,241.5 255.5,240 256.5,237.9 257.5,236.6 258.5,235.4 259.5,233.6 260.5,232.5 261.5,232 262.5,230.7 263.5,229.4 264.5,228.8 265.5,227.8 266.5,227.2 267.5,225.9 268.5,224.8 269.5,224.2 270.5,223.4 271.5,222.6 272.5,222.7 273.5,223.7 274.5,224.1 275.5,224 276.5,222.2 277.5,222.9 278.5,223.4 279.5,224 280.5,223.9 281.5,224.2 282.5,225.3 283.5,225.1 284.5,224.6 285.5,226.4 286.5,226.5 287.5,225.4 288.5,225.8 289.5,225 290.5,225.3 291.5,224 292.5,222.9 293.5,222.2 294.5,221.4 295.5,221.1 296.5,220.4 297.5,219.5 298.5,218 299.5,215.8 300.5,217 301.5,216.1 302.5,216.9 303.5,217.1 304.5,216.1 305.5,215.1 306.5,214.6 307.5,214.1 308.5,213.3 309.5,212.7 310.5,212.4 311.5,213.2 312.5,212.5 313.5,212.5 314.5,211.5 315.5,211.3 316.5,211.1 317.5,211.5 318.5,211.8 319.5,211.2 320.5,210.2 321.5,210.4 322.5,212.2 323.5,211 324.5,211 325.5,212.5 326.5,212.4 327.5,211.7 328.5,211.4 329.5,213.2 330.5,212.2 331.5,211.8 332.5,211 333.5,209.8 334.5,210.1 335.5,211.7 336.5,212 337.5,211.3 338.5,210.5 339.5,210.4 340.5,211.2 341.5,211.5 342.5,213.6 343.5,215.5 344.5,217.6 345.5,218.7 346.5,219.6 347.5,220.2 348.5,219.7 349.5,221.6 350.5,222.9 351.5,224.1 352.5,224.4 353.5,224.6 354.5,224.8 355.5,225.5 356.5,226.2 357.5,225.6 358.5,226.5 359.5,227.6 360.5,230.2 361.5,231.7 362.5,232.8 363.5,233.9 364.5,236 365.5,237.8 366.5,239.8 367.5,241.7 368.5,243.8 369.5,245.6 370.5,247.8 371.5,249.5 372.5,251 373.5,252.7 374.5,254.4 375.5,256.5 376.5,258 377.5,259.9 378.5,261.4 379.5,262.9 380.5,265.4 381.5,266.8 382.5,269.1 383.5,270.9 384.5,272 385.5,274 386.5,276.1 387.5,278 388.5,279.9 389.5,282.4 390.5,284.2 391.5,286.3 392.5,288.1 393.5,290.2 394.5,291.9 395.5,294.2 396.5,296.5 397.5,298.4 398.5,300.3 399.5,302.3 400.5,304.9 401.5,307.3 402.5,309.4 403.5,311.7 404.5,314.6 405.5,317.5 406.5,319.3 407.5,321.7 408.5,324 409.5,325.7 410.5,328.6 411.5,331 412.5,333.8 413.5,335.5 414.5,337.4 415.5,339.7 416.5,341.8 417.5,343.7 418.5,345.7 419.5,347.3 420.5,349.6 421.5,352.1 422.5,354.5 423.5,356 424.5,357.8 425.5,360 426.5,362 427.5,364.2 428.5,365.9 429.5,367.5 430.5,369.6 431.5,371.6 432.5,373.7 433.5,375.6 434.5,377.2 435.5,378.9 436.5,381.2 437.5,383.1 438.5,385.7 439.5,387.8 440.5,389.4 441.5,392.2 442.5,394.4 443.5,396.3 444.5,398.9 445.5,400.8 446.5,402 447.5,404.5 448.5,406.5 449.5,408.5 450.5,410.6 451.5,412 452.5,413.9 453.5,415.8 454.5,417.9 455.5,419.9 456.5,421.5 457.5,423.6 458.5,426.2 459.5,428.1 460.5,429.9 461.5,431.2 462.5,433.4 463.5,435.5 464.5,437.7 465.5,439.6 466.5,441.9 467.5,443.6 468.5,445.4 469.5,447.4 470.5,449.4 471.5,451.1 472.5,453.3 473.5,455.1 474.5,456.7 475.5,458.5 476.5,460.5 477.5,462.5 478.5,464.2 479.5,465.8 480.5,467.6 481.5,469.1 482.5,471 483.5,472.1 484.5,473.2 485.5,475.7 486.5,477 487.5,478.1 488.5,479.9 489.5,481.5 490.5,483.9 491.5,485 492.5,485.8 493.5,487.8 494.5,489.4 495.5,491.4 496.5,492.1 497.5,493.3 498.5,495.5 499.5,497.1 500.5,498.6 501.5,499.9 502.5,502.3 503.5,504.3 504.5,505.4 505.5,507.6 506.5,509.4 507.5,511.8 508.5,513.3 509.5,515 510.5,517.2 511.5,519 512.5,520.7 513.5,522.8 514.5,524.5 515.5,526.2 516.5,528.8 517.5,530.3 518.5,532 519.5,533.9 520.5,535.3 521.5,537 522.5,538.9 523.5,540.6 524.5,542.3 525.5,544 526.5,545.2 527.5,546.8 528.5,548.2 529.5,549.3 530.5,550.9 531.5,552.2 532.5,553.9 533.5,555.2 534.5,556.3 535.5,557.3 536.5,558.8 537.5,560.1 538.5,561.6 539.5,562.7 540.5,563.8 541.5,565.3 542.5,566.5 543.5,567.5 544.5,568.9 545.5,569.8 546.5,570.9 547.5,572.1 548.5,573.1 549.5,574.3 550.5,575.6 551.5,577.1 552.5,578.1 553.5,578.9 554.5,580.2 555.5,581 556.5,582.1 557.5,583.3 558.5,584.3 559.5,585.6 560.5,586.2 561.5,586.9 562.5,588.3 563.5,589 564.5,589.8 565.5,590.4 566.5,592 567.5,593.1 568.5,594 569.5,595 570.5,596 571.5,596.6 572.5,597.6 573.5,598.2 574.5,599.1 575.5,600.3 576.5,601 577.5,601.6 578.5,602.6 579.5,603.4 580.5,604.2 581.5,605.1 582.5,605.8 583.5,606.4 584.5,607.4 585.5,608.5 586.5,608.9 587.5,609.9 588.5,610.8 589.5,611.5 590.5,612 591.5,612.9 592.5,613.8 593.5,614.6 594.5,615.1 595.5,615.7 596.5,616.8 597.5,617.6 598.5,618.2 599.5,618.7 600.5,619.5 601.5,620.2 602.5,621 603.5,621.4 604.5,622.2 605.5,622.9 606.5,623.4 607.5,624.2 608.5,624.9 609.5,625.5 610.5,626.2 611.5,626.7 612.5,627.5 613.5,628.2 614.5,628.8 615.5,629.5 616.5,629.8 617.5,630.3 618.5,631.1 619.5,631.9 620.5,632.6 621.5,633 622.5,633.4 623.5,634 624.5,634.4 625.5,634.9 626.5,635.9 627.5,636.2 628.5,636.7 629.5,637.3 630.5,637.9 631.5,638.2 632.5,638.7 633.5,639 634.5,639.4 635.5,640.2 636.5,640.8 637.5,641.1 638.5,641.5 639.5,642 640.5,642.4 641.5,643.1 642.5,643.5 643.5,643.9 644.5,644.4 645.5,644.9 646.5,645.4 647.5,645.8 648.5,646.1 649.5,646.8 650.5,647.4 651.5,647.7 652.5,648.1 653.5,648.7 654.5,649.2 655.5,649.6 656.5,649.9 657.5,650.5 658.5,650.8 659.5,651.3 660.5,651.9 661.5,652.3 662.5,652.9 663.5,653.6 664.5,653.8 665.5,654.2 666.5,654.4 667.5,654.8 668.5,655.2 669.5,655.6 670.5,656 671.5,656.4 672.5,656.8 673.5,657.1 674.5,657.4 675.5,657.8 676.5,658.4 677.5,658.8 678.5,659.2 679.5,659.6 680.5,659.8 681.5,660.1 682.5,660.4 683.5,661 684.5,661.3 685.5,661.4 686.5,661.7 687.5,662.1 688.5,662.2 689.5,662.7 690.5,663.2 691.5,663.4 692.5,663.7 693.5,664.1 694.5,664.3 695.5,664.7 696.5,665 697.5,665.3 698.5,665.7 699.5,665.9 700.5,666.5 701.5,666.7 702.5,667.1 703.5,667.2 704.5,667.6 705.5,667.7 706.5,668 707.5,668.5 708.5,668.8 709.5,669 710.5,669.4 711.5,669.6 712.5,669.9 713.5,670.3 714.5,670.5 715.5,670.6 716.5,671.2 717.5,671.4 718.5,671.5 719.5,671.7 720.5,671.8 721.5,672.2 722.5,672.6 723.5,672.8 724.5,673 725.5,673.4 726.5,673.8 727.5,673.9 728.5,674.1 729.5,674.6 730.5,674.8 731.5,674.9 732.5,675 733.5,675.1 734.5,675.4 735.5,675.7 736.5,676 737.5,676.3 738.5,676.5 739.5,676.7 740.5,676.8 741.5,676.8 742.5,676.8 743.5,677.1 744.5,677.3 745.5,677.5 746.5,677.6 747.5,677.7 748.5,677.8 749.5,678.1 750.5,678.3 751.5,678.4 752.5,678.6 753.5,678.6 754.5,678.7 755.5,679 756.5,679.3 757.5,679.2 758.5,679.4 759.5,679.6 760.5,679.7 761.5,679.6 762.5,679.9 763.5,679.8 764.5,679.8 765.5,679.9 766.5,680.1 767.5,680.1 768.5,680.1 769.5,680.3 770.5,680.2 771.5,680.2 772.5,680.5 773.5,680.6 774.5,680.6 775.5,680.5 776.5,680.7 777.5,680.8 778.5,680.9 779.5,680.7 780.5,680.8 781.5,680.8 782.5,680.7 783.5,680.9 784.5,681.1 785.5,681 786.5,681 787.5,681.3 788.5,681.4 789.5,681.4 790.5,681.2 791.5,681.3 792.5,681.5 793.5,681.3 794.5,681.3 795.5,681.6 796.5,681.7 797.5,681.4 798.5,681.2 799.5,681.3 800.5,681.5 801.5,681.7 802.5,681.8 803.5,681.8 804.5,681.8 805.5,681.9 806.5,681.8 807.5,681.9 808.5,682 809.5,682.5 810.5,682.3 811.5,682.1 812.5,682.1 813.5,682.2 814.5,682.1 815.5,682.2 816.5,682.4 817.5,682.6 818.5,682.5 819.5,682.5 820.5,682.5 821.5,682.6 822.5,682.8 823.5,682.9 824.5,683.1 825.5,683 826.5,683.2 827.5,683.2 828.5,683.2 829.5,683 830.5,683.1 831.5,683.5 832.5,683.7 833.5,683.7 834.5,683.7 835.5,683.7 836.5,683.7 837.5,683.8 838.5,684 839.5,684 840.5,684 841.5,684.1 842.5,684.3 843.5,684.3 844.5,684.3 845.5,684.6 846.5,684.6 847.5,684.6 848.5,684.9 849.5,684.9 850.5,684.8 851.5,684.9 852.5,684.8 853.5,684.8 854.5,684.8 855.5,685.2 856.5,685.1 857.5,685.3 858.5,685.3 859.5,685.3 860.5,685.5 861.5,685.7 862.5,685.9 863.5,686.1 864.5,686 865.5,686.1" fill="none" stroke="#0cf0f4" stroke-width="2.6" stroke-linejoin="round"/>
<path d="M141.5,494.9 142.5,490.8 143.5,486.4 144.5,482 145.5,477.7 146.5,473.4 147.5,469.2 148.5,464.9 149.5,460.3 150.5,456 151.5,451.8 152.5,447.1 153.5,442.9 154.5,438.8 155.5,433.8 156.5,429.7 157.5,425.6 158.5,421.1 159.5,417.2 160.5,412.2 161.5,408.4 162.5,404.2 163.5,399.6 164.5,394.9 165.5,390.4 166.5,385.8 167.5,381.5 168.5,376.7 169.5,372.3 170.5,367.9 171.5,363 172.5,358.5 173.5,353.9 174.5,349.1 175.5,344.8 176.5,340 177.5,335 178.5,330.5 179.5,325.8 180.5,321.2 181.5,316.6 182.5,311.9 183.5,307.5 184.5,302.6 185.5,298 186.5,293.1 187.5,288.4 188.5,283.4 189.5,278.5 190.5,273.7 191.5,269.4 192.5,264.9 193.5,260.6 194.5,256 195.5,251.3 196.5,246.9 197.5,242.9 198.5,238.9 199.5,235.3 200.5,231.3 201.5,227.1 202.5,223.4 203.5,220.2 204.5,216.4 205.5,212.6 206.5,209 207.5,205 208.5,201.1 209.5,197 210.5,192.7 211.5,189 212.5,184.5 213.5,180.2 214.5,175.9 215.5,171.9 216.5,167.5 217.5,163.1 218.5,158.6 219.5,154.7 220.5,150.6 221.5,147.1 222.5,143.5 223.5,140.1 224.5,137.3 225.5,134 226.5,130.8 227.5,127.8 228.5,124.9 229.5,122.5 230.5,119.8 231.5,116.6 232.5,114.7 233.5,112.4 234.5,110.2 235.5,107.8 236.5,105.1 237.5,103.3 238.5,102.6 239.5,100.5 240.5,98.2 241.5,97.3 242.5,95.5 243.5,93.3 244.5,91.6 245.5,90.6 246.5,90 247.5,88.3 248.5,86.5 249.5,84.7 250.5,82.2 251.5,79 252.5,77 253.5,74.7 254.5,72.7 255.5,71.2 256.5,69.6 257.5,67.8 258.5,65.8 259.5,64.9 260.5,64.5 261.5,62.1 262.5,60.6 263.5,60.7 264.5,60.1 265.5,59 266.5,57.5 267.5,57.6 268.5,56.1 269.5,55.1 270.5,55.4 271.5,56.1 272.5,57 273.5,57 274.5,56.7 275.5,57.3 276.5,56.9 277.5,57 278.5,55.2 279.5,55.2 280.5,56.9 281.5,56 282.5,57 283.5,58 284.5,58.9 285.5,60.3 286.5,61.8 287.5,61 288.5,63.4 289.5,65.1 290.5,63.2 291.5,62.7 292.5,63.5 293.5,63.8 294.5,61.5 295.5,61.7 296.5,61.7 297.5,62.1 298.5,61.8 299.5,61.8 300.5,60.9 301.5,60.9 302.5,60.2 303.5,60.2 304.5,61 305.5,61.4 306.5,61.8 307.5,63.8 308.5,63.3 309.5,62.4 310.5,63.8 311.5,62.7 312.5,62.8 313.5,62.1 314.5,61.8 315.5,61.3 316.5,60.5 317.5,61.4 318.5,62.4 319.5,59.9 320.5,61.3 321.5,62.1 322.5,61.4 323.5,62 324.5,64.5 325.5,64.3 326.5,65.8 327.5,65.6 328.5,65.7 329.5,66.5 330.5,67.4 331.5,68.4 332.5,68.9 333.5,69.7 334.5,70.9 335.5,72.6 336.5,73.3 337.5,73.4 338.5,74.3 339.5,75.6 340.5,75.8 341.5,76.4 342.5,76.8 343.5,77.9 344.5,79.2 345.5,80.2 346.5,80.8 347.5,82.5 348.5,83.3 349.5,85.7 350.5,86.8 351.5,88.1 352.5,89.5 353.5,91 354.5,93.9 355.5,96.6 356.5,99.2 357.5,100.5 358.5,103.3 359.5,104.9 360.5,106.9 361.5,108.2 362.5,111 363.5,113.4 364.5,115.8 365.5,117.9 366.5,119.8 367.5,122.7 368.5,125 369.5,127.3 370.5,129.8 371.5,132 372.5,133.8 373.5,135.5 374.5,137.9 375.5,141.1 376.5,143.3 377.5,145.2 378.5,147.2 379.5,149.6 380.5,152 381.5,154.3 382.5,157 383.5,160.4 384.5,162.9 385.5,165.5 386.5,168.4 387.5,171.7 388.5,175.4 389.5,178.6 390.5,181.5 391.5,184.6 392.5,187.4 393.5,190.2 394.5,193.6 395.5,196.2 396.5,199 397.5,200.6 398.5,202.9 399.5,205.5 400.5,207.4 401.5,209.2 402.5,211.7 403.5,214.5 404.5,217.1 405.5,219.6 406.5,222.7 407.5,225.6 408.5,228.4 409.5,231.4 410.5,234.6 411.5,238.1 412.5,241.6 413.5,244.8 414.5,248.1 415.5,251.2 416.5,254.1 417.5,257.6 418.5,261.4 419.5,264.8 420.5,268.4 421.5,271.5 422.5,275.1 423.5,278.6 424.5,281.9 425.5,284.8 426.5,288.2 427.5,291.6 428.5,294.7 429.5,298.4 430.5,301.7 431.5,304.7 432.5,308.2 433.5,310.7 434.5,313.5 435.5,316.3 436.5,318.9 437.5,321.8 438.5,324.4 439.5,327.3 440.5,329.5 441.5,331.7 442.5,333.6 443.5,335.5 444.5,338.1 445.5,340.3 446.5,343.1 447.5,345.4 448.5,348.2 449.5,350.5 450.5,352.9 451.5,355.3 452.5,358 453.5,361 454.5,364.1 455.5,366.9 456.5,370.5 457.5,374.2 458.5,376.6 459.5,379.3 460.5,381.9 461.5,384.5 462.5,387.9 463.5,390.4 464.5,393.1 465.5,396.2 466.5,398.8 467.5,400.4 468.5,403.2 469.5,405.7 470.5,407.9 471.5,410.3 472.5,412.6 473.5,415.4 474.5,417.5 475.5,419.7 476.5,422.2 477.5,424.4 478.5,426.4 479.5,428.7 480.5,431.3 481.5,433.1 482.5,434.9 483.5,436.8 484.5,438.9 485.5,440.9 486.5,443.4 487.5,445.4 488.5,446.8 489.5,449.4 490.5,451.8 491.5,453.6 492.5,455.3 493.5,457.7 494.5,459.1 495.5,460.6 496.5,462.5 497.5,464.8 498.5,467.1 499.5,468.9 500.5,470.2 501.5,471.4 502.5,473.2 503.5,474.9 504.5,476.7 505.5,478 506.5,480.3 507.5,482.3 508.5,483.8 509.5,485.5 510.5,486.8 511.5,488.3 512.5,490.4 513.5,492.8 514.5,494.5 515.5,496 516.5,498 517.5,499.6 518.5,501.8 519.5,503.4 520.5,504.9 521.5,506.9 522.5,508.3 523.5,509.9 524.5,511.6 525.5,513.8 526.5,515.6 527.5,517.2 528.5,519 529.5,521 530.5,522.3 531.5,523.8 532.5,526 533.5,527.8 534.5,529 535.5,530 536.5,531.9 537.5,533.9 538.5,535.5 539.5,537.2 540.5,538.3 541.5,540.1 542.5,541.5 543.5,543.4 544.5,544.8 545.5,546.3 546.5,547.4 547.5,548.6 548.5,550.1 549.5,551.6 550.5,553.1 551.5,555 552.5,556.5 553.5,557.4 554.5,558.4 555.5,559.8 556.5,561.2 557.5,562.9 558.5,564 559.5,565.2 560.5,566.2 561.5,567.2 562.5,568.6 563.5,570 564.5,571.7 565.5,573 566.5,574.2 567.5,575.8 568.5,577.5 569.5,578.6 570.5,579.9 571.5,581.4 572.5,582.6 573.5,583.9 574.5,585.3 575.5,586.6 576.5,587.1 577.5,588.5 578.5,589.7 579.5,590.7 580.5,591.8 581.5,592.8 582.5,594.1 583.5,594.9 584.5,595.9 585.5,596.9 586.5,597.9 587.5,598.9 588.5,600 589.5,600.8 590.5,601.7 591.5,602.5 592.5,603.2 593.5,604.1 594.5,605 595.5,606 596.5,606.7 597.5,607.5 598.5,608.5 599.5,609.3 600.5,609.9 601.5,611.1 602.5,611.7 603.5,612.4 604.5,613.3 605.5,613.8 606.5,614.5 607.5,615.5 608.5,615.8 609.5,616.5 610.5,617.3 611.5,617.7 612.5,618.5 613.5,619.4 614.5,620.3 615.5,620.5 616.5,621.2 617.5,621.9 618.5,622.5 619.5,622.9 620.5,623.8 621.5,624.4 622.5,625.2 623.5,625.9 624.5,626.5 625.5,627.1 626.5,627.6 627.5,628 628.5,628.8 629.5,629.5 630.5,630 631.5,630.7 632.5,631.2 633.5,632.2 634.5,632.9 635.5,633.1 636.5,633.7 637.5,634.3 638.5,635 639.5,635.5 640.5,636 641.5,636.6 642.5,637.1 643.5,637.6 644.5,638.3 645.5,638.7 646.5,639.4 647.5,640 648.5,640.6 649.5,641 650.5,641.6 651.5,642 652.5,642.6 653.5,643.1 654.5,643.6 655.5,644.1 656.5,644.7 657.5,644.9 658.5,645.5 659.5,646 660.5,646.6 661.5,646.9 662.5,647.3 663.5,647.9 664.5,648.6 665.5,648.9 666.5,649.4 667.5,649.8 668.5,650.1 669.5,650.7 670.5,651.3 671.5,651.7 672.5,652.2 673.5,652.5 674.5,653 675.5,653.4 676.5,653.9 677.5,654.5 678.5,654.7 679.5,655.1 680.5,655.4 681.5,655.8 682.5,656.4 683.5,656.5 684.5,656.9 685.5,657.4 686.5,657.8 687.5,658.3 688.5,658.4 689.5,658.9 690.5,659.4 691.5,659.6 692.5,660 693.5,660.5 694.5,661 695.5,661.1 696.5,661.4 697.5,662.1 698.5,662.5 699.5,662.6 700.5,662.8 701.5,663.5 702.5,663.9 703.5,664.3 704.5,664.6 705.5,664.8 706.5,665.2 707.5,665.8 708.5,666.1 709.5,666.1 710.5,666.5 711.5,667.2 712.5,667.3 713.5,667.5 714.5,667.9 715.5,668.3 716.5,668.6 717.5,668.8 718.5,669.1 719.5,669.4 720.5,669.8 721.5,670 722.5,670.3 723.5,670.7 724.5,671.1 725.5,671.3 726.5,671.5 727.5,671.9 728.5,672.2 729.5,672.5 730.5,672.7 731.5,673.1 732.5,673.3 733.5,673.4 734.5,673.6 735.5,673.9 736.5,674.1 737.5,674.2 738.5,674.2 739.5,674.4 740.5,674.9 741.5,675.2 742.5,675.3 743.5,675.3 744.5,675.6 745.5,675.7 746.5,675.9 747.5,676 748.5,676 749.5,676.1 750.5,676.1 751.5,676.3 752.5,676.4 753.5,676.8 754.5,677 755.5,677.2 756.5,677.2 757.5,677.2 758.5,677.4 759.5,677.4 760.5,677.6 761.5,677.7 762.5,677.6 763.5,677.8 764.5,677.9 765.5,678 766.5,678.3 767.5,678.4 768.5,678.2 769.5,678.2 770.5,678 771.5,678.3 772.5,678.4 773.5,678.2 774.5,678.6 775.5,678.7 776.5,678.6 777.5,678.7 778.5,678.7 779.5,678.9 780.5,678.7 781.5,679 782.5,679.3 783.5,679.2 784.5,679.2 785.5,679.1 786.5,679.1 787.5,679.3 788.5,679.4 789.5,679.3 790.5,679.5 791.5,679.8 792.5,679.7 793.5,679.4 794.5,679.5 795.5,679.6 796.5,680 797.5,680.1 798.5,680.1 799.5,679.9 800.5,679.9 801.5,680.2 802.5,680.2 803.5,680.2 804.5,680.4 805.5,680.6 806.5,680.6 807.5,680.4 808.5,680.3 809.5,680.7 810.5,680.8 811.5,680.9 812.5,680.9 813.5,681 814.5,681.2 815.5,681.2 816.5,681.3 817.5,681.2 818.5,681.4 819.5,681.6 820.5,681.5 821.5,681.6 822.5,681.8 823.5,682.1 824.5,682.2 825.5,682.4 826.5,682.3 827.5,682.3 828.5,682.3 829.5,682.6 830.5,682.9 831.5,683 832.5,683.1 833.5,683.2 834.5,683.2 835.5,683.2 836.5,683.4 837.5,683.5 838.5,683.6 839.5,683.7 840.5,683.7 841.5,683.7 842.5,683.8 843.5,683.8 844.5,684 845.5,683.8 846.5,684.2 847.5,684.6 848.5,684.3 849.5,684.2 850.5,684.5 851.5,684.7 852.5,684.7 853.5,684.8 854.5,684.8 855.5,684.9 856.5,685.3 857.5,685.1 858.5,685 859.5,685 860.5,685.2 861.5,685.3 862.5,685.4 863.5,685.4 864.5,685.2 865.5,685.5" fill="none" stroke="#10f010" stroke-width="2.4" stroke-linejoin="round"/>
<g stroke="#000" stroke-width="4.2" fill="none" stroke-linecap="butt">
<path d="M141.5,32.4 V701"/>
<path d="M868.0,32.4 V701"/>
<path d="M134.5,34.5 H870.1"/>
<path d="M129,689.5 H870.1"/>
</g>
<g stroke="#000" stroke-width="3.4" fill="none" stroke-linecap="round">
<path d="M129.5,612.4 H141.5"/>
<path d="M129.5,535.3 H141.5"/>
<path d="M129.5,458.4 H141.5"/>
<path d="M129.5,381.2 H141.5"/>
<path d="M129.5,304.6 H141.5"/>
<path d="M129.5,227.2 H141.5"/>
<path d="M129.5,149.9 H141.5"/>
<path d="M129.5,72.2 H141.5"/>
<path d="M135,651 H141.5"/>
<path d="M135,573.8 H141.5"/>
<path d="M135,496.8 H141.5"/>
<path d="M135,419.8 H141.5"/>
<path d="M135,342.9 H141.5"/>
<path d="M135,265.9 H141.5"/>
<path d="M135,188.6 H141.5"/>
<path d="M135,111.1 H141.5"/>
<path d="M383.7,689.5 V700"/>
<path d="M625.8,689.5 V700"/>
<path d="M262.6,689.5 V695.5"/>
<path d="M504.8,689.5 V695.5"/>
<path d="M746.9,689.5 V695.5"/>
</g>
<g>
<text font-family="'Liberation Sans',Arial,Helvetica,sans-serif" font-weight="bold" font-size="29.2" fill="#000" stroke="#000" stroke-width="0.3" transform="translate(121.2,697.2) scale(0.978,1)" text-anchor="end" xml:space="preserve">0</text>
<text font-family="'Liberation Sans',Arial,Helvetica,sans-serif" font-weight="bold" font-size="29.2" fill="#000" stroke="#000" stroke-width="0.3" transform="translate(121.2,620.1) scale(0.978,1)" text-anchor="end" xml:space="preserve">1000</text>
<text font-family="'Liberation Sans',Arial,Helvetica,sans-serif" font-weight="bold" font-size="29.2" fill="#000" stroke="#000" stroke-width="0.3" transform="translate(121.2,542.9) scale(0.978,1)" text-anchor="end" xml:space="preserve">2000</text>
<text font-family="'Liberation Sans',Arial,Helvetica,sans-serif" font-weight="bold" font-size="29.2" fill="#000" stroke="#000" stroke-width="0.3" transform="translate(121.2,465.7) scale(0.978,1)" text-anchor="end" xml:space="preserve">3000</text>
<text font-family="'Liberation Sans',Arial,Helvetica,sans-serif" font-weight="bold" font-size="29.2" fill="#000" stroke="#000" stroke-width="0.3" transform="translate(121.2,388.6) scale(0.978,1)" text-anchor="end" xml:space="preserve">4000</text>
<text font-family="'Liberation Sans',Arial,Helvetica,sans-serif" font-weight="bold" font-size="29.2" fill="#000" stroke="#000" stroke-width="0.3" transform="translate(121.2,311.4) scale(0.978,1)" text-anchor="end" xml:space="preserve">5000</text>
<text font-family="'Liberation Sans',Arial,Helvetica,sans-serif" font-weight="bold" font-size="29.2" fill="#000" stroke="#000" stroke-width="0.3" transform="translate(121.2,234.3) scale(0.978,1)" text-anchor="end" xml:space="preserve">6000</text>
<text font-family="'Liberation Sans',Arial,Helvetica,sans-serif" font-weight="bold" font-size="29.2" fill="#000" stroke="#000" stroke-width="0.3" transform="translate(121.2,157.1) scale(0.978,1)" text-anchor="end" xml:space="preserve">7000</text>
<text font-family="'Liberation Sans',Arial,Helvetica,sans-serif" font-weight="bold" font-size="29.2" fill="#000" stroke="#000" stroke-width="0.3" transform="translate(121.2,80) scale(0.978,1)" text-anchor="end" xml:space="preserve">8000</text>
<text font-family="'Liberation Sans',Arial,Helvetica,sans-serif" font-weight="bold" font-size="29.3" fill="#000" stroke="#000" stroke-width="0.3" transform="translate(141.2,731.6) scale(0.98,1)" text-anchor="middle" xml:space="preserve">400</text>
<text font-family="'Liberation Sans',Arial,Helvetica,sans-serif" font-weight="bold" font-size="29.3" fill="#000" stroke="#000" stroke-width="0.3" transform="translate(383.4,731.6) scale(0.98,1)" text-anchor="middle" xml:space="preserve">500</text>
<text font-family="'Liberation Sans',Arial,Helvetica,sans-serif" font-weight="bold" font-size="29.3" fill="#000" stroke="#000" stroke-width="0.3" transform="translate(625.5,731.6) scale(0.98,1)" text-anchor="middle" xml:space="preserve">600</text>
<text font-family="'Liberation Sans',Arial,Helvetica,sans-serif" font-weight="bold" font-size="29.3" fill="#000" stroke="#000" stroke-width="0.3" transform="translate(867.7,731.6) scale(0.98,1)" text-anchor="middle" xml:space="preserve">700</text>
<text font-family="'Liberation Sans',Arial,Helvetica,sans-serif" font-weight="bold" font-size="28.6" fill="#000" stroke="#000" stroke-width="0.3" transform="translate(715.3,448.4) scale(1.02,1)" text-anchor="start" xml:space="preserve">350 nm</text>
<text font-family="'Liberation Sans',Arial,Helvetica,sans-serif" font-weight="bold" font-size="28.6" fill="#000" stroke="#000" stroke-width="0.3" transform="translate(715.3,485.3) scale(1.02,1)" text-anchor="start" xml:space="preserve">360 nm</text>
<text font-family="'Liberation Sans',Arial,Helvetica,sans-serif" font-weight="bold" font-size="28.6" fill="#000" stroke="#000" stroke-width="0.3" transform="translate(715.3,522.2) scale(1.02,1)" text-anchor="start" xml:space="preserve">370 nm</text>
<text font-family="'Liberation Sans',Arial,Helvetica,sans-serif" font-weight="bold" font-size="28.6" fill="#000" stroke="#000" stroke-width="0.3" transform="translate(715.3,559.1) scale(1.02,1)" text-anchor="start" xml:space="preserve">380 nm</text>
<text font-family="'Liberation Sans',Arial,Helvetica,sans-serif" font-weight="bold" font-size="28.6" fill="#000" stroke="#000" stroke-width="0.3" transform="translate(715.3,596) scale(1.02,1)" text-anchor="start" xml:space="preserve">390 nm</text>
</g>
<path d="M645.6,439.6 H707.8" stroke="#f20c14" stroke-width="2.7" stroke-linecap="butt"/>
<path d="M645.6,476.5 H707.8" stroke="#0c0ce6" stroke-width="2.7" stroke-linecap="butt"/>
<path d="M645.6,513.4 H707.8" stroke="#10f010" stroke-width="2.7" stroke-linecap="butt"/>
<path d="M645.6,550.3 H707.8" stroke="#0cf0f4" stroke-width="2.7" stroke-linecap="butt"/>
<path d="M645.6,587.2 H707.8" stroke="#f40cf0" stroke-width="2.7" stroke-linecap="butt"/>
<text font-family="'Liberation Sans',Arial,Helvetica,sans-serif" font-weight="bold" font-size="29.3" fill="#000" stroke="#000" stroke-width="0.55" letter-spacing="1.3" word-spacing="-0.8" transform="translate(505.4,784)" text-anchor="middle" xml:space="preserve">Wavelength   (nm)</text>
<text font-family="'Liberation Sans',Arial,Helvetica,sans-serif" font-weight="bold" font-size="29.3" fill="#000" stroke="#000" stroke-width="0.55" letter-spacing="1.3" word-spacing="-0.9" transform="translate(36.9,380.9) rotate(-90)" text-anchor="middle" xml:space="preserve">PL Intensity   (a.u.)</text>
<text font-family="'Liberation Sans',Arial,Helvetica,sans-serif" font-weight="bold" font-size="45.5" fill="#000" stroke="#fff" stroke-width="0" letter-spacing="0.3" word-spacing="0" transform="translate(0.8,48.5) scale(0.97,1)" text-anchor="start" xml:space="preserve">(a)</text>
<rect x="503.3" y="52.4" width="337.40000000000003" height="308.90000000000003" fill="#fff"/>
<path d="M515.4,331.1 516.4,330.3 517.4,329.3 518.4,328.6 519.4,327.8 520.4,327.1 521.4,326.1 522.4,325.5 523.4,324.7 524.4,323.7 525.4,323 526.4,322.2 527.4,321.7 528.4,320.3 529.4,319.9 530.4,318.9 531.4,318.3 532.4,317.8 533.4,316.8 534.4,316.1 535.4,315.2 536.4,315 537.4,314 538.4,313.2 539.4,311.9 540.4,311.1 541.4,310.9 542.4,309.9 543.4,309.1 544.4,308.5 545.4,307.4 546.4,307.2 547.4,306.4 548.4,305.8 549.4,304.8 550.4,304.5 551.4,303.6 552.4,303.5 553.4,303 554.4,302.3 555.4,301.6 556.4,301 557.4,299.5 558.4,300 559.4,299.1 560.4,298.7 561.4,298 562.4,297.1 563.4,296.8 564.4,296.7 565.4,296.3 566.4,294.9 567.4,294.1 568.4,294.2 569.4,292.8 570.4,293.1 571.4,291.8 572.4,290.9 573.4,291.3 574.4,291.3 575.4,289.9 576.4,291.1 577.4,290.5 578.4,291.3 579.4,290.7 580.4,290.5 581.4,291.7 582.4,292.3 583.4,293.1 584.4,293.3 585.4,293.2 586.4,293.2 587.4,293.3 588.4,293.7 589.4,293.9 590.4,294.3 591.4,293.9 592.4,295.2 593.4,295.6 594.4,296.9 595.4,296.6 596.4,296.5 597.4,297.2 598.4,296.9 599.4,297.4 600.4,297.5 601.4,299 602.4,299.1 603.4,298.9 604.4,299.7 605.4,300.5 606.4,300.7 607.4,301 608.4,301 609.4,301.5 610.4,302.2 611.4,302.9 612.4,302.7 613.4,303.1 614.4,304.2 615.4,304.1 616.4,305.1 617.4,305.4 618.4,306.1 619.4,306.9 620.4,307.1 621.4,307.6 622.4,307.6 623.4,308.3 624.4,309.3 625.4,310.2 626.4,310.9 627.4,311.8 628.4,312 629.4,312.7 630.4,313.6 631.4,314 632.4,314.7 633.4,315.1 634.4,316.2 635.4,316.3 636.4,317.2 637.4,317.4 638.4,318.4 639.4,318.5 640.4,319.4 641.4,319.4 642.4,320.2 643.4,321 644.4,321.1 645.4,321.7 646.4,322.1 647.4,322.2 648.4,323.2 649.4,323.7 650.4,323.9 651.4,324.7 652.4,324.9 653.4,325.3 654.4,325.9 655.4,326.3 656.4,327.3 657.4,327.1 658.4,328 659.4,328.5 660.4,328.4 661.4,328.9 662.4,329.8 663.4,330.1 664.4,330.8 665.4,331.4 666.4,331.5 667.4,331.8 668.4,331.9 669.4,332.9 670.4,333.2 671.4,333.9 672.4,334.3 673.4,334.4 674.4,335.5 675.4,335.8 676.4,336.2 677.4,336.1 678.4,336.7 679.4,337.1 680.4,337.5 681.4,337.8 682.4,338.5 683.4,338.9 684.4,339.3 685.4,339.6 686.4,340.3 687.4,340.5 688.4,340.2 689.4,341 690.4,341.6 691.4,342.2 692.4,342.3 693.4,342.6 694.4,342.9 695.4,343.5 696.4,343.6 697.4,343.9 698.4,344.1 699.4,344.7 700.4,344.7 701.4,344.8 702.4,345.5 703.4,345.5 704.4,346 705.4,346.3 706.4,346.7 707.4,346.9 708.4,346.7 709.4,347 710.4,347 711.4,347.9 712.4,347.9 713.4,348.3 714.4,348.1 715.4,347.9 716.4,348.9 717.4,348.8 718.4,349 719.4,349.2 720.4,349.6 721.4,349.7 722.4,349.5 723.4,350.2 724.4,350.1 725.4,350.4 726.4,351.1 727.4,351.1 728.4,351 729.4,350.9 730.4,351.5 731.4,351.8 732.4,351.9 733.4,351.8 734.4,352.1 735.4,352.2 736.4,352.7 737.4,353.1 738.4,353.3 739.4,353.1 740.4,353.5 741.4,353.7 742.4,353.7 743.4,354 744.4,354.6 745.4,354.4 746.4,354.7 747.4,354.6 748.4,354.8 749.4,354.6 750.4,355.2 751.4,355.7 752.4,356.1 753.4,356 754.4,356 755.4,356 756.4,356 757.4,356.2 758.4,356.6 759.4,356.4 760.4,356.9 761.4,356.6 762.4,356.5 763.4,356.7 764.4,356.7 765.4,356.9 766.4,357.6 767.4,357.4 768.4,357.6 769.4,358 770.4,358.1 771.4,357.8 772.4,358.3 773.4,358.2 774.4,358.2 775.4,358.3 776.4,357.9 777.4,358.2 778.4,358.4 779.4,358.7 780.4,358.5 781.4,358.6 782.4,358.9 783.4,359.1 784.4,359 785.4,359.1 786.4,358.7 787.4,358.8 788.4,358.9 789.4,358.8 790.4,358.8 791.4,359.4 792.4,358.9 793.4,358.8 794.4,359.2 795.4,359.5 796.4,359.2 797.4,359.4 798.4,359 799.4,359 800.4,359 801.4,359.2 802.4,359.6 803.4,359 804.4,359.6 805.4,359 806.4,359.2 807.4,359.5 808.4,359.5 809.4,359.4 810.4,359 811.4,359.4 812.4,359.2 813.4,360 814.4,359.4 815.4,359.4 816.4,359.2 817.4,359.3 818.4,359.2 819.4,359.7 820.4,359.5 821.4,359.6 822.4,359.3 823.4,359.4 824.4,359.8 825.4,359.3 826.4,359.1 827.4,359.6 828.4,359.3 829.4,359.5 830.4,359.8 831.4,359.4 832.4,359.8 833.4,359.5 834.4,360 835.4,359.9 836.4,359.5 837.4,359.5 838.4,359.4" fill="none" stroke="#800a80" stroke-width="3.3" stroke-linejoin="round"/>
<path d="M504.5,250.1 505.5,245.5 506.5,240 507.5,235.9 508.5,230.7 509.5,226.2 510.5,221.6 511.5,218.7 512.5,213.9 513.5,209.7 514.5,205.4 515.5,202 516.5,196.8 517.5,193.9 518.5,191.2 519.5,186.3 520.5,182.8 521.5,179.6 522.5,175.4 523.5,172.4 524.5,169.7 525.5,166.1 526.5,162.9 527.5,159.4 528.5,156.8 529.5,153.7 530.5,151.7 531.5,148.4 532.5,144.8 533.5,140.5 534.5,140.1 535.5,137.6 536.5,133.6 537.5,130.1 538.5,128.4 539.5,127.5 540.5,123.7 541.5,121.8 542.5,120.3 543.5,119.1 544.5,116.1 545.5,114 546.5,111.8 547.5,112.2 548.5,110 549.5,107 550.5,103.9 551.5,103 552.5,103 553.5,100.4 554.5,100.7 555.5,98.9 556.5,97.6 557.5,96.7 558.5,95.2 559.5,92.4 560.5,92 561.5,93.8 562.5,88.8 563.5,88.5 564.5,89.6 565.5,87.3 566.5,85.6 567.5,84.4 568.5,86.3 569.5,86.6 570.5,86.5 571.5,84.2 572.5,84.8 573.5,81.6 574.5,82.6 575.5,81.3 576.5,82.4 577.5,83.4 578.5,83.7 579.5,80.9 580.5,84.1 581.5,82 582.5,81.6 583.5,83 584.5,82.1 585.5,84.6 586.5,85.7 587.5,85.8 588.5,87.3 589.5,87 590.5,88 591.5,87.4 592.5,90.1 593.5,90.6 594.5,92.4 595.5,94.4 596.5,96.1 597.5,95.7 598.5,97.2 599.5,100.2 600.5,102.7 601.5,104.3 602.5,106.6 603.5,108.7 604.5,109.7 605.5,110.9 606.5,111.9 607.5,114.1 608.5,116.9 609.5,120 610.5,122.5 611.5,124.9 612.5,127.5 613.5,130.7 614.5,133.1 615.5,135.7 616.5,138.1 617.5,140 618.5,142.1 619.5,145.8 620.5,148.3 621.5,150.3 622.5,152.8 623.5,157 624.5,157.5 625.5,160.1 626.5,162.8 627.5,164.4 628.5,167.7 629.5,171.2 630.5,173.1 631.5,175.2 632.5,177.6 633.5,179.7 634.5,182.6 635.5,184.4 636.5,186.7 637.5,189.7 638.5,192.8 639.5,195.1 640.5,197.8 641.5,199.1 642.5,203.4 643.5,206.7 644.5,208.6 645.5,209.9 646.5,211.8 647.5,214.5 648.5,215.8 649.5,218.4 650.5,219.5 651.5,221.9 652.5,223.6 653.5,223.5 654.5,226.4 655.5,227.8 656.5,229.4 657.5,231.7 658.5,234.1 659.5,236.6 660.5,237.6 661.5,240.8 662.5,243.4 663.5,244.8 664.5,246.8 665.5,248.5 666.5,250 667.5,252.6 668.5,254.4 669.5,256.5 670.5,259 671.5,260.2 672.5,261.8 673.5,263.9 674.5,264.6 675.5,266.4 676.5,268.4 677.5,270.1 678.5,272.2 679.5,273.7 680.5,276 681.5,277.7 682.5,279 683.5,280.2 684.5,282.1 685.5,283.8 686.5,284.7 687.5,286.7 688.5,288.3 689.5,289.6 690.5,291.5 691.5,292.8 692.5,293.6 693.5,295.2 694.5,296.4 695.5,298.1 696.5,299 697.5,300.8 698.5,302 699.5,303.3 700.5,304.2 701.5,305.1 702.5,306.9 703.5,307.7 704.5,309.1 705.5,309.9 706.5,311 707.5,312.3 708.5,313 709.5,314.1 710.5,314.5 711.5,315.9 712.5,316.6 713.5,317.4 714.5,318.3 715.5,319.2 716.5,320.2 717.5,320.3 718.5,321.4 719.5,322 720.5,323.1 721.5,323.5 722.5,324.4 723.5,324.9 724.5,325.8 725.5,326.5 726.5,326.9 727.5,327.6 728.5,327.9 729.5,328.9 730.5,329.6 731.5,330 732.5,330.9 733.5,330.9 734.5,331.5 735.5,332.2 736.5,333 737.5,333.7 738.5,334.2 739.5,334.8 740.5,335.5 741.5,335.8 742.5,336.2 743.5,336.8 744.5,337.9 745.5,337.6 746.5,338.5 747.5,339.4 748.5,339.7 749.5,339.9 750.5,340.6 751.5,341.3 752.5,341.8 753.5,341.8 754.5,342.6 755.5,343 756.5,343.6 757.5,344.1 758.5,344.1 759.5,344.3 760.5,345.2 761.5,345.9 762.5,346.1 763.5,346.4 764.5,347.2 765.5,347 766.5,347.7 767.5,347.9 768.5,348.5 769.5,349 770.5,349.8 771.5,349.8 772.5,350.3 773.5,350.5 774.5,351.4 775.5,351.7 776.5,352.2 777.5,352.2 778.5,352.7 779.5,353.2 780.5,353.1 781.5,353.4 782.5,353.4 783.5,353.2 784.5,353 785.5,353.6 786.5,353.5 787.5,353.7 788.5,353 789.5,353.1 790.5,353 791.5,353.4 792.5,353.9 793.5,353.8 794.5,353.7 795.5,353.8 796.5,354 797.5,353.8 798.5,354 799.5,354 800.5,353.6 801.5,354.1 802.5,354.6 803.5,354.3 804.5,354.4 805.5,354.4 806.5,354.6 807.5,355.1 808.5,354.9 809.5,354.7 810.5,354.4 811.5,355 812.5,354.9 813.5,355 814.5,355.8 815.5,355.9 816.5,355.4 817.5,356.2 818.5,356.2 819.5,356 820.5,356.5 821.5,356 822.5,356.2 823.5,356.3 824.5,356.5 825.5,357.1 826.5,356.7 827.5,356.9 828.5,357.1 829.5,357.5 830.5,357.5 831.5,357.9 832.5,357.7 833.5,357.7 834.5,358 835.5,358.3 836.5,358.2 837.5,358.6 838.5,359.2" fill="none" stroke="#0a800a" stroke-width="3.3" stroke-linejoin="round"/>
<g stroke="#000" stroke-width="4.2" fill="none">
<path d="M503.3,50.3 V363.40000000000003"/>
<path d="M840.7,50.3 V368"/>
<path d="M497,52.4 H842.8000000000001"/>
<path d="M497,361.3 H842.8000000000001"/>
</g>
<g stroke="#000" stroke-width="3.2" fill="none" stroke-linecap="round">
<path d="M497.5,299.5 H503.3"/>
<path d="M497.5,237.7 H503.3"/>
<path d="M497.5,176 H503.3"/>
<path d="M497.5,114.2 H503.3"/>
<path d="M500,330.4 H503.3"/>
<path d="M500,268.6 H503.3"/>
<path d="M500,206.8 H503.3"/>
<path d="M500,145.1 H503.3"/>
<path d="M500,83.3 H503.3"/>
<path d="M539.4,361.3 V367"/>
<path d="M599.7,361.3 V367"/>
<path d="M659.9,361.3 V367"/>
<path d="M720.2,361.3 V367"/>
<path d="M780.4,361.3 V367"/>
<path d="M509.3,361.3 V365.5"/>
<path d="M569.5,361.3 V365.5"/>
<path d="M629.8,361.3 V365.5"/>
<path d="M690,361.3 V365.5"/>
<path d="M750.3,361.3 V365.5"/>
<path d="M810.6,361.3 V365.5"/>
</g>
<g>
<text font-family="'Liberation Sans',Arial,Helvetica,sans-serif" font-weight="bold" font-size="25" fill="#000" stroke="#000" stroke-width="0.3" transform="translate(493.9,368.5) scale(1.05,1)" text-anchor="end" xml:space="preserve">0</text>
<text font-family="'Liberation Sans',Arial,Helvetica,sans-serif" font-weight="bold" font-size="25" fill="#000" stroke="#000" stroke-width="0.3" transform="translate(493.9,306.7) scale(1.05,1)" text-anchor="end" xml:space="preserve">200</text>
<text font-family="'Liberation Sans',Arial,Helvetica,sans-serif" font-weight="bold" font-size="25" fill="#000" stroke="#000" stroke-width="0.3" transform="translate(493.9,244.9) scale(1.05,1)" text-anchor="end" xml:space="preserve">400</text>
<text font-family="'Liberation Sans',Arial,Helvetica,sans-serif" font-weight="bold" font-size="25" fill="#000" stroke="#000" stroke-width="0.3" transform="translate(493.9,183.2) scale(1.05,1)" text-anchor="end" xml:space="preserve">600</text>
<text font-family="'Liberation Sans',Arial,Helvetica,sans-serif" font-weight="bold" font-size="25" fill="#000" stroke="#000" stroke-width="0.3" transform="translate(493.9,121.4) scale(1.05,1)" text-anchor="end" xml:space="preserve">800</text>
<text font-family="'Liberation Sans',Arial,Helvetica,sans-serif" font-weight="bold" font-size="25" fill="#000" stroke="#000" stroke-width="0.3" transform="translate(493.9,59.6) scale(1.05,1)" text-anchor="end" xml:space="preserve">1000</text>
<text font-family="'Liberation Sans',Arial,Helvetica,sans-serif" font-weight="bold" font-size="26.2" fill="#000" stroke="#000" stroke-width="0.3" transform="translate(538.9,392)" text-anchor="middle" xml:space="preserve">450</text>
<text font-family="'Liberation Sans',Arial,Helvetica,sans-serif" font-weight="bold" font-size="26.2" fill="#000" stroke="#000" stroke-width="0.3" transform="translate(599.2,392)" text-anchor="middle" xml:space="preserve">500</text>
<text font-family="'Liberation Sans',Arial,Helvetica,sans-serif" font-weight="bold" font-size="26.2" fill="#000" stroke="#000" stroke-width="0.3" transform="translate(659.4,392)" text-anchor="middle" xml:space="preserve">550</text>
<text font-family="'Liberation Sans',Arial,Helvetica,sans-serif" font-weight="bold" font-size="26.2" fill="#000" stroke="#000" stroke-width="0.3" transform="translate(719.7,392)" text-anchor="middle" xml:space="preserve">600</text>
<text font-family="'Liberation Sans',Arial,Helvetica,sans-serif" font-weight="bold" font-size="26.2" fill="#000" stroke="#000" stroke-width="0.3" transform="translate(779.9,392)" text-anchor="middle" xml:space="preserve">650</text>
<text font-family="'Liberation Sans',Arial,Helvetica,sans-serif" font-weight="bold" font-size="26.2" fill="#000" stroke="#000" stroke-width="0.3" transform="translate(840.2,392)" text-anchor="middle" xml:space="preserve">700</text>
<text font-family="'Liberation Sans',Arial,Helvetica,sans-serif" font-weight="bold" font-size="25" fill="#000" stroke="#000" stroke-width="0.3" transform="translate(739.2,86.2) scale(1.05,1)" text-anchor="start" xml:space="preserve">400 nm</text>
<text font-family="'Liberation Sans',Arial,Helvetica,sans-serif" font-weight="bold" font-size="25" fill="#000" stroke="#000" stroke-width="0.3" transform="translate(743,120.3) scale(1.045,1)" text-anchor="start" xml:space="preserve">410 nm</text>
</g>
<path d="M707.5,82.2 H736" stroke="#0a800a" stroke-width="3.6" stroke-linecap="round"/>
<path d="M707.5,116.3 H736" stroke="#800a80" stroke-width="3.6" stroke-linecap="round"/>
<g stroke="#fff" stroke-width="3" fill="none">
<path d="M1052.1,41.4 V638.5"/>
<path d="M1609.8,41.4 V638.5"/>
<path d="M1040.8,42.9 H1611.3"/>
<path d="M1040.8,625.8 H1611.3"/>
<path d="M1040.8,558.5 H1052.1"/>
<path d="M1040.8,494.1 H1052.1"/>
<path d="M1040.8,429.2 H1052.1"/>
<path d="M1040.8,363.7 H1052.1"/>
<path d="M1040.8,299.8 H1052.1"/>
<path d="M1040.8,236.2 H1052.1"/>
<path d="M1040.8,171.7 H1052.1"/>
<path d="M1040.8,105.0 H1052.1"/>
<path d="M1120.2,625.8 V638.5"/>
<path d="M1193.2,625.8 V638.5"/>
<path d="M1261.4,625.8 V638.5"/>
<path d="M1331.5,625.8 V638.5"/>
<path d="M1399.7,625.8 V638.5"/>
<path d="M1470.6,625.8 V638.5"/>
<path d="M1539.7,625.8 V638.5"/>
</g>
<g>
<text font-family="'Liberation Sans',Arial,Helvetica,sans-serif" font-weight="bold" font-size="25" fill="#fff" stroke="#fff" stroke-width="0.3" transform="translate(1032.4,635.2) scale(1.035,1)" text-anchor="end" xml:space="preserve">0.0</text>
<text font-family="'Liberation Sans',Arial,Helvetica,sans-serif" font-weight="bold" font-size="25" fill="#fff" stroke="#fff" stroke-width="0.3" transform="translate(1032.4,567.9) scale(1.035,1)" text-anchor="end" xml:space="preserve">0.1</text>
<text font-family="'Liberation Sans',Arial,Helvetica,sans-serif" font-weight="bold" font-size="25" fill="#fff" stroke="#fff" stroke-width="0.3" transform="translate(1032.4,503.5) scale(1.035,1)" text-anchor="end" xml:space="preserve">0.2</text>
<text font-family="'Liberation Sans',Arial,Helvetica,sans-serif" font-weight="bold" font-size="25" fill="#fff" stroke="#fff" stroke-width="0.3" transform="translate(1032.4,438.6) scale(1.035,1)" text-anchor="end" xml:space="preserve">0.3</text>
<text font-family="'Liberation Sans',Arial,Helvetica,sans-serif" font-weight="bold" font-size="25" fill="#fff" stroke="#fff" stroke-width="0.3" transform="translate(1032.4,373.1) scale(1.035,1)" text-anchor="end" xml:space="preserve">0.4</text>
<text font-family="'Liberation Sans',Arial,Helvetica,sans-serif" font-weight="bold" font-size="25" fill="#fff" stroke="#fff" stroke-width="0.3" transform="translate(1032.4,309.2) scale(1.035,1)" text-anchor="end" xml:space="preserve">0.5</text>
<text font-family="'Liberation Sans',Arial,Helvetica,sans-serif" font-weight="bold" font-size="25" fill="#fff" stroke="#fff" stroke-width="0.3" transform="translate(1032.4,245.6) scale(1.035,1)" text-anchor="end" xml:space="preserve">0.6</text>
<text font-family="'Liberation Sans',Arial,Helvetica,sans-serif" font-weight="bold" font-size="25" fill="#fff" stroke="#fff" stroke-width="0.3" transform="translate(1032.4,181.1) scale(1.035,1)" text-anchor="end" xml:space="preserve">0.7</text>
<text font-family="'Liberation Sans',Arial,Helvetica,sans-serif" font-weight="bold" font-size="25" fill="#fff" stroke="#fff" stroke-width="0.3" transform="translate(1032.4,114.4) scale(1.035,1)" text-anchor="end" xml:space="preserve">0.8</text>
<text font-family="'Liberation Sans',Arial,Helvetica,sans-serif" font-weight="bold" font-size="25" fill="#fff" stroke="#fff" stroke-width="0.3" transform="translate(1032.4,53.5) scale(1.035,1)" text-anchor="end" xml:space="preserve">0.9</text>
<text font-family="'Liberation Sans',Arial,Helvetica,sans-serif" font-weight="bold" font-size="25.3" fill="#fff" stroke="#fff" stroke-width="0.3" transform="translate(1052.3,661.8) scale(1.04,1)" text-anchor="middle" xml:space="preserve">0.0</text>
<text font-family="'Liberation Sans',Arial,Helvetica,sans-serif" font-weight="bold" font-size="25.3" fill="#fff" stroke="#fff" stroke-width="0.3" transform="translate(1118.6,661.8) scale(1.04,1)" text-anchor="middle" xml:space="preserve">0.1</text>
<text font-family="'Liberation Sans',Arial,Helvetica,sans-serif" font-weight="bold" font-size="25.3" fill="#fff" stroke="#fff" stroke-width="0.3" transform="translate(1193.9,661.8) scale(1.04,1)" text-anchor="middle" xml:space="preserve">0.2</text>
<text font-family="'Liberation Sans',Arial,Helvetica,sans-serif" font-weight="bold" font-size="25.3" fill="#fff" stroke="#fff" stroke-width="0.3" transform="translate(1262,661.8) scale(1.04,1)" text-anchor="middle" xml:space="preserve">0.3</text>
<text font-family="'Liberation Sans',Arial,Helvetica,sans-serif" font-weight="bold" font-size="25.3" fill="#fff" stroke="#fff" stroke-width="0.3" transform="translate(1331.5,661.8) scale(1.04,1)" text-anchor="middle" xml:space="preserve">0.4</text>
<text font-family="'Liberation Sans',Arial,Helvetica,sans-serif" font-weight="bold" font-size="25.3" fill="#fff" stroke="#fff" stroke-width="0.3" transform="translate(1400.9,661.8) scale(1.04,1)" text-anchor="middle" xml:space="preserve">0.5</text>
<text font-family="'Liberation Sans',Arial,Helvetica,sans-serif" font-weight="bold" font-size="25.3" fill="#fff" stroke="#fff" stroke-width="0.3" transform="translate(1472.3,661.8) scale(1.04,1)" text-anchor="middle" xml:space="preserve">0.6</text>
<text font-family="'Liberation Sans',Arial,Helvetica,sans-serif" font-weight="bold" font-size="25.3" fill="#fff" stroke="#fff" stroke-width="0.3" transform="translate(1541,661.8) scale(1.04,1)" text-anchor="middle" xml:space="preserve">0.7</text>
<text font-family="'Liberation Sans',Arial,Helvetica,sans-serif" font-weight="bold" font-size="25.3" fill="#fff" stroke="#fff" stroke-width="0.3" transform="translate(1610,661.8) scale(1.04,1)" text-anchor="middle" xml:space="preserve">0.8</text>
</g>
<text font-family="'Liberation Sans',Arial,Helvetica,sans-serif" font-weight="bold" font-size="30.3" fill="#fff" stroke="#fff" stroke-width="0.3" transform="translate(966,344.3)" text-anchor="middle" xml:space="preserve">Y</text>
<text font-family="'Liberation Sans',Arial,Helvetica,sans-serif" font-weight="bold" font-size="29.4" fill="#fff" stroke="#fff" stroke-width="0.3" transform="translate(1329.6,699.6)" text-anchor="middle" xml:space="preserve">X</text>
<text font-family="'Liberation Sans',Arial,Helvetica,sans-serif" font-weight="bold" font-size="45.5" fill="#fff" stroke="#000" stroke-width="0" letter-spacing="0.3" word-spacing="0" transform="translate(933.3,48.3) scale(0.97,1)" text-anchor="start" xml:space="preserve">(b)</text>
<circle cx="1200.8" cy="419.7" r="3.8" fill="#ffd2c8" fill-opacity="0.6"/>
<circle cx="1200.8" cy="419.7" r="2.1" fill="#300404"/>
<text font-family="'Liberation Sans',Arial,Helvetica,sans-serif" font-weight="bold" font-size="24.4" fill="#000" stroke="#000" stroke-width="0.3" transform="translate(1208.4,426.1) scale(1.075,1)" text-anchor="start" xml:space="preserve">410 nm</text>
<circle cx="1190.9" cy="444.7" r="3.8" fill="#ffd2c8" fill-opacity="0.6"/>
<circle cx="1190.9" cy="444.7" r="2.1" fill="#300404"/>
<text font-family="'Liberation Sans',Arial,Helvetica,sans-serif" font-weight="bold" font-size="24.4" fill="#000" stroke="#000" stroke-width="0.3" transform="translate(1200.2,451.5) scale(1.075,1)" text-anchor="start" xml:space="preserve">400 nm</text>
<circle cx="1184.8" cy="462.6" r="3.8" fill="#ffd2c8" fill-opacity="0.6"/>
<circle cx="1184.8" cy="462.6" r="2.1" fill="#300404"/>
<text font-family="'Liberation Sans',Arial,Helvetica,sans-serif" font-weight="bold" font-size="24.4" fill="#000" stroke="#000" stroke-width="0.3" transform="translate(1194.9,473.3) scale(1.075,1)" text-anchor="start" xml:space="preserve">390 nm</text>
<circle cx="1180.3" cy="483.8" r="3.8" fill="#ffd2c8" fill-opacity="0.6"/>
<circle cx="1180.3" cy="483.8" r="2.1" fill="#300404"/>
<text font-family="'Liberation Sans',Arial,Helvetica,sans-serif" font-weight="bold" font-size="24.4" fill="#000" stroke="#000" stroke-width="0.3" transform="translate(1191.1,496) scale(1.075,1)" text-anchor="start" xml:space="preserve">370 nm</text>
<circle cx="1175.5" cy="502.7" r="3.8" fill="#ffd2c8" fill-opacity="0.6"/>
<circle cx="1175.5" cy="502.7" r="2.1" fill="#300404"/>
<text font-family="'Liberation Sans',Arial,Helvetica,sans-serif" font-weight="bold" font-size="24.4" fill="#000" stroke="#000" stroke-width="0.3" transform="translate(1188.7,518.9) scale(1.075,1)" text-anchor="start" xml:space="preserve">350 nm</text>
</g>
</svg>
</body></html>
